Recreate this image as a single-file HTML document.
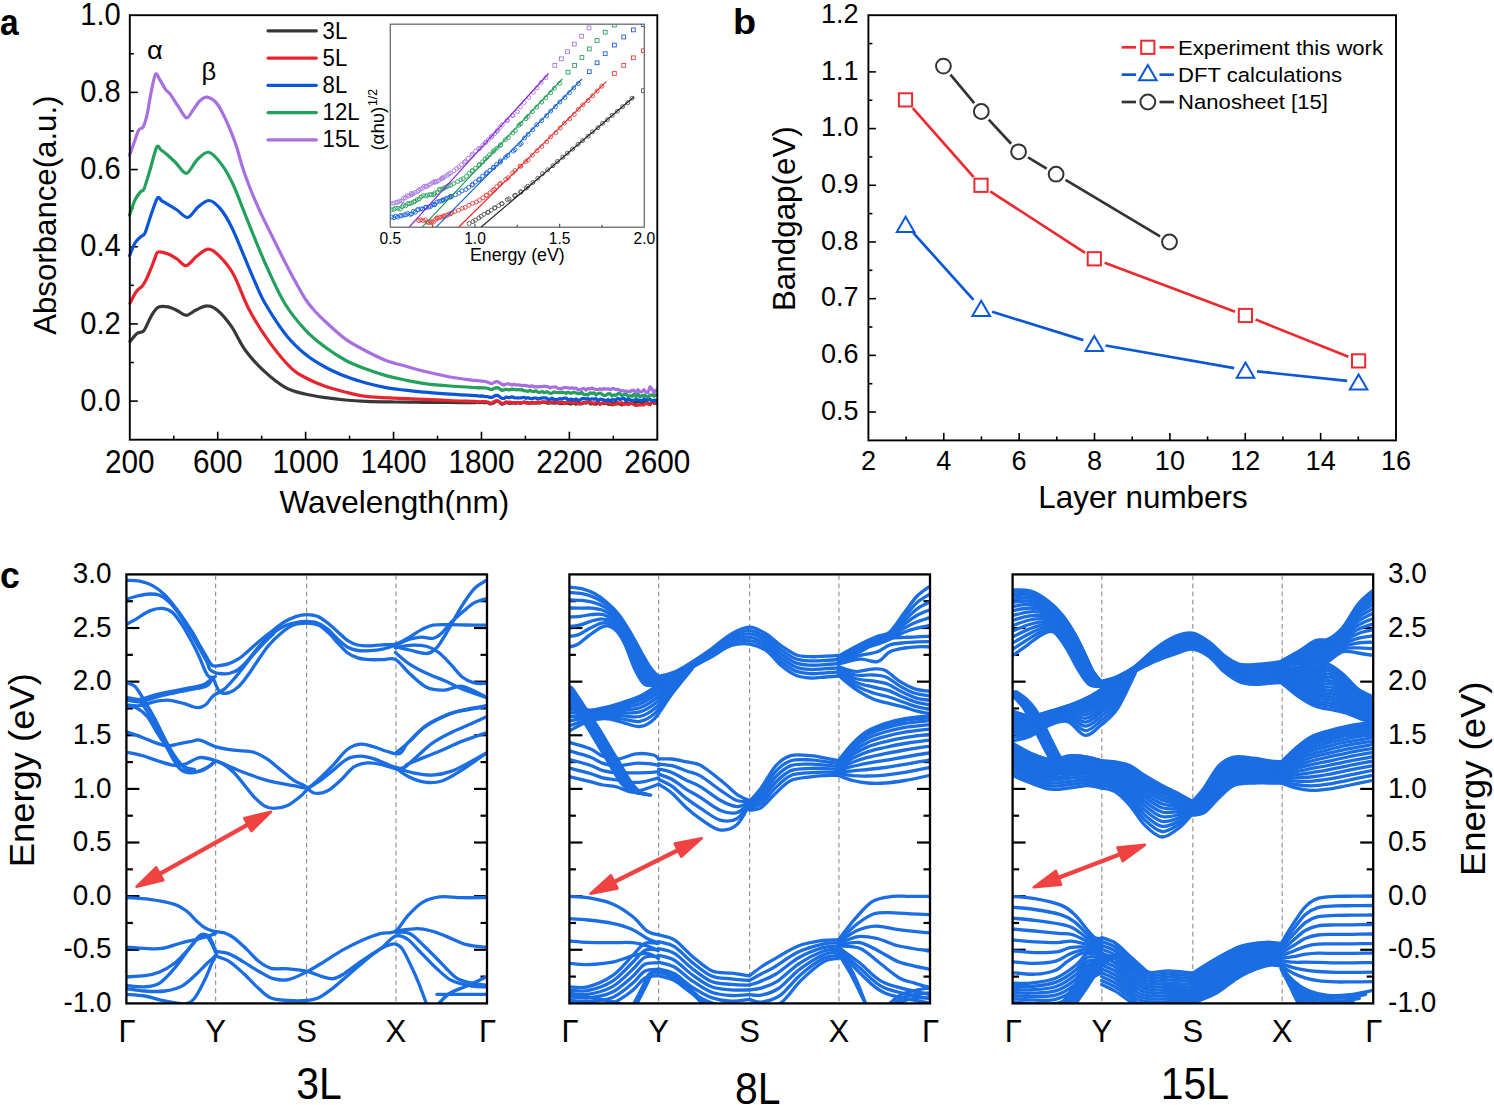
<!DOCTYPE html>
<html><head><meta charset="utf-8"><style>
html,body{margin:0;padding:0;background:#fff;}
svg{display:block;}
text{font-family:"Liberation Sans", sans-serif;}
</style></head><body>
<svg width="1494" height="1105" viewBox="0 0 1494 1105">
<rect width="1494" height="1105" fill="#fff"/>
<line x1="173.76" y1="439.70" x2="173.76" y2="435.70" stroke="#000" stroke-width="1.6" />
<line x1="217.72" y1="439.70" x2="217.72" y2="431.70" stroke="#000" stroke-width="1.6" />
<line x1="261.68" y1="439.70" x2="261.68" y2="435.70" stroke="#000" stroke-width="1.6" />
<line x1="305.63" y1="439.70" x2="305.63" y2="431.70" stroke="#000" stroke-width="1.6" />
<line x1="349.59" y1="439.70" x2="349.59" y2="435.70" stroke="#000" stroke-width="1.6" />
<line x1="393.55" y1="439.70" x2="393.55" y2="431.70" stroke="#000" stroke-width="1.6" />
<line x1="437.51" y1="439.70" x2="437.51" y2="435.70" stroke="#000" stroke-width="1.6" />
<line x1="481.47" y1="439.70" x2="481.47" y2="431.70" stroke="#000" stroke-width="1.6" />
<line x1="525.42" y1="439.70" x2="525.42" y2="435.70" stroke="#000" stroke-width="1.6" />
<line x1="569.38" y1="439.70" x2="569.38" y2="431.70" stroke="#000" stroke-width="1.6" />
<line x1="613.34" y1="439.70" x2="613.34" y2="435.70" stroke="#000" stroke-width="1.6" />
<line x1="129.80" y1="401.11" x2="137.80" y2="401.11" stroke="#000" stroke-width="1.6" />
<line x1="129.80" y1="362.52" x2="133.80" y2="362.52" stroke="#000" stroke-width="1.6" />
<line x1="129.80" y1="323.93" x2="137.80" y2="323.93" stroke="#000" stroke-width="1.6" />
<line x1="129.80" y1="285.34" x2="133.80" y2="285.34" stroke="#000" stroke-width="1.6" />
<line x1="129.80" y1="246.75" x2="137.80" y2="246.75" stroke="#000" stroke-width="1.6" />
<line x1="129.80" y1="208.15" x2="133.80" y2="208.15" stroke="#000" stroke-width="1.6" />
<line x1="129.80" y1="169.56" x2="137.80" y2="169.56" stroke="#000" stroke-width="1.6" />
<line x1="129.80" y1="130.97" x2="133.80" y2="130.97" stroke="#000" stroke-width="1.6" />
<line x1="129.80" y1="92.38" x2="137.80" y2="92.38" stroke="#000" stroke-width="1.6" />
<line x1="129.80" y1="53.79" x2="133.80" y2="53.79" stroke="#000" stroke-width="1.6" />
<text transform="translate(129.80,473.40) scale(0.9040,1)" font-size="32.9" text-anchor="middle" font-weight="normal" fill="#000">200</text>
<text transform="translate(217.72,473.40) scale(0.9040,1)" font-size="32.9" text-anchor="middle" font-weight="normal" fill="#000">600</text>
<text transform="translate(305.63,473.40) scale(0.9040,1)" font-size="32.9" text-anchor="middle" font-weight="normal" fill="#000">1000</text>
<text transform="translate(393.55,473.40) scale(0.9040,1)" font-size="32.9" text-anchor="middle" font-weight="normal" fill="#000">1400</text>
<text transform="translate(481.47,473.40) scale(0.9040,1)" font-size="32.9" text-anchor="middle" font-weight="normal" fill="#000">1800</text>
<text transform="translate(569.38,473.40) scale(0.9040,1)" font-size="32.9" text-anchor="middle" font-weight="normal" fill="#000">2200</text>
<text transform="translate(657.30,473.40) scale(0.9040,1)" font-size="32.9" text-anchor="middle" font-weight="normal" fill="#000">2600</text>
<text transform="translate(120.70,410.76) scale(0.9100,1)" font-size="32.0" text-anchor="end" font-weight="normal" fill="#000">0.0</text>
<text transform="translate(120.70,333.58) scale(0.9100,1)" font-size="32.0" text-anchor="end" font-weight="normal" fill="#000">0.2</text>
<text transform="translate(120.70,256.40) scale(0.9100,1)" font-size="32.0" text-anchor="end" font-weight="normal" fill="#000">0.4</text>
<text transform="translate(120.70,179.21) scale(0.9100,1)" font-size="32.0" text-anchor="end" font-weight="normal" fill="#000">0.6</text>
<text transform="translate(120.70,102.03) scale(0.9100,1)" font-size="32.0" text-anchor="end" font-weight="normal" fill="#000">0.8</text>
<text transform="translate(120.70,24.85) scale(0.9100,1)" font-size="32.0" text-anchor="end" font-weight="normal" fill="#000">1.0</text>
<text transform="translate(279.40,513.30) scale(1.0160,1)" font-size="31" text-anchor="start" font-weight="normal" fill="#000">Wavelength(nm)</text>
<text transform="translate(55.60,334.80) rotate(-90) scale(1.0230,1)" font-size="30.5" text-anchor="start" font-weight="normal" fill="#000">Absorbance(a.u.)</text>
<text transform="translate(0.10,34.80) scale(0.9000,1)" font-size="37.2" text-anchor="start" font-weight="bold" fill="#000">a</text>
<text transform="translate(147.00,58.70) scale(1.0700,1)" font-size="25.6" text-anchor="start" font-weight="normal" fill="#000">&#945;</text>
<text transform="translate(201.50,79.75) scale(1.0360,1)" font-size="24.7" text-anchor="start" font-weight="normal" fill="#000">&#946;</text>
<g fill="none" stroke-width="3.2" stroke-linejoin="round" stroke-linecap="round">
<path d="M130.0 341.4 C131.2 340.1 134.7 335.2 137.0 333.4 C139.3 331.6 141.8 333.2 144.1 330.4 C146.4 327.5 148.8 320.1 151.1 316.3 C153.4 312.5 155.2 308.9 158.1 307.3 C160.9 305.7 165.0 306.4 168.2 306.9 C171.3 307.4 174.0 309.1 177.0 310.5 C180.0 311.9 183.0 315.4 186.2 315.3 C189.4 315.2 192.5 311.6 196.0 310.0 C199.5 308.4 203.7 305.8 207.3 305.9 C210.9 305.9 213.4 306.9 217.4 310.3 C221.4 313.7 226.7 319.7 231.4 326.4 C236.1 333.1 240.1 343.1 245.5 350.5 C250.9 357.9 256.9 364.4 263.6 370.6 C270.3 376.8 278.7 383.7 285.6 387.6 C292.5 391.5 298.3 392.3 305.0 394.0 C311.7 395.7 319.1 396.7 325.8 397.7 C332.5 398.7 338.3 399.4 345.0 400.0 C351.7 400.6 357.7 401.0 366.0 401.3 C374.3 401.6 385.2 401.8 395.0 402.0 C404.8 402.2 415.8 402.2 425.0 402.3 C434.2 402.4 441.7 402.4 450.0 402.5 C458.3 402.6 470.8 402.6 475.0 402.6 L476.0 402.5 L478.0 402.4 L480.0 402.7 L482.0 402.3 L484.0 402.7 L486.0 402.6 L488.0 402.3 L490.0 403.9 L492.0 403.4 L494.0 402.7 L496.0 401.2 L498.0 401.2 L500.0 402.7 L502.0 404.3 L504.0 403.5 L506.0 402.5 L508.0 403.0 L510.0 403.4 L512.0 402.9 L514.0 402.7 L516.0 403.5 L518.0 402.3 L520.0 403.4 L522.0 402.6 L524.0 402.4 L526.0 402.3 L528.0 402.6 L530.0 403.4 L532.0 402.4 L534.0 403.1 L536.0 403.2 L538.0 402.7 L540.0 403.0 L542.0 402.2 L544.0 402.2 L546.0 402.5 L548.0 403.3 L550.0 402.9 L552.0 402.7 L554.0 403.2 L556.0 402.9 L558.0 402.6 L560.0 403.6 L562.0 403.5 L564.0 402.5 L566.0 403.2 L568.0 403.1 L570.0 403.9 L572.0 403.6 L574.0 402.6 L576.0 404.2 L578.0 402.2 L580.0 402.9 L582.0 403.7 L584.0 402.3 L586.0 403.1 L588.0 402.0 L590.0 403.6 L592.0 403.8 L594.0 403.4 L596.0 404.2 L598.0 402.7 L600.0 403.7 L602.0 403.5 L604.0 403.4 L606.0 403.1 L608.0 404.2 L610.0 404.5 L612.0 403.1 L614.0 403.7 L616.0 401.9 L618.0 403.8 L620.0 403.7 L622.0 404.8 L624.0 404.2 L626.0 402.6 L628.0 402.9 L630.0 403.8 L632.0 401.7 L634.0 403.1 L636.0 402.2 L638.0 402.0 L640.0 401.8 L642.0 404.2 L644.0 402.0 L646.0 402.4 L648.0 402.9 L650.0 404.6 L652.0 401.8 L654.0 403.1 L656.0 403.5" stroke="#383838"/>
<path d="M130.0 303.3 C131.0 301.4 134.0 294.9 136.0 292.0 C138.0 289.1 140.4 288.2 142.1 286.2 C143.8 284.2 144.5 283.0 146.0 280.0 C147.5 277.0 149.6 271.9 151.1 268.2 C152.6 264.5 153.8 260.7 155.0 258.0 C156.2 255.3 155.9 252.8 158.1 252.1 C160.3 251.4 165.0 252.9 168.2 254.1 C171.3 255.2 174.0 257.1 177.0 259.0 C180.0 260.9 182.9 266.2 186.2 265.7 C189.5 265.2 193.3 258.8 197.0 256.0 C200.7 253.2 204.6 249.1 208.3 249.1 C212.0 249.1 215.2 251.9 219.4 256.1 C223.6 260.3 228.4 265.2 233.4 274.2 C238.4 283.2 243.5 298.9 249.5 310.3 C255.5 321.7 262.6 332.7 269.6 342.4 C276.6 352.1 285.3 362.5 291.7 368.6 C298.1 374.7 302.3 376.0 308.0 379.0 C313.7 382.0 319.6 384.4 325.8 386.6 C332.0 388.8 338.3 390.4 345.0 392.0 C351.7 393.6 357.7 395.3 366.0 396.3 C374.3 397.3 385.2 397.7 395.0 398.2 C404.8 398.7 415.8 398.9 425.0 399.3 C434.2 399.7 441.7 400.1 450.0 400.5 C458.3 400.9 470.8 401.2 475.0 401.4 L476.0 401.7 L478.0 401.7 L480.0 401.8 L482.0 401.5 L484.0 401.7 L486.0 401.7 L488.0 402.2 L490.0 403.5 L492.0 402.8 L494.0 401.8 L496.0 400.8 L498.0 400.8 L500.0 402.3 L502.0 403.5 L504.0 403.2 L506.0 401.8 L508.0 402.3 L510.0 402.2 L512.0 402.5 L514.0 403.0 L516.0 402.7 L518.0 402.5 L520.0 402.7 L522.0 402.8 L524.0 401.9 L526.0 403.1 L528.0 403.0 L530.0 403.2 L532.0 403.1 L534.0 402.5 L536.0 402.5 L538.0 402.0 L540.0 402.9 L542.0 402.0 L544.0 402.0 L546.0 402.2 L548.0 402.2 L550.0 402.5 L552.0 402.0 L554.0 401.9 L556.0 402.2 L558.0 402.1 L560.0 402.6 L562.0 401.9 L564.0 403.7 L566.0 403.2 L568.0 402.2 L570.0 402.4 L572.0 402.6 L574.0 402.7 L576.0 402.1 L578.0 403.8 L580.0 404.2 L582.0 403.0 L584.0 403.0 L586.0 402.1 L588.0 402.1 L590.0 402.7 L592.0 402.5 L594.0 404.0 L596.0 402.3 L598.0 401.9 L600.0 404.4 L602.0 403.3 L604.0 402.3 L606.0 403.4 L608.0 402.0 L610.0 403.5 L612.0 404.8 L614.0 404.5 L616.0 404.1 L618.0 402.8 L620.0 403.2 L622.0 402.6 L624.0 404.5 L626.0 403.8 L628.0 404.6 L630.0 403.2 L632.0 402.9 L634.0 404.8 L636.0 405.4 L638.0 405.1 L640.0 405.0 L642.0 405.0 L644.0 404.8 L646.0 403.1 L648.0 404.1 L650.0 403.6 L652.0 402.4 L654.0 402.4 L656.0 403.3" stroke="#e8252e"/>
<path d="M129.5 255.9 C130.4 253.8 133.1 246.2 135.0 243.0 C136.9 239.8 139.1 238.4 140.8 236.7 C142.5 235.0 143.3 236.6 145.0 233.0 C146.7 229.4 148.9 220.8 151.0 215.0 C153.1 209.2 155.6 200.5 157.4 198.2 C159.2 195.9 160.4 200.1 162.0 201.0 C163.6 201.9 164.4 202.3 166.9 203.8 C169.4 205.3 173.5 207.7 177.0 210.0 C180.5 212.3 184.4 217.9 187.9 217.4 C191.4 216.9 194.4 209.8 198.0 207.0 C201.6 204.2 205.5 200.3 209.2 200.5 C212.9 200.7 216.3 204.1 220.0 208.4 C223.7 212.7 227.2 218.2 231.3 226.5 C235.5 234.8 241.0 248.9 244.9 258.1 C248.8 267.4 251.6 274.3 255.0 282.0 C258.4 289.7 260.5 295.6 265.6 304.3 C270.7 313.0 278.9 326.0 285.6 334.4 C292.3 342.8 299.1 349.1 305.7 354.5 C312.3 359.9 318.3 363.3 325.0 367.0 C331.7 370.7 339.1 373.9 345.9 376.6 C352.7 379.3 359.3 381.2 366.0 383.0 C372.7 384.8 379.5 386.4 386.0 387.6 C392.5 388.8 398.5 389.4 405.0 390.2 C411.5 391.0 417.5 391.5 425.0 392.2 C432.5 392.9 441.7 393.6 450.0 394.2 C458.3 394.8 470.8 395.4 475.0 395.6 L476.0 395.5 L478.0 395.9 L480.0 396.2 L482.0 395.9 L484.0 396.4 L486.0 396.6 L488.0 396.7 L490.0 397.4 L492.0 397.4 L494.0 396.3 L496.0 395.3 L498.0 395.4 L500.0 397.0 L502.0 398.5 L504.0 398.5 L506.0 397.1 L508.0 397.4 L510.0 397.6 L512.0 396.8 L514.0 397.6 L516.0 398.0 L518.0 397.9 L520.0 398.0 L522.0 397.7 L524.0 397.3 L526.0 398.3 L528.0 397.7 L530.0 398.4 L532.0 398.8 L534.0 398.0 L536.0 398.0 L538.0 399.0 L540.0 398.7 L542.0 397.8 L544.0 397.8 L546.0 397.9 L548.0 399.4 L550.0 399.3 L552.0 398.1 L554.0 399.4 L556.0 399.8 L558.0 399.2 L560.0 398.6 L562.0 399.0 L564.0 398.2 L566.0 398.0 L568.0 400.0 L570.0 399.4 L572.0 399.2 L574.0 400.1 L576.0 399.0 L578.0 400.1 L580.0 400.0 L582.0 398.6 L584.0 398.7 L586.0 398.8 L588.0 398.7 L590.0 399.6 L592.0 398.8 L594.0 399.3 L596.0 398.6 L598.0 400.7 L600.0 399.2 L602.0 399.5 L604.0 399.9 L606.0 400.8 L608.0 399.5 L610.0 400.9 L612.0 399.7 L614.0 399.8 L616.0 399.8 L618.0 398.3 L620.0 399.6 L622.0 398.8 L624.0 398.3 L626.0 400.8 L628.0 398.8 L630.0 399.8 L632.0 400.6 L634.0 400.1 L636.0 399.4 L638.0 400.0 L640.0 400.2 L642.0 401.0 L644.0 398.7 L646.0 400.3 L648.0 399.2 L650.0 399.3 L652.0 401.1 L654.0 400.1 L656.0 400.3" stroke="#0a56d8"/>
<path d="M129.5 215.2 C130.4 212.7 133.1 204.0 135.0 200.0 C136.9 196.0 139.3 193.2 140.8 191.4 C142.3 189.6 142.5 192.6 144.0 189.0 C145.5 185.4 147.9 176.9 150.0 170.0 C152.1 163.1 154.9 150.6 156.7 147.3 C158.5 144.0 159.3 148.8 161.0 150.0 C162.7 151.2 164.4 152.3 166.9 154.5 C169.4 156.7 172.7 159.9 176.0 163.0 C179.3 166.1 183.0 173.8 186.5 173.3 C190.0 172.8 193.3 163.5 197.0 160.0 C200.7 156.5 204.5 151.4 208.7 152.3 C212.9 153.2 218.2 159.8 222.3 165.4 C226.5 171.0 229.4 176.6 233.6 185.7 C237.8 194.8 241.9 206.6 247.2 219.7 C252.5 232.8 259.3 250.1 265.5 264.0 C271.7 277.9 277.8 291.9 284.5 303.0 C291.2 314.1 298.9 323.1 305.7 330.4 C312.4 337.7 318.3 342.0 325.0 347.0 C331.7 352.0 339.1 356.8 345.9 360.5 C352.7 364.2 359.3 366.5 366.0 369.0 C372.7 371.5 379.5 373.8 386.0 375.6 C392.5 377.4 398.5 378.7 405.0 380.0 C411.5 381.3 417.5 382.6 425.0 383.6 C432.5 384.6 441.7 385.4 450.0 386.0 C458.3 386.6 470.8 387.2 475.0 387.5 L476.0 387.7 L478.0 387.9 L480.0 387.7 L482.0 387.9 L484.0 387.9 L486.0 388.0 L488.0 388.3 L490.0 389.3 L492.0 389.5 L494.0 388.4 L496.0 387.8 L498.0 387.7 L500.0 389.1 L502.0 390.4 L504.0 389.9 L506.0 389.2 L508.0 389.8 L510.0 389.8 L512.0 389.1 L514.0 389.3 L516.0 389.8 L518.0 389.5 L520.0 389.8 L522.0 389.7 L524.0 390.7 L526.0 391.0 L528.0 391.4 L530.0 390.4 L532.0 391.4 L534.0 391.5 L536.0 390.8 L538.0 392.2 L540.0 392.5 L542.0 391.3 L544.0 392.8 L546.0 391.9 L548.0 392.2 L550.0 393.3 L552.0 393.1 L554.0 391.9 L556.0 392.5 L558.0 392.7 L560.0 392.4 L562.0 392.2 L564.0 392.5 L566.0 393.4 L568.0 392.0 L570.0 393.2 L572.0 393.1 L574.0 392.2 L576.0 392.9 L578.0 393.7 L580.0 393.5 L582.0 392.5 L584.0 394.8 L586.0 394.4 L588.0 394.9 L590.0 392.8 L592.0 393.3 L594.0 392.8 L596.0 394.8 L598.0 393.5 L600.0 393.2 L602.0 394.1 L604.0 395.5 L606.0 395.3 L608.0 393.8 L610.0 393.6 L612.0 395.8 L614.0 394.9 L616.0 395.4 L618.0 393.6 L620.0 393.6 L622.0 395.6 L624.0 394.8 L626.0 393.8 L628.0 396.6 L630.0 395.7 L632.0 396.3 L634.0 394.1 L636.0 396.7 L638.0 394.1 L640.0 396.9 L642.0 395.6 L644.0 395.2 L646.0 396.0 L648.0 397.4 L650.0 395.2 L652.0 394.7 L654.0 396.1 L656.0 395.0" stroke="#22a05c"/>
<path d="M129.5 155.2 C130.2 153.2 132.5 147.2 134.0 143.0 C135.5 138.8 137.1 133.0 138.6 130.3 C140.1 127.6 141.7 129.5 143.1 126.9 C144.5 124.4 145.7 120.7 147.0 115.0 C148.3 109.3 149.6 99.8 151.0 93.0 C152.4 86.2 154.0 76.6 155.5 74.4 C157.0 72.2 158.3 77.5 160.0 80.0 C161.7 82.5 164.0 87.2 165.7 89.6 C167.4 91.9 168.1 91.4 170.2 94.1 C172.2 96.8 175.3 102.0 178.0 106.0 C180.7 110.0 184.0 117.2 186.5 117.9 C189.0 118.6 190.8 112.8 193.0 110.0 C195.2 107.2 197.4 103.1 199.7 100.9 C202.0 98.8 204.3 96.9 206.9 97.1 C209.5 97.3 213.0 99.5 215.5 102.0 C218.0 104.5 219.8 107.8 222.0 112.0 C224.2 116.2 226.7 121.4 229.0 126.9 C231.3 132.4 233.7 138.2 236.0 145.0 C238.3 151.8 240.3 160.4 242.6 167.6 C244.9 174.8 247.0 180.4 250.0 188.0 C253.0 195.6 257.0 204.9 260.7 212.9 C264.4 220.9 268.2 228.3 272.0 236.0 C275.8 243.7 279.6 251.5 283.4 259.0 C287.2 266.5 291.2 274.2 295.0 281.0 C298.8 287.8 302.6 294.8 306.0 300.0 C309.4 305.2 312.4 308.3 315.7 312.0 C319.0 315.7 320.8 317.4 325.8 322.0 C330.8 326.6 339.2 334.6 345.9 339.4 C352.6 344.2 359.3 347.5 366.0 351.0 C372.7 354.5 379.5 358.0 386.0 360.5 C392.5 363.0 398.5 364.2 405.0 366.0 C411.5 367.8 417.5 369.7 425.0 371.5 C432.5 373.3 441.7 375.5 450.0 377.0 C458.3 378.5 470.8 379.9 475.0 380.5 L476.0 380.3 L478.0 380.6 L480.0 380.8 L482.0 381.1 L484.0 381.4 L486.0 381.7 L488.0 382.3 L490.0 383.2 L492.0 383.7 L494.0 382.5 L496.0 381.7 L498.0 381.7 L500.0 383.2 L502.0 384.3 L504.0 385.2 L506.0 384.0 L508.0 383.8 L510.0 384.3 L512.0 385.0 L514.0 384.1 L516.0 385.2 L518.0 384.8 L520.0 385.1 L522.0 385.7 L524.0 385.3 L526.0 385.6 L528.0 386.0 L530.0 386.6 L532.0 385.8 L534.0 386.8 L536.0 386.7 L538.0 386.8 L540.0 386.5 L542.0 386.6 L544.0 386.2 L546.0 386.5 L548.0 386.6 L550.0 387.9 L552.0 387.1 L554.0 387.0 L556.0 386.9 L558.0 388.5 L560.0 388.7 L562.0 388.4 L564.0 387.6 L566.0 387.6 L568.0 387.8 L570.0 388.3 L572.0 387.7 L574.0 388.4 L576.0 388.0 L578.0 389.8 L580.0 389.9 L582.0 389.0 L584.0 388.3 L586.0 390.2 L588.0 388.6 L590.0 388.8 L592.0 388.0 L594.0 389.0 L596.0 389.4 L598.0 389.5 L600.0 388.8 L602.0 389.7 L604.0 388.4 L606.0 389.2 L608.0 388.7 L610.0 389.7 L612.0 388.7 L614.0 388.7 L616.0 389.6 L618.0 389.4 L620.0 390.6 L622.0 390.5 L624.0 391.2 L626.0 391.0 L628.0 391.3 L630.0 391.9 L632.0 390.4 L634.0 390.3 L636.0 392.5 L638.0 389.8 L640.0 391.8 L642.0 391.6 L644.0 389.6 L646.0 392.4 L648.0 392.7 L650.0 386.8 L652.0 389.2 L654.0 392.5 L656.0 390.1" stroke="#a86fe0"/>
</g>
<line x1="268.00" y1="30.80" x2="316.30" y2="30.80" stroke="#383838" stroke-width="3.2" stroke-linecap="round"/>
<text transform="translate(322.60,39.20) scale(0.9500,1)" font-size="23.3" text-anchor="start" font-weight="normal" fill="#000">3L</text>
<line x1="268.00" y1="58.05" x2="316.30" y2="58.05" stroke="#e8252e" stroke-width="3.2" stroke-linecap="round"/>
<text transform="translate(322.60,66.20) scale(0.9500,1)" font-size="23.3" text-anchor="start" font-weight="normal" fill="#000">5L</text>
<line x1="268.00" y1="85.30" x2="316.30" y2="85.30" stroke="#0a56d8" stroke-width="3.2" stroke-linecap="round"/>
<text transform="translate(322.60,93.20) scale(0.9500,1)" font-size="23.3" text-anchor="start" font-weight="normal" fill="#000">8L</text>
<line x1="268.00" y1="112.55" x2="316.30" y2="112.55" stroke="#22a05c" stroke-width="3.2" stroke-linecap="round"/>
<text transform="translate(322.60,120.20) scale(0.9500,1)" font-size="23.3" text-anchor="start" font-weight="normal" fill="#000">12L</text>
<line x1="268.00" y1="139.80" x2="316.30" y2="139.80" stroke="#a86fe0" stroke-width="3.2" stroke-linecap="round"/>
<text transform="translate(322.60,147.20) scale(0.9500,1)" font-size="23.3" text-anchor="start" font-weight="normal" fill="#000">15L</text>
<rect x="390.3" y="24.2" width="253.99999999999994" height="203.0" fill="none" stroke="#6a6a6a" stroke-width="1.3"/>
<line x1="432.63" y1="227.20" x2="432.63" y2="224.70" stroke="#555" stroke-width="1.2" />
<line x1="474.97" y1="227.20" x2="474.97" y2="223.70" stroke="#555" stroke-width="1.2" />
<line x1="517.30" y1="227.20" x2="517.30" y2="224.70" stroke="#555" stroke-width="1.2" />
<line x1="559.63" y1="227.20" x2="559.63" y2="223.70" stroke="#555" stroke-width="1.2" />
<line x1="601.97" y1="227.20" x2="601.97" y2="224.70" stroke="#555" stroke-width="1.2" />
<text transform="translate(390.30,243.90) scale(1.0000,1)" font-size="15.6" text-anchor="middle" font-weight="normal" fill="#000">0.5</text>
<text transform="translate(474.97,243.90) scale(1.0000,1)" font-size="15.6" text-anchor="middle" font-weight="normal" fill="#000">1.0</text>
<text transform="translate(559.63,243.90) scale(1.0000,1)" font-size="15.6" text-anchor="middle" font-weight="normal" fill="#000">1.5</text>
<text transform="translate(644.30,243.90) scale(1.0000,1)" font-size="15.6" text-anchor="middle" font-weight="normal" fill="#000">2.0</text>
<text transform="translate(470.00,260.95) scale(1.0000,1)" font-size="17.75" text-anchor="start" font-weight="normal" fill="#000">Energy (eV)</text>
<text transform="translate(383.90,150.60) rotate(-90) scale(1.0270,1)" font-size="18.2" text-anchor="start" font-weight="normal" fill="#000">(&#945;h&#965;)</text>
<text transform="translate(377.30,106.00) rotate(-90) scale(1.0000,1)" font-size="12.3" text-anchor="start" font-weight="normal" fill="#000">1/2</text>
<defs><clipPath id="icl"><rect x="390.3" y="24.2" width="253.99999999999994" height="203.0"/></clipPath></defs>
<g clip-path="url(#icl)">
<g fill="none" stroke="#555" stroke-width="0.9"><circle cx="469.2" cy="223.5" r="2"/><circle cx="472.9" cy="221.6" r="2"/><circle cx="475.4" cy="220.1" r="2"/><circle cx="478.8" cy="218.0" r="2"/><circle cx="481.1" cy="216.3" r="2"/><circle cx="484.0" cy="214.3" r="2"/><circle cx="487.7" cy="212.3" r="2"/><circle cx="488.3" cy="212.4" r="2"/><circle cx="491.4" cy="210.2" r="2"/><circle cx="494.8" cy="207.9" r="2"/><circle cx="494.7" cy="207.8" r="2"/><circle cx="498.8" cy="205.6" r="2"/><circle cx="502.0" cy="203.7" r="2"/><circle cx="501.8" cy="203.6" r="2"/><circle cx="507.3" cy="199.7" r="2"/><circle cx="509.0" cy="198.9" r="2"/><circle cx="514.6" cy="195.6" r="2"/><circle cx="515.5" cy="195.3" r="2"/><circle cx="520.6" cy="191.9" r="2"/><circle cx="521.0" cy="192.0" r="2"/><circle cx="526.2" cy="188.0" r="2"/><circle cx="527.7" cy="186.3" r="2"/><circle cx="532.8" cy="182.5" r="2"/><circle cx="537.8" cy="178.2" r="2"/><circle cx="542.5" cy="173.7" r="2"/><circle cx="547.7" cy="169.8" r="2"/><circle cx="553.0" cy="165.7" r="2"/><circle cx="557.6" cy="161.4" r="2"/><circle cx="562.8" cy="157.1" r="2"/><circle cx="567.4" cy="153.2" r="2"/><circle cx="572.5" cy="149.1" r="2"/><circle cx="578.0" cy="144.3" r="2"/><circle cx="582.6" cy="140.6" r="2"/><circle cx="588.0" cy="136.2" r="2"/><circle cx="592.4" cy="131.8" r="2"/><circle cx="597.9" cy="127.7" r="2"/><circle cx="602.6" cy="123.4" r="2"/><circle cx="607.5" cy="119.7" r="2"/><circle cx="612.2" cy="115.4" r="2"/><circle cx="617.4" cy="111.3" r="2"/><circle cx="622.6" cy="106.7" r="2"/><circle cx="627.7" cy="102.7" r="2"/><circle cx="632.0" cy="98.2" r="2"/><rect x="641.6" y="88.8" width="3.8" height="3.8"/></g>
<line x1="480.90" y1="227.20" x2="634.10" y2="96.80" stroke="#222" stroke-width="1.2" />
<g fill="none" stroke="#e84040" stroke-width="0.9"><circle cx="418.6" cy="220.5" r="2"/><circle cx="420.6" cy="219.9" r="2"/><circle cx="422.9" cy="220.5" r="2"/><circle cx="425.5" cy="219.9" r="2"/><circle cx="427.0" cy="222.0" r="2"/><circle cx="428.7" cy="222.5" r="2"/><circle cx="431.3" cy="222.7" r="2"/><circle cx="431.3" cy="221.5" r="2"/><circle cx="433.4" cy="222.0" r="2"/><circle cx="435.5" cy="219.5" r="2"/><circle cx="437.3" cy="218.3" r="2"/><circle cx="437.0" cy="217.8" r="2"/><circle cx="439.7" cy="217.5" r="2"/><circle cx="441.8" cy="217.0" r="2"/><circle cx="443.3" cy="216.3" r="2"/><circle cx="444.3" cy="215.8" r="2"/><circle cx="446.9" cy="215.3" r="2"/><circle cx="448.8" cy="214.2" r="2"/><circle cx="450.9" cy="213.6" r="2"/><circle cx="451.5" cy="213.0" r="2"/><circle cx="454.8" cy="211.5" r="2"/><circle cx="458.6" cy="210.2" r="2"/><circle cx="462.4" cy="208.3" r="2"/><circle cx="465.2" cy="207.4" r="2"/><circle cx="468.9" cy="205.3" r="2"/><circle cx="472.6" cy="203.4" r="2"/><circle cx="476.5" cy="202.0" r="2"/><circle cx="479.6" cy="200.1" r="2"/><circle cx="483.0" cy="197.8" r="2"/><circle cx="486.4" cy="195.3" r="2"/><circle cx="486.5" cy="195.1" r="2"/><circle cx="490.2" cy="192.7" r="2"/><circle cx="492.7" cy="190.4" r="2"/><circle cx="494.3" cy="189.4" r="2"/><circle cx="496.7" cy="186.6" r="2"/><circle cx="499.7" cy="184.1" r="2"/><circle cx="500.6" cy="183.3" r="2"/><circle cx="505.7" cy="179.4" r="2"/><circle cx="508.3" cy="177.7" r="2"/><circle cx="512.6" cy="173.0" r="2"/><circle cx="515.1" cy="170.5" r="2"/><circle cx="520.0" cy="166.2" r="2"/><circle cx="520.7" cy="166.2" r="2"/><circle cx="525.6" cy="161.7" r="2"/><circle cx="528.1" cy="160.2" r="2"/><circle cx="532.4" cy="155.3" r="2"/><circle cx="537.0" cy="150.8" r="2"/><circle cx="541.8" cy="146.5" r="2"/><circle cx="546.7" cy="141.9" r="2"/><circle cx="550.6" cy="136.8" r="2"/><circle cx="555.8" cy="132.7" r="2"/><circle cx="560.2" cy="127.9" r="2"/><circle cx="564.4" cy="123.2" r="2"/><circle cx="569.8" cy="118.9" r="2"/><circle cx="574.3" cy="114.4" r="2"/><circle cx="578.4" cy="109.3" r="2"/><circle cx="582.9" cy="104.9" r="2"/><circle cx="588.0" cy="100.6" r="2"/><circle cx="592.6" cy="95.8" r="2"/><circle cx="597.2" cy="91.1" r="2"/><circle cx="601.7" cy="86.3" r="2"/><rect x="612.5" y="71.6" width="3.8" height="3.8"/><rect x="621.8" y="63.5" width="3.8" height="3.8"/><rect x="631.5" y="55.9" width="3.8" height="3.8"/><rect x="641.6" y="48.8" width="3.8" height="3.8"/></g>
<line x1="458.60" y1="227.20" x2="606.20" y2="81.60" stroke="#e62626" stroke-width="1.2" />
<g fill="none" stroke="#1a62d8" stroke-width="0.9"><circle cx="391.7" cy="217.0" r="2"/><circle cx="394.0" cy="217.7" r="2"/><circle cx="395.7" cy="216.1" r="2"/><circle cx="397.8" cy="217.1" r="2"/><circle cx="400.0" cy="215.6" r="2"/><circle cx="401.6" cy="215.9" r="2"/><circle cx="404.1" cy="214.9" r="2"/><circle cx="405.9" cy="214.8" r="2"/><circle cx="407.8" cy="213.4" r="2"/><circle cx="410.3" cy="214.4" r="2"/><circle cx="411.6" cy="213.8" r="2"/><circle cx="413.5" cy="211.3" r="2"/><circle cx="415.3" cy="212.2" r="2"/><circle cx="417.6" cy="209.7" r="2"/><circle cx="418.2" cy="209.6" r="2"/><circle cx="420.9" cy="208.9" r="2"/><circle cx="422.7" cy="209.0" r="2"/><circle cx="425.4" cy="207.4" r="2"/><circle cx="426.4" cy="207.2" r="2"/><circle cx="428.7" cy="207.1" r="2"/><circle cx="430.5" cy="206.4" r="2"/><circle cx="432.9" cy="204.7" r="2"/><circle cx="434.5" cy="204.8" r="2"/><circle cx="434.9" cy="204.3" r="2"/><circle cx="436.9" cy="202.0" r="2"/><circle cx="439.4" cy="201.3" r="2"/><circle cx="441.5" cy="200.9" r="2"/><circle cx="442.9" cy="199.9" r="2"/><circle cx="443.2" cy="200.1" r="2"/><circle cx="445.7" cy="198.9" r="2"/><circle cx="447.3" cy="198.1" r="2"/><circle cx="449.7" cy="197.2" r="2"/><circle cx="451.0" cy="196.3" r="2"/><circle cx="451.4" cy="196.7" r="2"/><circle cx="455.4" cy="194.8" r="2"/><circle cx="459.0" cy="193.2" r="2"/><circle cx="462.0" cy="190.9" r="2"/><circle cx="465.9" cy="189.5" r="2"/><circle cx="468.6" cy="187.3" r="2"/><circle cx="472.2" cy="184.9" r="2"/><circle cx="472.6" cy="184.5" r="2"/><circle cx="475.4" cy="182.0" r="2"/><circle cx="478.7" cy="179.9" r="2"/><circle cx="479.5" cy="179.1" r="2"/><circle cx="482.6" cy="176.1" r="2"/><circle cx="486.2" cy="173.8" r="2"/><circle cx="486.7" cy="172.6" r="2"/><circle cx="489.9" cy="170.3" r="2"/><circle cx="493.3" cy="167.7" r="2"/><circle cx="493.8" cy="167.3" r="2"/><circle cx="496.6" cy="164.5" r="2"/><circle cx="500.3" cy="162.1" r="2"/><circle cx="500.5" cy="160.9" r="2"/><circle cx="505.5" cy="157.3" r="2"/><circle cx="507.8" cy="155.4" r="2"/><circle cx="513.3" cy="151.0" r="2"/><circle cx="514.9" cy="149.7" r="2"/><circle cx="519.8" cy="144.6" r="2"/><circle cx="521.1" cy="143.4" r="2"/><circle cx="524.6" cy="138.0" r="2"/><circle cx="528.2" cy="134.3" r="2"/><circle cx="532.7" cy="129.8" r="2"/><circle cx="536.8" cy="124.7" r="2"/><circle cx="541.7" cy="120.6" r="2"/><circle cx="546.7" cy="115.6" r="2"/><circle cx="550.7" cy="111.0" r="2"/><circle cx="555.5" cy="106.7" r="2"/><circle cx="559.9" cy="102.0" r="2"/><circle cx="564.9" cy="97.5" r="2"/><circle cx="569.5" cy="92.7" r="2"/><circle cx="573.7" cy="87.9" r="2"/><circle cx="578.4" cy="83.6" r="2"/><rect x="587.4" y="69.8" width="3.8" height="3.8"/><rect x="595.2" y="60.9" width="3.8" height="3.8"/><rect x="603.3" y="51.8" width="3.8" height="3.8"/><rect x="612.5" y="43.2" width="3.8" height="3.8"/><rect x="621.8" y="35.1" width="3.8" height="3.8"/><rect x="631.5" y="28.0" width="3.8" height="3.8"/><rect x="641.6" y="22.7" width="3.8" height="3.8"/></g>
<line x1="436.20" y1="227.20" x2="581.90" y2="79.00" stroke="#1560d8" stroke-width="1.2" />
<g fill="none" stroke="#2aa060" stroke-width="0.9"><circle cx="391.2" cy="209.9" r="2"/><circle cx="393.8" cy="209.4" r="2"/><circle cx="395.4" cy="208.3" r="2"/><circle cx="397.9" cy="208.3" r="2"/><circle cx="400.2" cy="209.1" r="2"/><circle cx="402.2" cy="206.7" r="2"/><circle cx="403.4" cy="205.3" r="2"/><circle cx="405.7" cy="205.8" r="2"/><circle cx="407.6" cy="203.7" r="2"/><circle cx="409.6" cy="203.6" r="2"/><circle cx="411.6" cy="203.0" r="2"/><circle cx="413.7" cy="201.8" r="2"/><circle cx="415.1" cy="201.3" r="2"/><circle cx="417.2" cy="199.6" r="2"/><circle cx="419.3" cy="199.0" r="2"/><circle cx="421.1" cy="196.9" r="2"/><circle cx="423.1" cy="195.7" r="2"/><circle cx="425.7" cy="196.0" r="2"/><circle cx="427.4" cy="195.0" r="2"/><circle cx="430.0" cy="194.6" r="2"/><circle cx="431.5" cy="194.7" r="2"/><circle cx="433.9" cy="194.5" r="2"/><circle cx="434.8" cy="192.8" r="2"/><circle cx="437.3" cy="192.6" r="2"/><circle cx="439.3" cy="189.6" r="2"/><circle cx="440.7" cy="189.4" r="2"/><circle cx="442.5" cy="188.9" r="2"/><circle cx="444.6" cy="187.9" r="2"/><circle cx="446.4" cy="186.9" r="2"/><circle cx="448.5" cy="185.7" r="2"/><circle cx="450.8" cy="185.2" r="2"/><circle cx="453.6" cy="183.6" r="2"/><circle cx="457.6" cy="181.5" r="2"/><circle cx="461.0" cy="179.7" r="2"/><circle cx="463.1" cy="178.7" r="2"/><circle cx="466.4" cy="176.3" r="2"/><circle cx="469.1" cy="173.2" r="2"/><circle cx="472.2" cy="171.0" r="2"/><circle cx="472.4" cy="170.5" r="2"/><circle cx="475.5" cy="168.2" r="2"/><circle cx="478.9" cy="165.2" r="2"/><circle cx="479.5" cy="164.6" r="2"/><circle cx="482.6" cy="161.9" r="2"/><circle cx="485.1" cy="158.8" r="2"/><circle cx="487.0" cy="157.5" r="2"/><circle cx="489.5" cy="154.7" r="2"/><circle cx="492.9" cy="151.9" r="2"/><circle cx="494.0" cy="150.5" r="2"/><circle cx="496.9" cy="148.2" r="2"/><circle cx="500.4" cy="145.4" r="2"/><circle cx="500.7" cy="144.8" r="2"/><circle cx="505.3" cy="139.8" r="2"/><circle cx="508.3" cy="137.6" r="2"/><circle cx="512.9" cy="133.0" r="2"/><circle cx="515.4" cy="130.6" r="2"/><circle cx="518.9" cy="125.3" r="2"/><circle cx="520.9" cy="123.6" r="2"/><circle cx="525.9" cy="118.7" r="2"/><circle cx="528.1" cy="116.4" r="2"/><circle cx="532.5" cy="111.6" r="2"/><circle cx="536.7" cy="107.1" r="2"/><circle cx="541.7" cy="102.1" r="2"/><circle cx="545.8" cy="97.8" r="2"/><circle cx="550.7" cy="92.7" r="2"/><circle cx="554.4" cy="88.4" r="2"/><circle cx="559.6" cy="83.4" r="2"/><rect x="566.1" y="70.3" width="3.8" height="3.8"/><rect x="572.7" y="63.5" width="3.8" height="3.8"/><rect x="580.0" y="55.6" width="3.8" height="3.8"/><rect x="587.4" y="47.0" width="3.8" height="3.8"/><rect x="595.2" y="38.6" width="3.8" height="3.8"/><rect x="603.3" y="30.3" width="3.8" height="3.8"/><rect x="612.5" y="23.1" width="3.8" height="3.8"/></g>
<line x1="422.10" y1="227.20" x2="562.40" y2="79.00" stroke="#1f9a55" stroke-width="1.2" />
<g fill="none" stroke="#a877e0" stroke-width="0.9"><circle cx="391.1" cy="203.4" r="2"/><circle cx="393.6" cy="203.1" r="2"/><circle cx="396.0" cy="202.5" r="2"/><circle cx="397.8" cy="202.1" r="2"/><circle cx="399.6" cy="201.0" r="2"/><circle cx="402.0" cy="200.8" r="2"/><circle cx="403.3" cy="198.2" r="2"/><circle cx="405.4" cy="197.8" r="2"/><circle cx="407.2" cy="195.7" r="2"/><circle cx="409.0" cy="196.0" r="2"/><circle cx="411.4" cy="193.3" r="2"/><circle cx="411.5" cy="194.7" r="2"/><circle cx="413.1" cy="193.9" r="2"/><circle cx="415.1" cy="192.4" r="2"/><circle cx="417.5" cy="191.5" r="2"/><circle cx="418.4" cy="190.4" r="2"/><circle cx="420.6" cy="189.3" r="2"/><circle cx="422.5" cy="188.3" r="2"/><circle cx="424.3" cy="186.2" r="2"/><circle cx="426.3" cy="186.2" r="2"/><circle cx="426.6" cy="186.5" r="2"/><circle cx="429.1" cy="184.9" r="2"/><circle cx="430.6" cy="184.1" r="2"/><circle cx="432.6" cy="182.4" r="2"/><circle cx="434.9" cy="181.5" r="2"/><circle cx="435.1" cy="182.4" r="2"/><circle cx="436.6" cy="181.6" r="2"/><circle cx="438.6" cy="180.7" r="2"/><circle cx="441.0" cy="179.1" r="2"/><circle cx="442.3" cy="178.0" r="2"/><circle cx="443.2" cy="177.9" r="2"/><circle cx="444.8" cy="176.6" r="2"/><circle cx="447.4" cy="175.3" r="2"/><circle cx="449.1" cy="173.8" r="2"/><circle cx="450.8" cy="172.9" r="2"/><circle cx="454.0" cy="170.8" r="2"/><circle cx="456.7" cy="168.5" r="2"/><circle cx="458.9" cy="166.8" r="2"/><circle cx="461.5" cy="164.7" r="2"/><circle cx="464.4" cy="162.2" r="2"/><circle cx="465.4" cy="161.4" r="2"/><circle cx="468.1" cy="158.4" r="2"/><circle cx="471.6" cy="155.4" r="2"/><circle cx="472.5" cy="154.1" r="2"/><circle cx="475.6" cy="151.3" r="2"/><circle cx="478.6" cy="148.8" r="2"/><circle cx="480.1" cy="148.3" r="2"/><circle cx="482.9" cy="145.2" r="2"/><circle cx="485.7" cy="142.3" r="2"/><circle cx="485.6" cy="142.5" r="2"/><circle cx="488.3" cy="139.8" r="2"/><circle cx="491.3" cy="136.8" r="2"/><circle cx="491.8" cy="136.3" r="2"/><circle cx="494.7" cy="133.7" r="2"/><circle cx="497.1" cy="131.0" r="2"/><circle cx="497.2" cy="130.9" r="2"/><circle cx="500.0" cy="127.4" r="2"/><circle cx="502.3" cy="124.7" r="2"/><circle cx="506.9" cy="120.8" r="2"/><circle cx="507.6" cy="120.2" r="2"/><circle cx="512.4" cy="115.5" r="2"/><circle cx="513.1" cy="115.4" r="2"/><circle cx="517.5" cy="111.7" r="2"/><circle cx="520.5" cy="106.8" r="2"/><circle cx="524.2" cy="102.5" r="2"/><circle cx="528.7" cy="97.5" r="2"/><circle cx="533.4" cy="92.4" r="2"/><circle cx="537.1" cy="87.8" r="2"/><circle cx="541.2" cy="82.5" r="2"/><circle cx="545.8" cy="77.7" r="2"/><rect x="552.9" y="63.5" width="3.8" height="3.8"/><rect x="559.5" y="56.9" width="3.8" height="3.8"/><rect x="565.7" y="49.8" width="3.8" height="3.8"/><rect x="572.4" y="42.2" width="3.8" height="3.8"/><rect x="579.8" y="34.3" width="3.8" height="3.8"/><rect x="587.1" y="26.0" width="3.8" height="3.8"/></g>
<line x1="409.20" y1="227.20" x2="548.50" y2="73.50" stroke="#8a22d4" stroke-width="1.2" />
</g>
<line x1="906.09" y1="440.40" x2="906.09" y2="436.40" stroke="#000" stroke-width="1.6" />
<line x1="943.77" y1="440.40" x2="943.77" y2="432.90" stroke="#000" stroke-width="1.6" />
<line x1="981.46" y1="440.40" x2="981.46" y2="436.40" stroke="#000" stroke-width="1.6" />
<line x1="1019.14" y1="440.40" x2="1019.14" y2="432.90" stroke="#000" stroke-width="1.6" />
<line x1="1056.83" y1="440.40" x2="1056.83" y2="436.40" stroke="#000" stroke-width="1.6" />
<line x1="1094.51" y1="440.40" x2="1094.51" y2="432.90" stroke="#000" stroke-width="1.6" />
<line x1="1132.20" y1="440.40" x2="1132.20" y2="436.40" stroke="#000" stroke-width="1.6" />
<line x1="1169.89" y1="440.40" x2="1169.89" y2="432.90" stroke="#000" stroke-width="1.6" />
<line x1="1207.57" y1="440.40" x2="1207.57" y2="436.40" stroke="#000" stroke-width="1.6" />
<line x1="1245.26" y1="440.40" x2="1245.26" y2="432.90" stroke="#000" stroke-width="1.6" />
<line x1="1282.94" y1="440.40" x2="1282.94" y2="436.40" stroke="#000" stroke-width="1.6" />
<line x1="1320.63" y1="440.40" x2="1320.63" y2="432.90" stroke="#000" stroke-width="1.6" />
<line x1="1358.31" y1="440.40" x2="1358.31" y2="436.40" stroke="#000" stroke-width="1.6" />
<line x1="868.40" y1="412.05" x2="875.90" y2="412.05" stroke="#000" stroke-width="1.6" />
<line x1="868.40" y1="383.71" x2="872.40" y2="383.71" stroke="#000" stroke-width="1.6" />
<line x1="868.40" y1="355.36" x2="875.90" y2="355.36" stroke="#000" stroke-width="1.6" />
<line x1="868.40" y1="327.01" x2="872.40" y2="327.01" stroke="#000" stroke-width="1.6" />
<line x1="868.40" y1="298.67" x2="875.90" y2="298.67" stroke="#000" stroke-width="1.6" />
<line x1="868.40" y1="270.32" x2="872.40" y2="270.32" stroke="#000" stroke-width="1.6" />
<line x1="868.40" y1="241.97" x2="875.90" y2="241.97" stroke="#000" stroke-width="1.6" />
<line x1="868.40" y1="213.63" x2="872.40" y2="213.63" stroke="#000" stroke-width="1.6" />
<line x1="868.40" y1="185.28" x2="875.90" y2="185.28" stroke="#000" stroke-width="1.6" />
<line x1="868.40" y1="156.93" x2="872.40" y2="156.93" stroke="#000" stroke-width="1.6" />
<line x1="868.40" y1="128.59" x2="875.90" y2="128.59" stroke="#000" stroke-width="1.6" />
<line x1="868.40" y1="100.24" x2="872.40" y2="100.24" stroke="#000" stroke-width="1.6" />
<line x1="868.40" y1="71.89" x2="875.90" y2="71.89" stroke="#000" stroke-width="1.6" />
<line x1="868.40" y1="43.55" x2="872.40" y2="43.55" stroke="#000" stroke-width="1.6" />
<text transform="translate(868.40,470.35) scale(0.9800,1)" font-size="27.6" text-anchor="middle" font-weight="normal" fill="#000">2</text>
<text transform="translate(943.77,470.35) scale(0.9800,1)" font-size="27.6" text-anchor="middle" font-weight="normal" fill="#000">4</text>
<text transform="translate(1019.14,470.35) scale(0.9800,1)" font-size="27.6" text-anchor="middle" font-weight="normal" fill="#000">6</text>
<text transform="translate(1094.51,470.35) scale(0.9800,1)" font-size="27.6" text-anchor="middle" font-weight="normal" fill="#000">8</text>
<text transform="translate(1169.89,470.35) scale(0.9800,1)" font-size="27.6" text-anchor="middle" font-weight="normal" fill="#000">10</text>
<text transform="translate(1245.26,470.35) scale(0.9800,1)" font-size="27.6" text-anchor="middle" font-weight="normal" fill="#000">12</text>
<text transform="translate(1320.63,470.35) scale(0.9800,1)" font-size="27.6" text-anchor="middle" font-weight="normal" fill="#000">14</text>
<text transform="translate(1396.00,470.35) scale(0.9800,1)" font-size="27.6" text-anchor="middle" font-weight="normal" fill="#000">16</text>
<text transform="translate(858.60,419.70) scale(0.9800,1)" font-size="27.6" text-anchor="end" font-weight="normal" fill="#000">0.5</text>
<text transform="translate(858.60,363.01) scale(0.9800,1)" font-size="27.6" text-anchor="end" font-weight="normal" fill="#000">0.6</text>
<text transform="translate(858.60,306.32) scale(0.9800,1)" font-size="27.6" text-anchor="end" font-weight="normal" fill="#000">0.7</text>
<text transform="translate(858.60,249.62) scale(0.9800,1)" font-size="27.6" text-anchor="end" font-weight="normal" fill="#000">0.8</text>
<text transform="translate(858.60,192.93) scale(0.9800,1)" font-size="27.6" text-anchor="end" font-weight="normal" fill="#000">0.9</text>
<text transform="translate(858.60,136.24) scale(0.9800,1)" font-size="27.6" text-anchor="end" font-weight="normal" fill="#000">1.0</text>
<text transform="translate(858.60,79.54) scale(0.9800,1)" font-size="27.6" text-anchor="end" font-weight="normal" fill="#000">1.1</text>
<text transform="translate(858.60,22.85) scale(0.9800,1)" font-size="27.6" text-anchor="end" font-weight="normal" fill="#000">1.2</text>
<text transform="translate(1038.30,508.05) scale(1.0130,1)" font-size="31" text-anchor="start" font-weight="normal" fill="#000">Layer numbers</text>
<text transform="translate(794.90,311.10) rotate(-90) scale(1.0290,1)" font-size="30.5" text-anchor="start" font-weight="normal" fill="#000">Bandgap(eV)</text>
<text transform="translate(732.90,33.55) scale(1.0560,1)" font-size="35.8" text-anchor="start" font-weight="bold" fill="#000">b</text>
<line x1="950.45" y1="74.54" x2="974.25" y2="103.06" stroke="#333333" stroke-width="2.7" />
<line x1="988.77" y1="119.57" x2="1011.13" y2="143.73" stroke="#333333" stroke-width="2.7" />
<line x1="1028.04" y1="157.44" x2="1046.66" y2="168.56" stroke="#333333" stroke-width="2.7" />
<line x1="1065.54" y1="179.84" x2="1160.06" y2="236.36" stroke="#333333" stroke-width="2.7" />
<line x1="912.79" y1="108.14" x2="973.71" y2="177.06" stroke="#ec2a30" stroke-width="2.7" />
<line x1="990.23" y1="191.29" x2="1085.07" y2="252.81" stroke="#ec2a30" stroke-width="2.7" />
<line x1="1104.60" y1="262.66" x2="1235.10" y2="311.64" stroke="#ec2a30" stroke-width="2.7" />
<line x1="1255.61" y1="319.59" x2="1348.39" y2="356.81" stroke="#ec2a30" stroke-width="2.7" />
<line x1="913.29" y1="232.85" x2="973.51" y2="299.85" stroke="#0b58d6" stroke-width="2.7" />
<line x1="992.18" y1="311.81" x2="1083.32" y2="340.09" stroke="#0b58d6" stroke-width="2.7" />
<line x1="1105.62" y1="345.50" x2="1234.18" y2="368.20" stroke="#0b58d6" stroke-width="2.7" />
<line x1="1256.94" y1="371.39" x2="1347.16" y2="380.81" stroke="#0b58d6" stroke-width="2.7" />
<rect x="898.9" y="93.3" width="13.2" height="13.2" fill="none" stroke="#ec2a30" stroke-width="2.0"/>
<rect x="974.4" y="178.7" width="13.2" height="13.2" fill="none" stroke="#ec2a30" stroke-width="2.0"/>
<rect x="1087.7" y="252.2" width="13.2" height="13.2" fill="none" stroke="#ec2a30" stroke-width="2.0"/>
<rect x="1238.8" y="308.9" width="13.2" height="13.2" fill="none" stroke="#ec2a30" stroke-width="2.0"/>
<rect x="1352.0" y="354.3" width="13.2" height="13.2" fill="none" stroke="#ec2a30" stroke-width="2.0"/>
<path d="M905.6 216.7 L914.4 231.9 L896.8 231.9 Z" fill="none" stroke="#0b58d6" stroke-width="2.0" stroke-linejoin="miter"/>
<path d="M981.2 300.8 L990.0 316.0 L972.4 316.0 Z" fill="none" stroke="#0b58d6" stroke-width="2.0" stroke-linejoin="miter"/>
<path d="M1094.3 335.9 L1103.1 351.1 L1085.5 351.1 Z" fill="none" stroke="#0b58d6" stroke-width="2.0" stroke-linejoin="miter"/>
<path d="M1245.5 362.6 L1254.3 377.8 L1236.7 377.8 Z" fill="none" stroke="#0b58d6" stroke-width="2.0" stroke-linejoin="miter"/>
<path d="M1358.6 374.4 L1367.4 389.6 L1349.8 389.6 Z" fill="none" stroke="#0b58d6" stroke-width="2.0" stroke-linejoin="miter"/>
<circle cx="943.4" cy="66.1" r="7.4" fill="none" stroke="#333333" stroke-width="2.0"/>
<circle cx="981.3" cy="111.5" r="7.4" fill="none" stroke="#333333" stroke-width="2.0"/>
<circle cx="1018.6" cy="151.8" r="7.4" fill="none" stroke="#333333" stroke-width="2.0"/>
<circle cx="1056.1" cy="174.2" r="7.4" fill="none" stroke="#333333" stroke-width="2.0"/>
<circle cx="1169.5" cy="242.0" r="7.4" fill="none" stroke="#333333" stroke-width="2.0"/>
<line x1="1121.70" y1="47.30" x2="1136.00" y2="47.30" stroke="#ec2a30" stroke-width="2.7" />
<line x1="1159.50" y1="47.30" x2="1174.00" y2="47.30" stroke="#ec2a30" stroke-width="2.7" />
<rect x="1141.2" y="40.7" width="13.2" height="13.2" fill="none" stroke="#ec2a30" stroke-width="2.0"/>
<text transform="translate(1178.10,54.65) scale(1.0880,1)" font-size="20.3" text-anchor="start" font-weight="normal" fill="#000">Experiment this work</text>
<line x1="1121.70" y1="74.65" x2="1136.00" y2="74.65" stroke="#0b58d6" stroke-width="2.7" />
<line x1="1159.50" y1="74.65" x2="1174.00" y2="74.65" stroke="#0b58d6" stroke-width="2.7" />
<path d="M1147.8 65.1 L1156.6 80.2 L1139.0 80.2 Z" fill="none" stroke="#0b58d6" stroke-width="2.0" stroke-linejoin="miter"/>
<text transform="translate(1178.10,82.00) scale(1.0880,1)" font-size="20.3" text-anchor="start" font-weight="normal" fill="#000">DFT calculations</text>
<line x1="1121.70" y1="102.00" x2="1136.00" y2="102.00" stroke="#333333" stroke-width="2.7" />
<line x1="1159.50" y1="102.00" x2="1174.00" y2="102.00" stroke="#333333" stroke-width="2.7" />
<circle cx="1147.8" cy="102.0" r="7.4" fill="none" stroke="#333333" stroke-width="2.0"/>
<text transform="translate(1178.10,109.35) scale(1.0880,1)" font-size="20.3" text-anchor="start" font-weight="normal" fill="#000">Nanosheet [15]</text>
<rect x="129.8" y="15.2" width="527.5" height="424.5" fill="none" stroke="#000" stroke-width="1.9"/>
<rect x="868.4" y="15.2" width="527.6" height="425.2" fill="none" stroke="#000" stroke-width="1.9"/>
<line x1="215.65" y1="575.40" x2="215.65" y2="1002.40" stroke="#8c8c8c" stroke-width="1.1" stroke-dasharray="4.7 3.4"/>
<line x1="306.63" y1="575.40" x2="306.63" y2="1002.40" stroke="#8c8c8c" stroke-width="1.1" stroke-dasharray="4.7 3.4"/>
<line x1="395.95" y1="575.40" x2="395.95" y2="1002.40" stroke="#8c8c8c" stroke-width="1.1" stroke-dasharray="4.7 3.4"/>
<line x1="126.40" y1="601.21" x2="132.90" y2="601.21" stroke="#000" stroke-width="2.2" />
<line x1="487.00" y1="601.21" x2="480.50" y2="601.21" stroke="#000" stroke-width="2.2" />
<line x1="126.40" y1="628.02" x2="139.40" y2="628.02" stroke="#000" stroke-width="2.2" />
<line x1="487.00" y1="628.02" x2="474.00" y2="628.02" stroke="#000" stroke-width="2.2" />
<line x1="126.40" y1="654.84" x2="132.90" y2="654.84" stroke="#000" stroke-width="2.2" />
<line x1="487.00" y1="654.84" x2="480.50" y2="654.84" stroke="#000" stroke-width="2.2" />
<line x1="126.40" y1="681.65" x2="139.40" y2="681.65" stroke="#000" stroke-width="2.2" />
<line x1="487.00" y1="681.65" x2="474.00" y2="681.65" stroke="#000" stroke-width="2.2" />
<line x1="126.40" y1="708.46" x2="132.90" y2="708.46" stroke="#000" stroke-width="2.2" />
<line x1="487.00" y1="708.46" x2="480.50" y2="708.46" stroke="#000" stroke-width="2.2" />
<line x1="126.40" y1="735.27" x2="139.40" y2="735.27" stroke="#000" stroke-width="2.2" />
<line x1="487.00" y1="735.27" x2="474.00" y2="735.27" stroke="#000" stroke-width="2.2" />
<line x1="126.40" y1="762.09" x2="132.90" y2="762.09" stroke="#000" stroke-width="2.2" />
<line x1="487.00" y1="762.09" x2="480.50" y2="762.09" stroke="#000" stroke-width="2.2" />
<line x1="126.40" y1="788.90" x2="139.40" y2="788.90" stroke="#000" stroke-width="2.2" />
<line x1="487.00" y1="788.90" x2="474.00" y2="788.90" stroke="#000" stroke-width="2.2" />
<line x1="126.40" y1="815.71" x2="132.90" y2="815.71" stroke="#000" stroke-width="2.2" />
<line x1="487.00" y1="815.71" x2="480.50" y2="815.71" stroke="#000" stroke-width="2.2" />
<line x1="126.40" y1="842.52" x2="139.40" y2="842.52" stroke="#000" stroke-width="2.2" />
<line x1="487.00" y1="842.52" x2="474.00" y2="842.52" stroke="#000" stroke-width="2.2" />
<line x1="126.40" y1="869.34" x2="132.90" y2="869.34" stroke="#000" stroke-width="2.2" />
<line x1="487.00" y1="869.34" x2="480.50" y2="869.34" stroke="#000" stroke-width="2.2" />
<line x1="126.40" y1="896.15" x2="139.40" y2="896.15" stroke="#000" stroke-width="2.2" />
<line x1="487.00" y1="896.15" x2="474.00" y2="896.15" stroke="#000" stroke-width="2.2" />
<line x1="126.40" y1="922.96" x2="132.90" y2="922.96" stroke="#000" stroke-width="2.2" />
<line x1="487.00" y1="922.96" x2="480.50" y2="922.96" stroke="#000" stroke-width="2.2" />
<line x1="126.40" y1="949.77" x2="139.40" y2="949.77" stroke="#000" stroke-width="2.2" />
<line x1="487.00" y1="949.77" x2="474.00" y2="949.77" stroke="#000" stroke-width="2.2" />
<line x1="126.40" y1="976.59" x2="132.90" y2="976.59" stroke="#000" stroke-width="2.2" />
<line x1="487.00" y1="976.59" x2="480.50" y2="976.59" stroke="#000" stroke-width="2.2" />
<defs><clipPath id="cc0"><rect x="126.4" y="574.4" width="360.6" height="429.0"/></clipPath></defs>
<g clip-path="url(#cc0)" fill="none" stroke="#1a6de2" stroke-width="3.3" stroke-linejoin="round" stroke-linecap="round">
<path d="M126.2 580.4 C128.5 580.5 135.5 580.3 139.8 581.1 C144.1 582.0 148.1 583.1 152.2 585.4 C156.3 587.6 160.4 590.7 164.6 594.8 C168.7 598.8 172.8 604.2 177.0 609.6 C181.1 615.1 185.6 621.7 189.3 627.5 C193.1 633.2 196.4 639.3 199.2 644.3 C202.1 649.2 204.5 653.7 206.7 657.2 C208.8 660.7 210.1 663.9 212.1 665.3 C214.2 666.7 216.3 665.9 219.1 665.6 C221.9 665.3 225.7 664.8 229.0 663.6 C232.3 662.5 235.6 660.8 238.9 658.7 C242.2 656.5 245.5 653.3 248.8 650.5 C252.1 647.7 255.0 644.9 258.7 641.8 C262.4 638.7 266.9 635.1 271.1 631.9 C275.2 628.7 279.3 625.1 283.4 622.5 C287.6 619.9 292.0 617.9 295.8 616.6 C299.7 615.2 302.8 614.6 306.5 614.6 C310.2 614.6 314.5 615.1 318.1 616.6 C321.7 618.0 324.7 620.7 328.0 623.2 C331.3 625.8 334.6 629.0 337.9 631.9 C341.2 634.8 344.5 638.4 347.8 640.6 C351.1 642.8 354.0 644.2 357.7 645.0 C361.5 645.9 366.0 645.8 370.1 645.8 C374.3 645.7 378.3 645.1 382.5 644.8 C386.7 644.5 390.9 645.3 395.4 644.0 C399.9 642.8 405.2 639.5 409.5 637.1 C413.8 634.8 417.2 631.9 421.1 629.9 C425.1 627.9 428.1 626.1 433.0 625.2 C437.9 624.4 445.0 624.8 450.6 624.7 C456.2 624.7 460.8 624.9 466.7 625.0 C472.6 625.1 482.8 625.2 486.0 625.2"/>
<path d="M126.2 599.2 C128.0 598.7 133.4 596.9 137.3 596.0 C141.3 595.1 146.0 594.1 149.7 594.0 C153.4 593.9 156.3 593.9 159.6 595.3 C162.9 596.6 166.2 599.0 169.5 602.2 C172.8 605.4 176.1 609.8 179.4 614.6 C182.7 619.3 186.0 625.1 189.3 630.7 C192.6 636.2 196.4 642.8 199.2 648.0 C202.1 653.2 204.9 658.1 206.7 661.6 C208.4 665.1 208.5 667.3 209.6 669.1 C210.8 670.8 212.0 671.3 213.6 672.0 C215.2 672.8 216.5 673.3 219.1 673.5 C221.6 673.8 225.7 674.3 229.0 673.5 C232.3 672.8 235.6 671.5 238.9 669.1 C242.2 666.7 245.5 662.9 248.8 659.2 C252.1 655.4 255.0 650.8 258.7 646.8 C262.4 642.7 266.9 638.3 271.1 634.9 C275.2 631.5 279.3 628.5 283.4 626.5 C287.6 624.4 292.0 623.3 295.8 622.5 C299.7 621.7 302.8 621.4 306.5 621.5 C310.2 621.6 314.5 621.9 318.1 623.2 C321.7 624.6 324.7 626.8 328.0 629.4 C331.3 632.1 334.6 636.4 337.9 639.3 C341.2 642.3 344.5 645.4 347.8 647.3 C351.1 649.1 354.0 649.9 357.7 650.5 C361.5 651.1 366.0 650.9 370.1 650.7 C374.3 650.5 378.3 650.2 382.5 649.2 C386.7 648.3 390.9 646.9 395.4 645.3 C399.9 643.6 405.2 640.7 409.5 639.3 C413.8 638.0 417.2 637.3 421.1 637.1 C425.1 636.9 429.7 638.9 433.0 638.4 C436.4 637.8 438.3 636.2 441.2 633.6 C444.1 631.1 447.1 626.5 450.6 623.0 C454.1 619.4 458.3 615.7 462.2 612.3 C466.2 609.0 470.2 605.2 474.1 602.9 C478.1 600.7 484.0 599.4 486.0 598.7"/>
<path d="M126.2 624.5 C128.0 623.5 133.4 620.6 137.3 618.3 C141.3 616.0 145.6 612.5 149.7 610.9 C153.8 609.2 158.4 608.2 162.1 608.4 C165.8 608.6 168.7 609.4 172.0 612.1 C175.3 614.8 178.6 619.5 181.9 624.5 C185.2 629.4 188.9 636.5 191.8 641.8 C194.7 647.2 197.0 651.7 199.2 656.7 C201.5 661.6 203.8 668.2 205.4 671.5 C207.1 674.9 207.9 676.0 209.2 677.0 C210.4 678.0 211.6 676.2 212.9 677.7 C214.1 679.3 215.3 683.9 216.6 686.4 C217.8 688.9 218.2 691.6 220.3 692.6 C222.4 693.6 225.9 693.6 229.0 692.6 C232.1 691.6 235.6 689.5 238.9 686.4 C242.2 683.3 245.5 678.6 248.8 674.0 C252.1 669.5 255.4 663.9 258.7 659.2 C262.0 654.4 264.9 649.9 268.6 645.5 C272.3 641.2 276.8 636.6 281.0 633.2 C285.1 629.7 289.1 626.7 293.4 625.0 C297.6 623.3 302.4 623.0 306.5 623.0 C310.6 623.0 314.5 623.4 318.1 625.0 C321.7 626.5 324.7 629.4 328.0 632.4 C331.3 635.4 334.6 639.6 337.9 643.1 C341.2 646.5 344.5 650.5 347.8 653.0 C351.1 655.4 354.0 656.8 357.7 657.9 C361.5 659.0 366.0 659.4 370.1 659.6 C374.3 659.9 378.3 659.7 382.5 659.6 C386.7 659.6 390.9 657.1 395.4 659.4 C399.9 661.7 404.2 668.8 409.5 673.5 C414.8 678.2 421.2 684.9 427.1 687.6 C432.9 690.4 438.8 690.3 444.7 690.1 C450.5 689.9 455.4 685.2 462.2 686.4 C469.1 687.5 482.1 695.3 486.0 697.0"/>
<path d="M395.4 646.5 C397.7 647.1 404.2 648.8 409.5 650.0 C414.8 651.1 422.6 653.8 427.1 653.5 C431.6 653.1 433.6 650.7 436.5 647.8 C439.4 644.8 441.9 640.2 444.7 635.9 C447.4 631.5 449.9 626.8 452.8 621.8 C455.8 616.7 458.7 610.9 462.2 605.4 C465.8 599.9 470.2 592.9 474.1 588.8 C478.1 584.7 484.0 582.0 486.0 580.6"/>
<path d="M395.4 647.8 C397.7 647.3 404.2 645.5 409.5 645.3 C414.8 645.1 422.2 645.3 427.1 646.5 C432.0 647.7 434.8 649.5 438.7 652.5 C442.6 655.4 446.7 660.0 450.6 664.1 C454.5 668.2 458.3 673.8 462.2 677.0 C466.2 680.1 470.2 681.9 474.1 682.9 C478.1 684.0 484.0 683.3 486.0 683.4"/>
<path d="M395.4 652.5 C397.7 654.4 404.2 660.6 409.5 664.1 C414.8 667.6 421.2 670.8 427.1 673.5 C432.9 676.3 438.8 678.1 444.7 680.7 C450.5 683.3 455.4 686.1 462.2 688.9 C469.1 691.7 482.1 696.1 486.0 697.5"/>
<path d="M126.2 697.5 C128.5 697.8 134.7 699.8 139.8 699.3 C145.0 698.7 151.4 695.7 157.1 694.3 C162.9 692.9 169.1 691.9 174.5 690.9 C179.8 689.8 184.8 688.8 189.3 687.9 C193.9 687.0 198.6 686.4 201.7 685.4 C204.8 684.4 205.6 683.4 207.9 681.9 C210.2 680.5 214.1 677.4 215.3 676.5"/>
<path d="M126.2 700.0 C128.5 700.3 134.7 702.3 139.8 701.7 C145.0 701.2 151.4 698.3 157.1 696.8 C162.9 695.3 168.7 694.1 174.5 692.8 C180.3 691.6 186.9 690.4 191.8 689.4 C196.8 688.4 201.3 687.8 204.2 686.9 C207.1 686.0 207.8 685.2 209.2 683.9 C210.5 682.6 211.6 679.8 212.1 679.0"/>
<path d="M126.2 705.0 C128.5 705.1 135.1 706.2 139.8 705.7 C144.6 705.2 149.7 702.7 154.7 701.7 C159.6 700.8 164.6 699.9 169.5 700.3 C174.5 700.6 179.8 702.5 184.4 703.7 C188.9 705.0 193.3 707.5 196.8 707.7 C200.3 707.9 203.0 706.7 205.4 705.0 C207.9 703.3 210.0 699.3 211.6 697.5 C213.3 695.8 213.3 695.7 215.3 694.3 C217.4 693.0 220.9 691.9 224.0 689.4 C227.1 686.8 230.6 682.8 233.9 679.0 C237.2 675.2 240.5 670.7 243.8 666.6 C247.1 662.5 250.4 658.1 253.7 654.2 C257.0 650.3 260.3 646.7 263.6 643.3 C266.9 639.9 271.9 635.5 273.5 633.9"/>
<path d="M126.4 698.0 C127.7 698.2 131.6 698.1 134.1 699.0 C136.7 699.9 138.7 699.8 141.8 703.5 C144.9 707.1 149.1 714.7 152.7 720.8 C156.3 727.0 159.7 733.7 163.3 740.4 C166.9 747.1 171.3 756.1 174.2 760.9 C177.2 765.8 178.2 767.6 180.9 769.6 C183.6 771.6 187.5 772.6 190.6 772.8 C193.6 773.1 196.4 772.1 199.2 771.1 C202.1 770.1 205.2 768.5 207.9 766.9 C210.6 765.2 214.1 762.1 215.3 761.2"/>
<path d="M126.4 705.7 C128.1 706.0 132.9 705.9 136.3 707.7 C139.8 709.5 143.7 712.0 147.2 716.4 C150.8 720.7 154.3 728.3 157.9 733.9 C161.5 739.6 165.2 745.2 168.8 750.0 C172.4 754.9 176.7 760.2 179.7 763.2 C182.7 766.2 184.4 767.1 186.9 768.1 C189.3 769.1 193.1 769.1 194.3 769.4"/>
<path d="M395.4 753.3 C397.8 751.3 404.9 745.8 409.7 741.4 C414.6 736.9 419.7 730.4 424.6 726.5 C429.6 722.6 434.1 720.6 439.5 718.1 C444.8 715.6 449.0 713.6 456.8 711.7 C464.6 709.8 481.2 707.5 486.0 706.7"/>
<path d="M395.4 767.6 C398.2 768.4 406.1 771.3 412.2 772.6 C418.3 773.8 425.4 775.3 432.0 775.1 C438.6 774.8 445.2 773.4 451.8 771.1 C458.5 768.8 466.0 764.2 471.7 761.2 C477.4 758.2 483.6 754.6 486.0 753.3"/>
<path d="M395.4 767.6 C397.4 769.0 402.4 773.6 407.3 776.0 C412.1 778.5 418.8 781.4 424.6 782.2 C430.4 783.1 435.8 783.0 441.9 781.0 C448.1 779.0 454.4 774.7 461.8 770.1 C469.1 765.5 482.0 756.1 486.0 753.3"/>
<path d="M126.2 897.7 C130.1 898.0 141.7 898.3 149.7 899.4 C157.8 900.5 168.3 902.4 174.5 904.4 C180.7 906.3 183.2 908.5 186.9 911.3 C190.6 914.1 193.9 918.5 196.8 921.2 C199.7 923.9 201.5 925.7 204.2 927.4 C206.9 929.0 209.6 930.2 212.9 931.1 C216.2 932.0 220.5 931.7 224.0 932.8 C227.5 934.0 230.2 935.1 233.9 937.8 C237.6 940.5 242.2 945.0 246.3 948.9 C250.4 952.9 254.6 958.1 258.7 961.3 C262.8 964.5 266.1 967.0 271.1 968.3 C276.0 969.5 282.5 968.3 288.4 968.8 C294.3 969.2 300.7 969.9 306.5 971.2 C312.3 972.6 318.7 975.7 323.1 976.9 C327.5 978.2 329.7 979.1 333.0 978.7 C336.3 978.2 338.8 976.9 342.9 974.5 C347.0 972.0 352.4 967.5 357.7 963.8 C363.1 960.1 370.1 955.2 375.1 952.2 C380.0 949.1 384.1 946.8 387.5 945.5 C390.8 944.1 392.9 943.4 395.4 944.0 C397.9 944.6 399.5 944.9 402.3 948.9 C405.1 953.0 409.3 962.2 412.2 968.3 C415.1 974.4 417.2 979.4 419.7 985.6 C422.1 991.8 425.8 1002.1 427.1 1005.4"/>
<path d="M215.3 951.4 C217.6 951.8 224.2 952.1 229.0 953.9 C233.7 955.7 238.9 959.2 243.8 962.1 C248.8 965.0 253.7 968.5 258.7 971.2 C263.6 974.0 268.6 977.3 273.5 978.7 C278.5 980.1 282.9 980.8 288.4 979.7 C293.9 978.5 300.7 974.9 306.5 972.0 C312.3 969.1 317.0 966.0 323.1 962.3 C329.1 958.6 336.3 953.6 342.9 949.9 C349.5 946.2 356.5 942.8 362.7 940.0 C368.9 937.3 374.6 935.1 380.0 933.6 C385.5 932.1 390.8 934.0 395.4 931.1 C399.9 928.2 402.8 921.0 407.3 916.3 C411.7 911.5 416.8 905.9 422.1 902.6 C427.5 899.4 432.9 897.8 439.5 896.9 C446.1 896.1 454.0 897.6 461.8 897.7 C469.5 897.8 482.0 897.7 486.0 897.7"/>
<path d="M215.3 955.9 C217.6 956.8 224.2 958.4 229.0 961.3 C233.7 964.3 238.9 969.2 243.8 973.7 C248.8 978.2 254.1 984.5 258.7 988.6 C263.2 992.6 266.1 996.0 271.1 998.0 C276.0 1000.0 282.5 1000.0 288.4 1000.5 C294.3 1000.9 301.5 1000.9 306.5 1000.5 C311.4 1000.0 313.7 1000.0 318.1 998.0 C322.5 995.9 327.6 992.2 333.0 988.1 C338.3 983.9 344.5 978.2 350.3 973.2 C356.1 968.3 362.3 962.7 367.6 958.4 C373.0 954.0 377.9 950.9 382.5 947.2 C387.1 943.5 391.3 937.4 395.4 936.1 C399.5 934.7 402.8 936.1 407.3 939.0 C411.7 942.0 417.2 948.9 422.1 953.9 C427.1 958.8 432.0 964.3 437.0 968.8 C441.9 973.2 446.1 977.8 451.8 980.6 C457.6 983.5 466.0 985.1 471.7 986.1 C477.4 987.1 483.6 986.7 486.0 986.8"/>
<path d="M395.4 931.1 C399.0 930.7 411.1 928.6 417.2 928.6 C423.3 928.6 427.1 929.8 432.0 931.1 C437.0 932.4 441.1 934.3 446.9 936.6 C452.7 938.8 460.2 943.0 466.7 944.7 C473.2 946.5 482.8 946.8 486.0 947.2"/>
<path d="M395.4 932.4 C397.8 932.6 404.9 931.2 409.7 933.6 C414.6 935.9 419.2 941.4 424.6 946.5 C430.0 951.5 436.6 958.5 441.9 963.8 C447.3 969.1 451.8 974.9 456.8 978.2 C461.8 981.4 466.8 982.0 471.7 983.1 C476.5 984.3 483.6 984.8 486.0 985.1"/>
<path d="M437.0 1005.4 C439.1 1003.4 444.4 996.7 449.4 993.5 C454.3 990.3 460.6 988.9 466.7 986.1 C472.8 983.3 482.8 978.5 486.0 976.9"/>
<path d="M437.0 994.3 C441.1 994.3 453.6 994.3 461.8 994.3 C469.9 994.3 482.0 994.3 486.0 994.3"/>
<path d="M126.2 947.2 C129.3 947.4 138.8 948.2 144.8 948.4 C150.7 948.7 156.3 949.3 162.1 948.4 C167.9 947.6 174.1 944.9 179.4 943.5 C184.8 942.0 190.2 940.8 194.3 939.8 C198.4 938.7 200.7 938.3 204.2 937.3 C207.7 936.3 213.5 934.2 215.3 933.6"/>
<path d="M126.2 976.9 C129.3 976.7 139.2 976.5 144.8 975.7 C150.3 974.9 154.7 974.0 159.6 972.0 C164.6 969.9 169.9 966.8 174.5 963.3 C179.0 959.8 183.2 954.8 186.9 950.9 C190.6 947.0 193.9 942.5 196.8 939.8 C199.7 937.1 202.1 935.4 204.2 934.8 C206.3 934.3 207.3 934.1 209.2 936.6 C211.0 939.0 214.3 947.5 215.3 949.7"/>
<path d="M126.2 985.6 C129.3 985.8 139.2 987.2 144.8 986.8 C150.3 986.4 154.7 986.2 159.6 983.1 C164.6 980.0 169.5 974.0 174.5 968.3 C179.4 962.5 185.2 953.8 189.3 948.4 C193.5 943.1 196.6 938.3 199.2 936.1 C201.9 933.8 203.4 933.6 205.4 934.8 C207.5 936.1 209.8 940.2 211.6 943.5 C213.5 946.8 215.8 952.8 216.6 954.6"/>
<path d="M126.2 988.6 C129.3 989.0 138.4 990.6 144.8 991.0 C151.2 991.5 158.4 991.9 164.6 991.0 C170.8 990.2 176.5 989.0 181.9 986.1 C187.3 983.2 192.6 977.4 196.8 973.7 C200.9 970.0 203.6 966.8 206.7 963.8 C209.8 960.8 213.9 957.2 215.3 955.9"/>
<path d="M126.2 994.3 C129.3 994.6 138.4 994.9 144.8 996.0 C151.2 997.1 158.0 999.6 164.6 1000.9 C171.2 1002.3 179.4 1004.3 184.4 1003.9 C189.3 1003.5 191.0 1002.3 194.3 998.5 C197.6 994.7 201.3 986.9 204.2 981.1 C207.1 975.4 209.8 968.0 211.6 963.8 C213.5 959.6 214.7 957.2 215.3 955.9"/>
<path d="M126.2 731.7 C128.8 732.6 136.5 735.2 141.8 737.2 C147.1 739.1 153.4 742.2 157.9 743.6 C162.4 745.0 165.2 745.8 168.8 745.8 C172.4 745.8 175.8 744.3 179.7 743.6 C183.5 742.9 188.4 741.9 191.8 741.4 C195.2 740.8 196.0 739.2 200.0 740.2 C204.0 741.1 210.5 745.2 216.1 746.9 C221.6 748.5 227.2 749.3 233.5 750.2 C239.7 751.1 248.0 750.8 253.5 752.2 C259.1 753.7 262.5 756.0 266.9 758.9 C271.4 761.8 275.9 766.0 280.3 769.6 C284.8 773.2 289.7 777.6 293.7 780.3 C297.7 783.0 301.1 783.6 304.4 785.7 C307.8 787.8 310.0 792.1 313.8 793.0 C317.6 793.9 322.7 793.2 327.2 791.0 C331.6 788.9 336.1 784.3 340.6 780.3 C345.0 776.3 349.5 769.8 353.9 766.9 C358.4 764.0 362.9 763.4 367.3 762.9 C371.8 762.5 375.3 763.1 380.7 764.3 C386.2 765.4 395.6 769.6 400.0 769.6 C404.4 769.6 404.4 766.0 407.3 764.4 C410.1 762.8 411.8 762.4 417.2 760.2 C422.5 758.0 432.0 754.4 439.5 751.3 C446.9 748.1 454.0 744.4 461.8 741.4 C469.5 738.3 482.0 734.4 486.0 733.0"/>
<path d="M126.2 752.3 C128.8 752.8 136.5 754.0 141.8 755.5 C147.1 756.9 152.5 759.3 157.9 760.9 C163.3 762.6 169.7 764.9 174.2 765.4 C178.8 765.9 180.8 765.5 185.1 764.2 C189.4 762.9 194.8 758.1 200.0 757.6 C205.2 757.0 209.4 758.7 216.1 760.9 C222.8 763.1 231.7 767.7 240.2 771.0 C248.6 774.2 258.0 777.9 266.9 780.3 C275.9 782.8 287.0 784.4 293.7 785.7 C300.4 786.9 302.6 788.6 307.1 787.7 C311.6 786.8 316.0 783.3 320.5 780.3 C324.9 777.3 329.4 773.2 333.9 769.6 C338.3 766.0 342.8 761.1 347.3 758.9 C351.7 756.7 356.2 756.2 360.6 756.2 C365.1 756.2 367.5 756.9 374.0 758.9 C380.6 760.9 393.6 768.0 400.0 768.3 C406.4 768.6 406.9 764.8 412.2 760.7 C417.6 756.5 425.4 748.1 432.0 743.4 C438.6 738.6 445.2 735.5 451.8 732.2 C458.5 728.9 466.0 726.1 471.7 723.5 C477.4 721.0 483.6 718.2 486.0 717.1"/>
<path d="M126.2 682.7 C127.6 683.3 131.8 683.3 134.9 686.4 C138.0 689.5 141.5 695.9 144.8 701.3 C148.1 706.6 151.4 712.4 154.7 718.6 C158.0 724.8 161.3 732.2 164.6 738.4 C167.9 744.6 171.2 750.8 174.5 755.7 C177.8 760.7 181.5 765.4 184.4 768.1 C187.3 770.8 188.9 771.4 191.8 771.8 C194.7 772.2 198.6 771.6 201.7 770.6 C204.8 769.6 207.8 767.1 210.4 765.6 C213.0 764.1 213.6 760.5 217.4 761.6 C221.2 762.7 227.4 766.5 233.5 772.3 C239.5 778.1 248.4 790.8 253.5 796.4 C258.7 802.0 260.9 803.7 264.3 805.8 C267.6 807.8 269.8 808.4 273.6 808.4 C277.4 808.4 282.6 807.8 287.0 805.8 C291.5 803.7 297.1 799.1 300.4 796.4 C303.7 793.7 303.7 792.8 307.1 789.7 C310.4 786.6 316.0 781.9 320.5 777.6 C324.9 773.4 329.4 768.9 333.9 764.3 C338.3 759.6 342.8 752.9 347.3 749.5 C351.7 746.2 356.2 744.6 360.6 744.2 C365.1 743.7 369.6 745.6 374.0 746.9 C378.5 748.1 383.1 750.4 387.4 751.5 C391.7 752.7 396.7 754.9 400.0 753.5 C403.3 752.2 403.6 747.4 407.3 743.4 C411.0 739.3 417.2 732.9 422.1 729.0 C427.1 725.1 431.6 722.6 437.0 719.8 C442.4 717.1 448.5 714.3 454.3 712.4 C460.1 710.5 466.4 709.3 471.7 708.2 C476.9 707.1 483.6 706.1 486.0 705.7"/>
</g>
<rect x="126.4" y="574.4" width="360.6" height="429.0" fill="none" stroke="#000" stroke-width="2.3"/>
<text transform="translate(127.00,1041.90) scale(1.0000,1)" font-size="31.0" text-anchor="middle" font-weight="normal" fill="#000">&#915;</text>
<text transform="translate(215.65,1041.90) scale(1.0000,1)" font-size="31.0" text-anchor="middle" font-weight="normal" fill="#000">Y</text>
<text transform="translate(306.63,1041.90) scale(1.0000,1)" font-size="31.0" text-anchor="middle" font-weight="normal" fill="#000">S</text>
<text transform="translate(395.95,1041.90) scale(1.0000,1)" font-size="31.0" text-anchor="middle" font-weight="normal" fill="#000">X</text>
<text transform="translate(487.60,1041.90) scale(1.0000,1)" font-size="31.0" text-anchor="middle" font-weight="normal" fill="#000">&#915;</text>
<text transform="translate(319.00,1099.30) scale(0.9300,1)" font-size="44.0" text-anchor="middle" font-weight="normal" fill="#000">3L</text>
<line x1="658.65" y1="575.40" x2="658.65" y2="1002.40" stroke="#8c8c8c" stroke-width="1.1" stroke-dasharray="4.7 3.4"/>
<line x1="749.63" y1="575.40" x2="749.63" y2="1002.40" stroke="#8c8c8c" stroke-width="1.1" stroke-dasharray="4.7 3.4"/>
<line x1="838.95" y1="575.40" x2="838.95" y2="1002.40" stroke="#8c8c8c" stroke-width="1.1" stroke-dasharray="4.7 3.4"/>
<line x1="569.40" y1="601.21" x2="575.90" y2="601.21" stroke="#000" stroke-width="2.2" />
<line x1="930.00" y1="601.21" x2="923.50" y2="601.21" stroke="#000" stroke-width="2.2" />
<line x1="569.40" y1="628.02" x2="582.40" y2="628.02" stroke="#000" stroke-width="2.2" />
<line x1="930.00" y1="628.02" x2="917.00" y2="628.02" stroke="#000" stroke-width="2.2" />
<line x1="569.40" y1="654.84" x2="575.90" y2="654.84" stroke="#000" stroke-width="2.2" />
<line x1="930.00" y1="654.84" x2="923.50" y2="654.84" stroke="#000" stroke-width="2.2" />
<line x1="569.40" y1="681.65" x2="582.40" y2="681.65" stroke="#000" stroke-width="2.2" />
<line x1="930.00" y1="681.65" x2="917.00" y2="681.65" stroke="#000" stroke-width="2.2" />
<line x1="569.40" y1="708.46" x2="575.90" y2="708.46" stroke="#000" stroke-width="2.2" />
<line x1="930.00" y1="708.46" x2="923.50" y2="708.46" stroke="#000" stroke-width="2.2" />
<line x1="569.40" y1="735.27" x2="582.40" y2="735.27" stroke="#000" stroke-width="2.2" />
<line x1="930.00" y1="735.27" x2="917.00" y2="735.27" stroke="#000" stroke-width="2.2" />
<line x1="569.40" y1="762.09" x2="575.90" y2="762.09" stroke="#000" stroke-width="2.2" />
<line x1="930.00" y1="762.09" x2="923.50" y2="762.09" stroke="#000" stroke-width="2.2" />
<line x1="569.40" y1="788.90" x2="582.40" y2="788.90" stroke="#000" stroke-width="2.2" />
<line x1="930.00" y1="788.90" x2="917.00" y2="788.90" stroke="#000" stroke-width="2.2" />
<line x1="569.40" y1="815.71" x2="575.90" y2="815.71" stroke="#000" stroke-width="2.2" />
<line x1="930.00" y1="815.71" x2="923.50" y2="815.71" stroke="#000" stroke-width="2.2" />
<line x1="569.40" y1="842.52" x2="582.40" y2="842.52" stroke="#000" stroke-width="2.2" />
<line x1="930.00" y1="842.52" x2="917.00" y2="842.52" stroke="#000" stroke-width="2.2" />
<line x1="569.40" y1="869.34" x2="575.90" y2="869.34" stroke="#000" stroke-width="2.2" />
<line x1="930.00" y1="869.34" x2="923.50" y2="869.34" stroke="#000" stroke-width="2.2" />
<line x1="569.40" y1="896.15" x2="582.40" y2="896.15" stroke="#000" stroke-width="2.2" />
<line x1="930.00" y1="896.15" x2="917.00" y2="896.15" stroke="#000" stroke-width="2.2" />
<line x1="569.40" y1="922.96" x2="575.90" y2="922.96" stroke="#000" stroke-width="2.2" />
<line x1="930.00" y1="922.96" x2="923.50" y2="922.96" stroke="#000" stroke-width="2.2" />
<line x1="569.40" y1="949.77" x2="582.40" y2="949.77" stroke="#000" stroke-width="2.2" />
<line x1="930.00" y1="949.77" x2="917.00" y2="949.77" stroke="#000" stroke-width="2.2" />
<line x1="569.40" y1="976.59" x2="575.90" y2="976.59" stroke="#000" stroke-width="2.2" />
<line x1="930.00" y1="976.59" x2="923.50" y2="976.59" stroke="#000" stroke-width="2.2" />
<defs><clipPath id="cc1"><rect x="569.4" y="574.4" width="360.6" height="429.0"/></clipPath></defs>
<g clip-path="url(#cc1)" fill="none" stroke="#1a6de2" stroke-width="3.3" stroke-linejoin="round" stroke-linecap="round">
<path d="M568.0 587.1 C570.4 587.4 578.1 587.7 582.6 588.8 C587.0 589.9 590.5 591.4 594.5 593.5 C598.4 595.7 602.2 598.4 606.1 601.7 C610.0 605.0 614.1 608.7 618.0 613.6 C621.9 618.5 625.7 624.7 629.6 631.2 C633.5 637.6 638.2 646.6 641.5 652.5 C644.8 658.4 647.0 662.7 649.7 666.6 C652.4 670.5 655.8 673.9 657.8 676.0 C659.9 678.1 661.4 678.5 662.1 679.0"/>
<path d="M568.0 592.4 C570.3 592.6 577.8 592.9 582.2 593.7 C586.5 594.5 590.0 595.5 593.9 597.2 C597.8 599.0 601.7 601.1 605.6 604.0 C609.4 606.9 613.3 610.1 617.1 614.7 C620.9 619.2 624.6 624.9 628.4 631.1 C632.3 637.3 636.7 645.8 640.0 651.7 C643.4 657.7 645.6 662.6 648.4 666.8 C651.1 671.0 654.5 674.6 656.7 676.7 C658.9 678.9 660.9 679.0 661.7 679.5"/>
<path d="M568.0 599.7 C570.2 599.8 577.4 600.0 581.6 600.4 C585.8 600.9 589.3 601.3 593.2 602.4 C597.1 603.5 601.1 604.8 604.9 607.1 C608.7 609.4 612.2 612.2 615.8 616.2 C619.5 620.2 623.1 625.3 626.8 631.1 C630.5 636.8 634.7 644.8 638.0 650.8 C641.3 656.8 643.7 662.6 646.6 667.1 C649.4 671.6 652.7 675.6 655.1 677.8 C657.6 679.9 660.3 679.8 661.3 680.3"/>
<path d="M568.0 608.0 C570.1 608.0 576.9 608.0 580.9 608.1 C585.0 608.1 588.5 607.8 592.4 608.2 C596.3 608.7 600.5 609.1 604.1 610.7 C607.8 612.3 610.9 614.5 614.4 617.9 C617.8 621.3 621.4 625.7 625.0 631.0 C628.5 636.3 632.5 643.6 635.8 649.6 C639.0 655.7 641.6 662.6 644.5 667.4 C647.4 672.3 650.6 676.6 653.3 678.9 C656.0 681.2 659.5 680.7 660.8 681.1"/>
<path d="M568.0 617.0 C570.0 616.9 576.3 616.8 580.2 616.4 C584.2 616.0 587.7 614.9 591.5 614.6 C595.3 614.3 599.7 613.8 603.3 614.6 C606.8 615.5 609.5 617.0 612.8 619.7 C616.1 622.5 619.6 626.1 623.0 630.9 C626.4 635.7 630.0 642.3 633.3 648.4 C636.5 654.6 639.3 662.5 642.3 667.8 C645.3 673.1 648.3 677.8 651.3 680.2 C654.3 682.5 658.7 681.7 660.2 682.0"/>
<path d="M568.0 626.6 C569.9 626.4 575.7 626.1 579.5 625.2 C583.2 624.4 586.7 622.4 590.5 621.3 C594.4 620.3 598.9 618.7 602.4 618.8 C605.8 618.8 608.1 619.7 611.1 621.7 C614.2 623.7 617.6 626.6 620.8 630.8 C624.1 635.1 627.4 640.9 630.6 647.1 C633.8 653.3 636.8 662.5 639.9 668.2 C643.0 673.9 645.9 679.1 649.2 681.5 C652.5 684.0 657.9 682.8 659.6 683.0"/>
<path d="M568.0 636.7 C569.7 636.4 575.1 635.9 578.7 634.6 C582.3 633.2 585.8 630.4 589.5 628.5 C593.3 626.5 598.1 623.9 601.4 623.1 C604.7 622.4 606.5 622.5 609.4 623.8 C612.3 625.1 615.5 627.1 618.6 630.8 C621.7 634.4 624.7 639.4 627.8 645.7 C631.0 652.0 634.2 662.4 637.4 668.6 C640.6 674.8 643.4 680.4 647.0 682.9 C650.6 685.5 657.0 683.9 659.0 684.1"/>
<path d="M568.0 647.3 C569.6 646.8 574.4 646.2 577.9 644.3 C581.3 642.4 584.8 638.6 588.5 635.9 C592.3 633.1 597.2 629.4 600.4 627.7 C603.6 626.1 604.9 625.5 607.6 626.0 C610.2 626.5 613.4 627.6 616.2 630.7 C619.1 633.7 621.8 637.9 624.9 644.3 C628.0 650.7 631.5 662.4 634.8 669.1 C638.1 675.7 640.8 681.7 644.7 684.4 C648.6 687.1 656.1 685.0 658.3 685.2"/>
<path d="M658.3 676.5 C661.0 675.7 668.9 674.4 674.4 672.0 C680.0 669.6 685.6 666.0 691.8 662.1 C698.0 658.2 705.0 653.5 711.6 648.8 C718.2 644.0 725.1 637.5 731.4 633.9 C737.7 630.3 743.7 627.2 749.5 627.2 C755.3 627.2 760.8 630.8 766.1 633.9 C771.3 636.9 776.0 642.1 780.9 645.5 C785.9 649.0 790.8 652.8 795.8 654.7 C800.7 656.6 805.7 656.4 810.6 656.7 C815.6 656.9 820.9 656.4 825.5 656.2 C830.1 656.0 836.2 655.6 838.4 655.4"/>
<path d="M658.3 678.2 C661.0 677.4 668.9 675.9 674.4 673.4 C680.0 670.9 685.6 667.1 691.8 663.3 C698.0 659.4 705.0 654.8 711.6 650.3 C718.2 645.8 725.1 639.5 731.4 636.2 C737.7 632.9 743.7 630.4 749.5 630.6 C755.3 630.7 760.8 634.1 766.1 637.2 C771.3 640.4 776.0 645.9 780.9 649.5 C785.9 653.1 790.8 656.9 795.8 658.8 C800.7 660.7 805.7 660.7 810.6 660.9 C815.6 661.2 820.9 660.6 825.5 660.3 C830.1 660.1 836.2 659.7 838.4 659.5"/>
<path d="M658.3 680.0 C661.0 679.1 668.9 677.4 674.4 674.8 C680.0 672.2 685.6 668.2 691.8 664.4 C698.0 660.6 705.0 656.2 711.6 651.9 C718.2 647.6 725.1 641.5 731.4 638.5 C737.7 635.6 743.7 633.6 749.5 633.9 C755.3 634.3 760.8 637.3 766.1 640.5 C771.3 643.8 776.0 649.7 780.9 653.5 C785.9 657.2 790.8 661.0 795.8 662.9 C800.7 664.9 805.7 664.9 810.6 665.2 C815.6 665.5 820.9 664.8 825.5 664.5 C830.1 664.2 836.2 663.8 838.4 663.7"/>
<path d="M658.3 681.7 C661.0 680.8 668.9 678.9 674.4 676.2 C680.0 673.5 685.6 669.3 691.8 665.5 C698.0 661.8 705.0 657.6 711.6 653.5 C718.2 649.4 725.1 643.6 731.4 640.9 C737.7 638.2 743.7 636.8 749.5 637.3 C755.3 637.8 760.8 640.5 766.1 643.8 C771.3 647.2 776.0 653.6 780.9 657.4 C785.9 661.3 790.8 665.0 795.8 667.0 C800.7 669.0 805.7 669.2 810.6 669.5 C815.6 669.7 820.9 668.9 825.5 668.7 C830.1 668.4 836.2 667.9 838.4 667.8"/>
<path d="M658.3 683.4 C661.0 682.4 668.9 680.4 674.4 677.6 C680.0 674.8 685.6 670.4 691.8 666.7 C698.0 662.9 705.0 659.0 711.6 655.1 C718.2 651.2 725.1 645.6 731.4 643.2 C737.7 640.8 743.7 640.0 749.5 640.7 C755.3 641.3 760.8 643.7 766.1 647.2 C771.3 650.6 776.0 657.4 780.9 661.4 C785.9 665.4 790.8 669.1 795.8 671.1 C800.7 673.2 805.7 673.4 810.6 673.7 C815.6 674.0 820.9 673.1 825.5 672.8 C830.1 672.5 836.2 672.0 838.4 671.9"/>
<path d="M658.3 685.2 C661.0 684.1 668.9 681.9 674.4 679.0 C680.0 676.1 685.6 671.5 691.8 667.8 C698.0 664.1 705.0 660.4 711.6 656.7 C718.2 653.0 725.1 647.6 731.4 645.5 C737.7 643.4 743.7 643.2 749.5 644.0 C755.3 644.9 760.8 646.9 766.1 650.5 C771.3 654.0 776.0 661.2 780.9 665.3 C785.9 669.5 790.8 673.1 795.8 675.3 C800.7 677.4 805.7 677.7 810.6 678.0 C815.6 678.3 820.9 677.3 825.5 677.0 C830.1 676.7 836.2 676.2 838.4 676.0"/>
<path d="M569.2 701.3 C572.3 702.7 581.8 708.9 587.8 709.9 C593.7 711.0 599.3 708.7 605.1 707.4 C610.9 706.2 616.7 704.3 622.4 702.5 C628.2 700.6 633.8 699.2 639.8 696.3 C645.8 693.4 652.6 688.5 658.3 685.2 C664.1 681.9 668.9 679.6 674.4 676.5 C680.0 673.4 688.9 668.2 691.8 666.6"/>
<path d="M569.2 702.9 C572.3 704.2 581.8 709.7 587.8 710.6 C593.7 711.4 599.3 709.2 605.1 708.1 C610.9 706.9 616.7 705.3 622.4 703.6 C628.2 701.9 633.8 700.7 639.8 697.9 C645.7 695.2 652.4 690.4 658.1 687.0 C663.9 683.6 668.7 680.8 674.3 677.4 C679.9 674.1 688.9 668.5 691.8 666.7"/>
<path d="M569.2 705.5 C572.3 706.5 581.8 711.0 587.8 711.6 C593.7 712.2 599.3 710.1 605.1 709.0 C610.9 708.0 616.7 706.7 622.4 705.3 C628.2 703.9 633.9 703.2 639.8 700.6 C645.7 698.1 652.1 693.6 657.8 690.0 C663.5 686.3 668.4 682.8 674.1 679.0 C679.7 675.1 688.8 668.9 691.8 666.9"/>
<path d="M569.2 708.8 C572.3 709.5 581.8 712.6 587.8 712.9 C593.7 713.1 599.3 711.2 605.1 710.3 C610.9 709.4 616.7 708.6 622.4 707.5 C628.2 706.5 633.9 706.3 639.8 704.0 C645.6 701.6 651.7 697.5 657.4 693.6 C663.1 689.8 668.1 685.3 673.8 680.9 C679.5 676.5 688.8 669.5 691.8 667.2"/>
<path d="M569.2 712.5 C572.3 712.8 581.8 714.5 587.8 714.3 C593.7 714.2 599.3 712.4 605.1 711.7 C610.9 710.9 616.7 710.7 622.4 710.0 C628.2 709.3 634.0 709.8 639.8 707.7 C645.5 705.7 651.3 701.9 656.9 697.8 C662.6 693.7 667.7 688.1 673.5 683.1 C679.3 678.0 688.7 670.1 691.8 667.5"/>
<path d="M569.2 716.6 C572.3 716.5 581.8 716.5 587.8 715.9 C593.7 715.4 599.3 713.7 605.1 713.2 C610.9 712.7 616.7 713.0 622.4 712.8 C628.2 712.5 634.1 713.7 639.8 711.9 C645.4 710.2 650.9 706.9 656.4 702.5 C662.0 698.1 667.3 691.2 673.2 685.5 C679.1 679.7 688.7 670.8 691.8 667.9"/>
<path d="M569.2 721.1 C572.3 720.5 581.8 718.7 587.8 717.7 C593.7 716.7 599.3 715.2 605.1 714.9 C610.9 714.6 616.7 715.5 622.4 715.7 C628.2 716.0 634.2 717.9 639.8 716.5 C645.3 715.1 650.4 712.2 655.9 707.5 C661.4 702.8 666.8 694.6 672.8 688.1 C678.8 681.5 688.6 671.5 691.8 668.2"/>
<path d="M569.2 725.9 C572.3 724.8 581.8 721.1 587.8 719.6 C593.7 718.0 599.3 716.8 605.1 716.7 C610.9 716.6 616.7 718.1 622.4 718.9 C628.2 719.7 634.3 722.4 639.8 721.4 C645.2 720.4 649.8 718.0 655.3 712.9 C660.7 707.8 666.3 698.2 672.4 690.9 C678.5 683.5 688.5 672.3 691.8 668.6"/>
<path d="M569.2 731.0 C572.3 729.4 581.8 723.6 587.8 721.6 C593.7 719.5 599.3 718.5 605.1 718.6 C610.9 718.7 616.7 721.0 622.4 722.3 C628.2 723.6 634.4 727.1 639.8 726.5 C645.1 725.9 649.3 724.0 654.6 718.6 C660.0 713.1 665.8 702.1 672.0 693.8 C678.2 685.6 688.5 673.2 691.8 669.1"/>
<path d="M838.4 656.2 C842.0 654.2 853.7 647.6 860.2 644.3 C866.7 641.0 872.6 638.4 877.5 636.4 C882.5 634.3 885.4 636.0 889.9 631.9 C894.4 627.9 900.2 618.1 904.8 612.1 C909.3 606.1 913.1 600.2 917.1 596.0 C921.2 591.8 927.0 588.4 929.0 586.8"/>
<path d="M838.4 656.8 C842.0 654.9 853.7 648.4 860.2 645.3 C866.7 642.1 872.6 639.9 877.5 638.0 C882.5 636.0 885.4 637.0 889.9 633.4 C894.4 629.7 900.2 621.2 904.8 616.1 C909.3 610.9 913.1 606.0 917.1 602.4 C921.2 598.9 927.0 595.9 929.0 594.6"/>
<path d="M838.4 657.4 C842.0 655.5 853.7 649.2 860.2 646.3 C866.7 643.3 872.6 641.4 877.5 639.5 C882.5 637.6 885.4 638.1 889.9 634.9 C894.4 631.6 900.2 624.4 904.8 620.0 C909.3 615.7 913.1 611.8 917.1 608.9 C921.2 605.9 927.0 603.5 929.0 602.4"/>
<path d="M838.4 658.0 C842.0 656.2 853.7 650.1 860.2 647.3 C866.7 644.5 872.6 642.9 877.5 641.1 C882.5 639.3 885.4 639.2 889.9 636.4 C894.4 633.5 900.2 627.5 904.8 624.0 C909.3 620.5 913.1 617.6 917.1 615.3 C921.2 613.0 927.0 611.0 929.0 610.2"/>
<path d="M838.4 658.6 C842.0 656.8 853.7 650.9 860.2 648.3 C866.7 645.6 872.6 644.4 877.5 642.7 C882.5 641.0 885.4 640.3 889.9 637.9 C894.4 635.4 900.2 630.6 904.8 627.9 C909.3 625.3 913.1 623.4 917.1 621.8 C921.2 620.1 927.0 618.6 929.0 617.9"/>
<path d="M838.4 659.2 C842.0 657.5 853.7 651.7 860.2 649.2 C866.7 646.8 872.6 645.9 877.5 644.3 C882.5 642.6 885.4 641.4 889.9 639.3 C894.4 637.3 900.2 633.8 904.8 631.9 C909.3 630.1 913.1 629.2 917.1 628.2 C921.2 627.2 927.0 626.1 929.0 625.7"/>
<path d="M838.4 660.4 C842.0 658.9 853.7 654.8 860.2 651.7 C866.7 648.6 872.6 644.1 877.5 641.8 C882.5 639.5 885.4 638.8 889.9 638.1 C894.4 637.4 900.2 637.6 904.8 637.4 C909.3 637.2 913.1 637.0 917.1 636.9 C921.2 636.7 927.0 636.5 929.0 636.4"/>
<path d="M838.4 662.2 C842.0 661.1 853.7 657.2 860.2 655.4 C866.7 653.7 872.6 653.5 877.5 651.7 C882.5 650.0 885.4 646.4 889.9 644.9 C894.4 643.4 900.2 643.2 904.8 642.7 C909.3 642.2 913.1 642.0 917.1 641.8 C921.2 641.6 927.0 641.6 929.0 641.6"/>
<path d="M838.4 664.1 C842.0 663.3 853.7 659.6 860.2 659.2 C866.7 658.7 872.6 662.9 877.5 661.6 C882.5 660.4 885.4 654.0 889.9 651.7 C894.4 649.5 900.2 648.8 904.8 648.0 C909.3 647.2 913.1 647.0 917.1 646.8 C921.2 646.6 927.0 646.8 929.0 646.8"/>
<path d="M838.4 666.6 C841.2 667.4 849.5 671.1 855.2 671.5 C860.9 671.9 867.6 669.3 872.6 669.1 C877.5 668.9 880.4 668.2 884.9 670.3 C889.5 672.4 894.8 678.3 899.8 681.4 C904.8 684.5 909.8 687.2 914.7 688.9 C919.5 690.5 926.6 690.9 929.0 691.3"/>
<path d="M838.4 668.3 C841.2 669.4 849.5 673.9 855.2 675.0 C860.9 676.1 867.4 674.7 872.6 675.0 C877.7 675.3 881.2 675.0 885.9 677.0 C890.6 678.9 895.9 683.9 900.8 686.6 C905.7 689.4 910.4 691.8 915.2 693.3 C919.9 694.9 926.7 695.4 929.0 695.8"/>
<path d="M838.4 670.0 C841.2 671.5 849.5 676.7 855.2 678.5 C860.9 680.3 867.3 680.1 872.6 680.9 C877.8 681.8 882.1 681.9 886.9 683.7 C891.8 685.5 897.0 689.5 901.8 691.8 C906.6 694.2 911.1 696.4 915.6 697.8 C920.2 699.2 926.8 699.8 929.0 700.3"/>
<path d="M838.4 671.8 C841.2 673.5 849.5 679.4 855.2 681.9 C860.9 684.5 867.1 685.5 872.6 686.9 C878.0 688.3 882.9 688.7 887.9 690.4 C892.9 692.0 898.1 695.1 902.8 697.0 C907.5 699.0 911.8 701.0 916.1 702.2 C920.5 703.5 926.9 704.3 929.0 704.7"/>
<path d="M838.4 673.5 C841.2 675.5 849.5 682.2 855.2 685.4 C860.9 688.6 866.9 690.9 872.6 692.8 C878.2 694.8 883.7 695.5 888.9 697.0 C894.1 698.6 899.1 700.6 903.8 702.2 C908.4 703.9 912.4 705.5 916.6 706.7 C920.9 707.9 927.0 708.8 929.0 709.2"/>
<path d="M838.4 675.3 C841.2 677.5 849.5 684.9 855.2 688.9 C860.9 692.8 866.8 696.3 872.6 698.8 C878.3 701.3 884.5 702.3 889.9 703.7 C895.3 705.2 900.2 706.2 904.8 707.4 C909.3 708.7 913.1 710.1 917.1 711.2 C921.2 712.2 927.0 713.2 929.0 713.6"/>
<path d="M559.5 685.4 C560.2 686.2 560.8 686.7 563.2 690.4 C565.7 694.0 570.6 701.9 574.1 707.2 C577.7 712.5 581.3 717.7 584.3 722.3 C587.3 726.9 589.4 730.7 592.0 734.9 C594.5 739.2 597.1 743.6 599.7 747.8 C602.2 752.1 604.8 756.2 607.3 760.4 C609.8 764.7 612.3 769.1 614.8 773.1 C617.2 777.0 619.5 781.0 621.9 784.0 C624.4 786.9 626.6 789.1 629.4 790.7 C632.2 792.2 637.2 792.7 638.8 793.1"/>
<path d="M561.5 685.7 C562.1 686.6 562.8 687.1 565.2 690.7 C567.7 694.3 572.6 702.2 576.1 707.5 C579.6 712.9 583.3 718.0 586.3 722.6 C589.3 727.3 591.4 731.0 594.0 735.3 C596.5 739.5 599.1 743.9 601.6 748.1 C604.2 752.4 606.8 756.6 609.3 760.8 C611.8 765.0 614.3 769.5 616.7 773.4 C619.2 777.3 621.5 781.4 623.9 784.3 C626.4 787.2 628.5 789.5 631.4 791.0 C634.2 792.5 639.2 793.0 640.8 793.5"/>
<path d="M563.5 686.1 C564.1 686.9 564.8 687.4 567.2 691.0 C569.6 694.6 574.6 702.5 578.1 707.9 C581.6 713.2 585.3 718.3 588.3 723.0 C591.2 727.6 593.4 731.3 595.9 735.6 C598.5 739.8 601.1 744.2 603.6 748.5 C606.2 752.7 608.8 756.9 611.3 761.1 C613.8 765.3 616.3 769.8 618.7 773.7 C621.2 777.7 623.5 781.7 625.9 784.6 C628.3 787.6 630.5 789.8 633.3 791.3 C636.1 792.8 641.2 793.4 642.7 793.8"/>
<path d="M565.5 686.4 C566.1 687.2 566.8 687.7 569.2 691.3 C571.6 695.0 576.6 702.9 580.1 708.2 C583.6 713.5 587.3 718.7 590.2 723.3 C593.2 727.9 595.4 731.7 597.9 735.9 C600.5 740.2 603.0 744.6 605.6 748.8 C608.2 753.1 610.8 757.2 613.3 761.4 C615.8 765.6 618.3 770.1 620.7 774.1 C623.1 778.0 625.4 782.0 627.9 785.0 C630.3 787.9 632.5 790.1 635.3 791.6 C638.1 793.2 643.2 793.7 644.7 794.1"/>
<path d="M567.5 686.7 C568.1 687.5 568.7 688.0 571.2 691.7 C573.6 695.3 578.6 703.2 582.1 708.5 C585.6 713.8 589.3 719.0 592.2 723.6 C595.2 728.2 597.3 732.0 599.9 736.3 C602.5 740.5 605.0 744.9 607.6 749.1 C610.1 753.4 612.7 757.6 615.3 761.8 C617.8 766.0 620.2 770.5 622.7 774.4 C625.1 778.3 627.4 782.4 629.9 785.3 C632.3 788.2 634.5 790.4 637.3 792.0 C640.1 793.5 645.1 794.0 646.7 794.5"/>
<path d="M569.4 687.1 C570.1 687.9 570.7 688.4 573.2 692.0 C575.6 695.6 580.5 703.5 584.1 708.8 C587.6 714.2 591.2 719.3 594.2 724.0 C597.2 728.6 599.3 732.3 601.9 736.6 C604.4 740.8 607.0 745.2 609.6 749.5 C612.1 753.7 614.7 757.9 617.2 762.1 C619.8 766.3 622.2 770.8 624.7 774.7 C627.1 778.6 629.4 782.7 631.8 785.6 C634.3 788.5 636.5 790.8 639.3 792.3 C642.1 793.8 647.1 794.4 648.7 794.8"/>
<path d="M571.4 687.4 C572.0 688.2 572.7 688.7 575.1 692.3 C577.6 696.0 582.5 703.9 586.0 709.2 C589.5 714.5 593.2 719.7 596.2 724.3 C599.2 728.9 601.3 732.7 603.9 736.9 C606.4 741.2 609.0 745.5 611.5 749.8 C614.1 754.0 616.7 758.2 619.2 762.4 C621.7 766.6 624.2 771.1 626.6 775.1 C629.1 779.0 631.4 783.0 633.8 785.9 C636.3 788.9 638.4 791.1 641.3 792.6 C644.1 794.2 649.1 794.7 650.7 795.1"/>
<path d="M569.2 742.4 C572.7 743.4 584.6 746.5 590.2 748.8 C595.9 751.1 598.2 754.5 602.9 756.2 C607.5 757.9 612.7 759.4 618.2 759.0 C623.8 758.5 630.2 754.4 636.1 753.8 C642.0 753.1 649.9 754.1 653.6 755.0 C657.4 755.9 657.8 758.3 658.6 759.0"/>
<path d="M569.2 750.9 C572.7 751.9 584.6 755.0 590.2 757.0 C595.9 759.1 598.3 761.9 602.9 763.4 C607.4 764.9 612.3 765.9 617.6 765.9 C622.9 765.9 629.3 763.6 634.8 763.3 C640.2 762.9 646.5 763.5 650.5 763.8 C654.5 764.2 657.2 765.0 658.6 765.3"/>
<path d="M569.2 759.5 C572.7 760.4 584.6 763.4 590.2 765.3 C595.9 767.1 598.4 769.3 602.9 770.6 C607.3 771.9 611.9 772.5 617.0 772.8 C622.1 773.2 628.4 772.8 633.5 772.8 C638.5 772.8 643.1 772.9 647.3 772.7 C651.5 772.5 656.7 771.8 658.6 771.6"/>
<path d="M569.2 768.0 C572.7 768.9 584.6 771.9 590.2 773.5 C595.9 775.1 598.5 776.7 602.9 777.8 C607.2 778.8 611.5 779.0 616.4 779.8 C621.2 780.5 627.5 782.1 632.2 782.4 C636.8 782.7 639.8 782.3 644.2 781.6 C648.6 780.8 656.2 778.5 658.6 777.9"/>
<path d="M569.2 776.5 C572.7 777.4 584.6 780.3 590.2 781.7 C595.9 783.1 598.6 784.1 602.9 785.0 C607.1 785.8 611.1 785.5 615.7 786.7 C620.4 787.8 626.6 791.3 630.9 791.9 C635.1 792.5 636.4 791.7 641.0 790.4 C645.6 789.1 655.7 785.2 658.6 784.2"/>
<path d="M658.6 759.0 C660.8 759.0 667.3 758.5 672.0 759.0 C676.7 759.5 682.0 760.9 686.8 761.9 C691.6 763.0 694.8 762.1 700.7 765.4 C706.6 768.7 716.2 776.7 722.2 781.5 C728.3 786.3 732.3 791.1 736.8 794.4 C741.4 797.6 747.6 799.7 749.7 800.8"/>
<path d="M658.6 764.0 C660.8 764.3 667.2 764.6 671.9 765.7 C676.6 766.9 681.9 769.3 686.7 771.0 C691.5 772.8 694.9 772.8 700.7 776.1 C706.5 779.5 715.7 787.1 721.7 791.1 C727.7 795.2 732.2 798.7 736.8 800.5 C741.5 802.2 747.6 801.3 749.7 801.5"/>
<path d="M658.6 769.1 C660.8 769.6 667.2 770.7 671.9 772.5 C676.5 774.4 681.7 777.8 686.5 780.2 C691.3 782.5 694.9 783.4 700.7 786.9 C706.5 790.3 715.1 797.5 721.1 800.8 C727.2 804.1 732.1 806.3 736.8 806.6 C741.6 806.8 747.6 802.8 749.7 802.1"/>
<path d="M658.6 774.1 C660.8 775.0 667.2 776.8 671.8 779.3 C676.4 781.8 681.6 786.2 686.4 789.3 C691.2 792.3 695.0 794.1 700.7 797.6 C706.4 801.2 714.6 808.0 720.6 810.5 C726.6 813.0 732.0 813.9 736.8 812.6 C741.7 811.4 747.6 804.4 749.7 802.7"/>
<path d="M658.6 779.2 C660.8 780.3 667.2 782.9 671.8 786.1 C676.4 789.3 681.4 794.7 686.2 798.4 C691.1 802.1 695.1 804.8 700.7 808.4 C706.3 812.0 714.0 818.4 720.1 820.1 C726.1 821.8 731.9 821.5 736.8 818.7 C741.8 815.9 747.6 805.9 749.7 803.4"/>
<path d="M658.6 784.2 C660.8 785.7 667.1 789.0 671.7 792.9 C676.3 796.8 681.3 803.1 686.1 807.5 C690.9 811.9 695.1 815.4 700.7 819.1 C706.3 822.8 713.5 828.8 719.5 829.8 C725.5 830.7 731.8 829.1 736.8 824.8 C741.9 820.5 747.6 807.5 749.7 804.0"/>
<path d="M749.5 801.6 C751.4 799.3 756.7 793.9 761.1 787.9 C765.5 781.9 771.0 771.0 776.0 765.6 C780.9 760.3 785.1 757.4 790.8 755.7 C796.6 754.1 804.9 755.3 810.6 755.7 C816.4 756.1 820.9 757.4 825.5 758.2 C830.1 759.0 836.2 760.3 838.4 760.7"/>
<path d="M749.5 803.3 C751.4 801.4 756.7 797.3 761.1 791.9 C765.5 786.5 771.0 776.3 776.0 771.1 C780.9 765.9 785.1 762.5 790.8 760.7 C796.6 758.8 804.9 759.8 810.6 759.9 C816.4 760.1 820.9 761.1 825.5 761.7 C830.1 762.3 836.2 763.3 838.4 763.7"/>
<path d="M749.5 805.0 C751.4 803.5 756.7 800.6 761.1 795.9 C765.5 791.1 771.0 781.6 776.0 776.5 C780.9 771.5 785.1 767.7 790.8 765.6 C796.6 763.6 804.9 764.2 810.6 764.2 C816.4 764.1 820.9 764.7 825.5 765.1 C830.1 765.6 836.2 766.4 838.4 766.6"/>
<path d="M749.5 806.8 C751.4 805.6 756.7 803.9 761.1 799.8 C765.5 795.7 771.0 786.9 776.0 782.0 C780.9 777.1 785.1 772.9 790.8 770.6 C796.6 768.3 804.9 768.7 810.6 768.4 C816.4 768.0 820.9 768.4 825.5 768.6 C830.1 768.8 836.2 769.4 838.4 769.6"/>
<path d="M749.5 808.5 C751.4 807.7 756.7 807.3 761.1 803.8 C765.5 800.3 771.0 792.1 776.0 787.4 C780.9 782.7 785.1 778.0 790.8 775.5 C796.6 773.1 804.9 773.2 810.6 772.6 C816.4 772.0 820.9 772.1 825.5 772.1 C830.1 772.1 836.2 772.5 838.4 772.6"/>
<path d="M749.5 810.2 C751.4 809.8 756.7 810.6 761.1 807.7 C765.5 804.9 771.0 797.4 776.0 792.9 C780.9 788.3 785.1 783.2 790.8 780.5 C796.6 777.8 804.9 777.6 810.6 776.8 C816.4 776.0 820.9 775.8 825.5 775.5 C830.1 775.3 836.2 775.5 838.4 775.5"/>
<path d="M838.4 760.7 C840.8 757.8 847.9 748.3 852.7 743.4 C857.6 738.4 862.2 734.3 867.6 731.0 C873.0 727.7 878.8 725.6 884.9 723.5 C891.1 721.5 897.4 719.8 904.8 718.6 C912.1 717.4 925.0 716.5 929.0 716.1"/>
<path d="M838.4 761.1 C840.8 758.3 847.9 749.2 852.7 744.4 C857.6 739.6 862.2 735.6 867.6 732.4 C873.0 729.2 878.8 727.2 884.9 725.2 C891.1 723.2 897.4 721.5 904.8 720.3 C912.1 719.0 925.0 718.2 929.0 717.7"/>
<path d="M838.4 761.8 C840.8 759.2 847.9 750.7 852.7 746.2 C857.6 741.8 862.2 738.0 867.6 735.0 C873.0 732.0 878.8 730.1 884.9 728.1 C891.1 726.2 897.4 724.6 904.8 723.4 C912.1 722.2 925.0 721.2 929.0 720.7"/>
<path d="M838.4 762.8 C840.8 760.4 847.9 752.7 852.7 748.6 C857.6 744.6 862.2 741.2 867.6 738.4 C873.0 735.6 878.8 733.8 884.9 732.0 C891.1 730.2 897.4 728.6 904.8 727.4 C912.1 726.2 925.0 725.0 929.0 724.6"/>
<path d="M838.4 763.9 C840.8 761.9 847.9 755.1 852.7 751.5 C857.6 747.9 862.2 744.9 867.6 742.4 C873.0 739.9 878.8 738.3 884.9 736.6 C891.1 734.9 897.4 733.4 904.8 732.2 C912.1 730.9 925.0 729.6 929.0 729.1"/>
<path d="M838.4 765.2 C840.8 763.5 847.9 757.8 852.7 754.7 C857.6 751.7 862.2 749.1 867.6 746.9 C873.0 744.7 878.8 743.3 884.9 741.8 C891.1 740.2 897.4 738.8 904.8 737.6 C912.1 736.3 925.0 734.9 929.0 734.3"/>
<path d="M838.4 766.7 C840.8 765.3 847.9 760.8 852.7 758.3 C857.6 755.9 862.2 753.7 867.6 751.9 C873.0 750.1 878.8 748.9 884.9 747.5 C891.1 746.1 897.4 744.8 904.8 743.5 C912.1 742.3 925.0 740.6 929.0 740.1"/>
<path d="M838.4 768.2 C840.8 767.2 847.9 764.0 852.7 762.2 C857.6 760.4 862.2 758.8 867.6 757.4 C873.0 756.0 878.8 754.9 884.9 753.7 C891.1 752.5 897.4 751.3 904.8 750.0 C912.1 748.8 925.0 746.9 929.0 746.3"/>
<path d="M838.4 769.9 C840.8 769.3 847.9 767.5 852.7 766.4 C857.6 765.3 862.2 764.2 867.6 763.2 C873.0 762.2 878.8 761.4 884.9 760.4 C891.1 759.4 897.4 758.2 904.8 757.0 C912.1 755.7 925.0 753.6 929.0 753.0"/>
<path d="M838.4 771.7 C840.8 771.5 847.9 771.2 852.7 770.8 C857.6 770.5 862.2 770.0 867.6 769.5 C873.0 768.9 878.8 768.4 884.9 767.5 C891.1 766.7 897.4 765.6 904.8 764.4 C912.1 763.2 925.0 760.8 929.0 760.1"/>
<path d="M838.4 773.6 C840.8 773.9 847.9 775.1 852.7 775.6 C857.6 776.0 862.2 776.1 867.6 776.0 C873.0 776.0 878.8 775.7 884.9 775.1 C891.1 774.4 897.4 773.5 904.8 772.3 C912.1 771.0 925.0 768.4 929.0 767.6"/>
<path d="M838.4 775.5 C840.8 776.4 847.9 779.3 852.7 780.5 C857.6 781.7 862.2 782.6 867.6 783.0 C873.0 783.4 878.8 783.4 884.9 783.0 C891.1 782.6 897.4 781.7 904.8 780.5 C912.1 779.3 925.0 776.4 929.0 775.5"/>
<path d="M569.2 896.4 C572.3 896.7 580.5 896.4 587.8 897.7 C595.0 898.9 605.1 900.8 612.5 903.9 C620.0 907.0 626.6 911.7 632.3 916.3 C638.1 920.8 642.9 928.0 647.2 931.1 C651.5 934.2 656.5 934.2 658.3 934.8"/>
<path d="M569.2 918.7 C572.3 918.9 580.5 919.2 587.8 920.0 C595.0 920.7 605.1 921.7 612.5 923.3 C620.0 924.9 626.6 926.9 632.3 929.5 C638.1 932.0 642.9 936.3 647.2 938.5 C651.5 940.8 656.5 942.0 658.3 942.7"/>
<path d="M569.2 941.0 C572.3 941.2 580.5 942.0 587.8 942.3 C595.0 942.5 605.1 942.6 612.5 942.7 C620.0 942.7 626.6 942.1 632.3 942.7 C638.1 943.2 642.9 944.7 647.2 946.0 C651.5 947.3 656.5 949.8 658.3 950.5"/>
<path d="M569.2 963.3 C572.3 963.5 580.5 964.8 587.8 964.6 C595.0 964.3 605.1 963.5 612.5 962.1 C620.0 960.6 626.6 957.3 632.3 955.9 C638.1 954.4 642.9 953.0 647.2 953.4 C651.5 953.8 656.5 957.5 658.3 958.4"/>
<path d="M569.2 986.8 C572.3 986.8 580.5 988.7 587.8 986.8 C595.0 985.0 605.1 980.9 612.5 975.7 C620.0 970.5 627.0 961.2 632.3 955.9 C637.7 950.5 640.4 945.6 644.7 943.5 C649.1 941.4 656.1 943.5 658.3 943.5"/>
<path d="M569.2 990.1 C572.3 990.1 580.5 992.0 587.8 990.6 C595.0 989.1 605.1 985.8 612.5 981.1 C620.0 976.5 627.0 967.9 632.3 962.8 C637.7 957.7 640.4 952.6 644.7 950.4 C649.1 948.3 656.1 950.0 658.3 949.9"/>
<path d="M569.2 993.3 C572.3 993.4 580.5 995.4 587.8 994.3 C595.0 993.2 605.1 990.7 612.5 986.6 C620.0 982.5 627.0 974.6 632.3 969.8 C637.7 964.9 640.4 959.6 644.7 957.4 C649.1 955.1 656.1 956.5 658.3 956.4"/>
<path d="M569.2 996.5 C572.3 996.7 580.5 998.7 587.8 998.0 C595.0 997.2 605.1 995.6 612.5 992.0 C620.0 988.5 627.0 981.3 632.3 976.7 C637.7 972.1 640.4 966.6 644.7 964.3 C649.1 962.0 656.1 963.1 658.3 962.8"/>
<path d="M569.2 999.7 C572.3 1000.0 580.5 1002.1 587.8 1001.7 C595.0 1001.3 605.1 1000.5 612.5 997.5 C620.0 994.5 627.0 988.0 632.3 983.6 C637.7 979.2 640.4 973.6 644.7 971.2 C649.1 968.8 656.1 969.6 658.3 969.3"/>
<path d="M569.2 1002.9 C572.3 1003.3 580.5 1005.4 587.8 1005.4 C595.0 1005.4 605.1 1005.4 612.5 1002.9 C620.0 1000.5 627.0 994.7 632.3 990.6 C637.7 986.4 640.4 980.6 644.7 978.2 C649.1 975.7 656.1 976.1 658.3 975.7"/>
<path d="M658.3 934.8 C661.0 935.7 668.9 936.3 674.4 939.8 C680.0 943.3 685.6 950.7 691.8 955.9 C698.0 961.0 705.0 967.9 711.6 970.7 C718.2 973.6 725.1 972.4 731.4 973.2 C737.7 974.0 746.5 975.3 749.5 975.7"/>
<path d="M658.3 941.6 C661.0 942.5 668.9 943.2 674.4 946.6 C680.0 950.0 685.6 957.2 691.8 962.1 C698.0 967.0 705.0 973.3 711.6 976.1 C718.2 978.9 725.1 978.1 731.4 978.8 C737.7 979.5 746.5 980.2 749.5 980.4"/>
<path d="M658.3 948.5 C661.0 949.3 668.9 950.1 674.4 953.4 C680.0 956.7 685.6 963.6 691.8 968.3 C698.0 972.9 705.0 978.8 711.6 981.5 C718.2 984.2 725.1 983.7 731.4 984.4 C737.7 985.0 746.5 985.1 749.5 985.2"/>
<path d="M658.3 955.3 C661.0 956.1 668.9 957.0 674.4 960.2 C680.0 963.4 685.6 970.0 691.8 974.5 C698.0 978.9 705.0 984.3 711.6 986.8 C718.2 989.4 725.1 989.4 731.4 989.9 C737.7 990.5 746.5 989.9 749.5 989.9"/>
<path d="M658.3 962.1 C661.0 962.9 668.9 963.9 674.4 967.0 C680.0 970.1 685.6 976.5 691.8 980.6 C698.0 984.8 705.0 989.7 711.6 992.2 C718.2 994.7 725.1 995.1 731.4 995.5 C737.7 995.9 746.5 994.8 749.5 994.7"/>
<path d="M658.3 968.9 C661.0 969.7 668.9 970.8 674.4 973.8 C680.0 976.8 685.6 982.9 691.8 986.8 C698.0 990.8 705.0 995.2 711.6 997.6 C718.2 999.9 725.1 1000.8 731.4 1001.1 C737.7 1001.4 746.5 999.7 749.5 999.4"/>
<path d="M658.3 975.7 C661.0 976.5 668.9 977.8 674.4 980.6 C680.0 983.5 685.6 989.3 691.8 993.0 C698.0 996.7 705.0 1000.7 711.6 1002.9 C718.2 1005.2 725.1 1006.4 731.4 1006.7 C737.7 1006.9 746.5 1004.6 749.5 1004.2"/>
<path d="M749.5 975.7 C751.4 974.3 757.1 969.7 761.1 967.0 C765.1 964.3 767.3 963.1 773.5 959.6 C779.7 956.1 790.0 949.2 798.3 946.0 C806.5 942.8 816.3 941.6 823.0 940.5 C829.7 939.5 835.8 939.9 838.4 939.8"/>
<path d="M749.5 980.4 C751.4 979.4 756.9 976.3 761.1 974.0 C765.3 971.8 768.5 970.5 774.7 966.8 C781.0 963.1 790.6 955.5 798.7 951.8 C806.7 948.0 816.4 945.6 823.0 944.1 C829.6 942.6 835.8 943.1 838.4 942.9"/>
<path d="M749.5 985.2 C751.4 984.5 756.7 982.9 761.1 981.1 C765.5 979.2 769.6 978.0 776.0 974.0 C782.3 970.1 791.2 961.9 799.1 957.5 C806.9 953.1 816.5 949.6 823.0 947.7 C829.6 945.8 835.8 946.3 838.4 946.0"/>
<path d="M749.5 989.9 C751.4 989.6 756.5 989.5 761.1 988.1 C765.7 986.6 770.8 985.4 777.2 981.3 C783.6 977.1 791.9 968.3 799.5 963.3 C807.1 958.3 816.5 953.7 823.0 951.3 C829.5 948.9 835.8 949.4 838.4 949.1"/>
<path d="M749.5 994.7 C751.4 994.8 756.3 996.1 761.1 995.1 C765.9 994.1 772.0 992.8 778.5 988.5 C784.9 984.2 792.5 974.7 799.9 969.1 C807.3 963.5 816.6 957.7 823.0 954.9 C829.4 952.1 835.8 952.6 838.4 952.2"/>
<path d="M749.5 999.4 C751.4 999.9 756.1 1002.7 761.1 1002.1 C766.2 1001.5 773.2 1000.3 779.7 995.7 C786.2 991.2 793.1 981.1 800.3 974.9 C807.6 968.7 816.7 961.8 823.0 958.5 C829.4 955.2 835.8 955.8 838.4 955.3"/>
<path d="M749.5 1004.2 C751.4 1005.0 755.9 1009.3 761.1 1009.1 C766.4 1008.9 774.3 1007.7 780.9 1002.9 C787.5 998.2 793.7 987.5 800.7 980.6 C807.8 973.8 816.8 965.8 823.0 962.1 C829.3 958.4 835.8 959.0 838.4 958.4"/>
<path d="M838.4 939.8 C841.2 936.3 849.5 925.1 855.2 918.7 C860.9 912.3 866.4 905.1 872.6 901.4 C878.8 897.7 886.2 897.3 892.4 896.4 C898.6 895.6 903.6 896.4 909.7 896.4 C915.8 896.4 925.8 896.4 929.0 896.4"/>
<path d="M838.4 941.0 C841.4 938.3 850.3 929.2 856.2 924.7 C862.2 920.1 867.8 915.8 874.0 913.8 C880.3 911.8 887.7 912.8 893.9 912.8 C900.0 912.8 904.8 913.5 910.7 913.8 C916.6 914.1 926.0 914.5 929.0 914.6"/>
<path d="M838.4 942.3 C841.5 940.3 851.0 933.3 857.2 930.6 C863.4 927.9 869.2 926.4 875.5 926.2 C881.9 925.9 889.3 928.3 895.3 929.1 C901.4 930.0 906.1 930.5 911.7 931.1 C917.3 931.7 926.1 932.5 929.0 932.8"/>
<path d="M838.4 943.5 C841.7 942.3 851.8 937.4 858.2 936.6 C864.6 935.7 870.6 937.1 877.0 938.5 C883.5 940.0 890.9 943.8 896.8 945.5 C902.8 947.1 907.3 947.5 912.7 948.5 C918.0 949.4 926.3 950.6 929.0 951.0"/>
<path d="M838.4 944.7 C841.9 944.4 852.5 941.5 859.2 942.5 C865.9 943.5 872.0 947.7 878.5 950.9 C885.0 954.2 892.5 959.4 898.3 961.8 C904.2 964.3 908.6 964.6 913.7 965.8 C918.8 967.0 926.5 968.6 929.0 969.2"/>
<path d="M838.4 946.0 C842.0 946.4 853.2 945.6 860.2 948.5 C867.1 951.3 873.4 958.4 880.0 963.3 C886.6 968.3 894.0 974.9 899.8 978.2 C905.6 981.5 909.8 981.6 914.7 983.1 C919.5 984.7 926.6 986.6 929.0 987.3"/>
<path d="M838.4 947.2 C842.0 949.9 852.4 957.3 860.2 963.3 C867.9 969.3 873.5 978.0 884.9 983.1 C896.4 988.3 921.7 992.4 929.0 994.3"/>
<path d="M838.4 948.5 C842.0 951.8 852.4 961.7 860.2 968.3 C867.9 974.9 873.5 983.0 884.9 988.1 C896.4 993.1 921.7 996.8 929.0 998.6"/>
<path d="M838.4 949.7 C842.0 953.6 852.4 966.0 860.2 973.2 C867.9 980.4 873.5 988.1 884.9 993.0 C896.4 998.0 921.7 1001.3 929.0 1002.9"/>
<path d="M838.4 948.5 C840.0 950.9 844.6 957.5 847.8 963.3 C851.0 969.1 854.8 976.5 857.7 983.1 C860.6 989.7 863.1 997.6 865.1 1002.9 C867.2 1008.3 869.3 1013.3 870.1 1015.3"/>
<path d="M838.4 950.9 C840.2 953.8 845.6 962.1 849.0 968.3 C852.5 974.5 856.0 981.9 858.9 988.1 C861.8 994.3 864.3 1000.7 866.4 1005.4 C868.4 1010.2 870.5 1014.7 871.3 1016.6"/>
<path d="M838.4 953.4 C840.4 956.7 846.6 966.6 850.3 973.2 C853.9 979.8 857.3 987.3 860.2 993.0 C863.1 998.8 865.5 1003.8 867.6 1007.9 C869.7 1012.0 871.7 1016.1 872.6 1017.8"/>
<path d="M884.9 1007.9 C887.4 1005.8 894.8 998.4 899.8 995.5 C904.8 992.6 909.8 991.8 914.7 990.6 C919.5 989.3 926.6 988.5 929.0 988.1"/>
<path d="M888.7 1007.9 C890.9 1006.2 897.7 1000.3 902.3 998.0 C906.8 995.7 911.4 995.1 915.9 994.3 C920.4 993.4 926.8 993.2 929.0 993.0"/>
<path d="M892.4 1007.9 C894.4 1006.7 900.6 1002.1 904.8 1000.5 C908.9 998.8 913.1 998.4 917.1 998.0 C921.2 997.6 927.0 998.0 929.0 998.0"/>
<path d="M569.2 995.5 C573.1 995.9 584.7 996.7 592.7 998.0 C600.8 999.2 610.5 1001.3 617.5 1002.9 C624.5 1004.6 631.9 1007.1 634.8 1007.9"/>
<path d="M569.2 1004.9 C573.1 1005.2 584.7 1006.2 592.7 1006.7 C600.8 1007.1 610.5 1007.3 617.5 1007.9 C624.5 1008.5 631.9 1010.0 634.8 1010.4"/>
<path d="M629.6 1010.4 C630.2 1009.5 630.7 1009.5 633.1 1005.2 C635.4 1000.9 641.1 989.8 643.7 984.6 C646.4 979.4 647.0 976.0 649.2 974.0 C651.4 971.9 653.6 971.9 657.1 972.2 C660.7 972.6 666.0 973.9 670.5 976.2 C674.9 978.5 679.4 982.4 683.9 986.1 C688.3 989.8 693.9 995.1 697.2 998.2 C700.6 1001.4 702.2 1003.3 703.9 1005.2 C705.6 1007.0 707.0 1008.5 707.6 1009.1"/>
<path d="M631.1 1010.4 C631.7 1009.5 632.2 1009.5 634.6 1005.2 C636.9 1000.9 642.5 989.8 645.2 984.6 C647.9 979.4 648.4 976.0 650.7 974.0 C652.9 971.9 655.0 971.9 658.6 972.2 C662.1 972.6 667.5 973.9 672.0 976.2 C676.4 978.5 680.9 982.4 685.3 986.1 C689.8 989.8 695.4 995.1 698.7 998.2 C702.1 1001.4 703.7 1003.3 705.4 1005.2 C707.1 1007.0 708.5 1008.5 709.1 1009.1"/>
<path d="M632.6 1010.4 C633.2 1009.5 633.7 1009.5 636.1 1005.2 C638.4 1000.9 644.0 989.8 646.7 984.6 C649.4 979.4 649.9 976.0 652.2 974.0 C654.4 971.9 656.5 971.9 660.1 972.2 C663.6 972.6 669.0 973.9 673.5 976.2 C677.9 978.5 682.4 982.4 686.8 986.1 C691.3 989.8 696.9 995.1 700.2 998.2 C703.5 1001.4 705.1 1003.3 706.9 1005.2 C708.6 1007.0 710.0 1008.5 710.6 1009.1"/>
</g>
<rect x="569.4" y="574.4" width="360.6" height="429.0" fill="none" stroke="#000" stroke-width="2.3"/>
<text transform="translate(570.00,1041.90) scale(1.0000,1)" font-size="31.0" text-anchor="middle" font-weight="normal" fill="#000">&#915;</text>
<text transform="translate(658.65,1041.90) scale(1.0000,1)" font-size="31.0" text-anchor="middle" font-weight="normal" fill="#000">Y</text>
<text transform="translate(749.63,1041.90) scale(1.0000,1)" font-size="31.0" text-anchor="middle" font-weight="normal" fill="#000">S</text>
<text transform="translate(838.95,1041.90) scale(1.0000,1)" font-size="31.0" text-anchor="middle" font-weight="normal" fill="#000">X</text>
<text transform="translate(930.60,1041.90) scale(1.0000,1)" font-size="31.0" text-anchor="middle" font-weight="normal" fill="#000">&#915;</text>
<text transform="translate(757.80,1104.35) scale(0.9300,1)" font-size="44.0" text-anchor="middle" font-weight="normal" fill="#000">8L</text>
<line x1="1101.85" y1="575.40" x2="1101.85" y2="1002.40" stroke="#8c8c8c" stroke-width="1.1" stroke-dasharray="4.7 3.4"/>
<line x1="1192.83" y1="575.40" x2="1192.83" y2="1002.40" stroke="#8c8c8c" stroke-width="1.1" stroke-dasharray="4.7 3.4"/>
<line x1="1282.15" y1="575.40" x2="1282.15" y2="1002.40" stroke="#8c8c8c" stroke-width="1.1" stroke-dasharray="4.7 3.4"/>
<line x1="1012.60" y1="601.21" x2="1019.10" y2="601.21" stroke="#000" stroke-width="2.2" />
<line x1="1373.20" y1="601.21" x2="1366.70" y2="601.21" stroke="#000" stroke-width="2.2" />
<line x1="1012.60" y1="628.02" x2="1025.60" y2="628.02" stroke="#000" stroke-width="2.2" />
<line x1="1373.20" y1="628.02" x2="1360.20" y2="628.02" stroke="#000" stroke-width="2.2" />
<line x1="1012.60" y1="654.84" x2="1019.10" y2="654.84" stroke="#000" stroke-width="2.2" />
<line x1="1373.20" y1="654.84" x2="1366.70" y2="654.84" stroke="#000" stroke-width="2.2" />
<line x1="1012.60" y1="681.65" x2="1025.60" y2="681.65" stroke="#000" stroke-width="2.2" />
<line x1="1373.20" y1="681.65" x2="1360.20" y2="681.65" stroke="#000" stroke-width="2.2" />
<line x1="1012.60" y1="708.46" x2="1019.10" y2="708.46" stroke="#000" stroke-width="2.2" />
<line x1="1373.20" y1="708.46" x2="1366.70" y2="708.46" stroke="#000" stroke-width="2.2" />
<line x1="1012.60" y1="735.27" x2="1025.60" y2="735.27" stroke="#000" stroke-width="2.2" />
<line x1="1373.20" y1="735.27" x2="1360.20" y2="735.27" stroke="#000" stroke-width="2.2" />
<line x1="1012.60" y1="762.09" x2="1019.10" y2="762.09" stroke="#000" stroke-width="2.2" />
<line x1="1373.20" y1="762.09" x2="1366.70" y2="762.09" stroke="#000" stroke-width="2.2" />
<line x1="1012.60" y1="788.90" x2="1025.60" y2="788.90" stroke="#000" stroke-width="2.2" />
<line x1="1373.20" y1="788.90" x2="1360.20" y2="788.90" stroke="#000" stroke-width="2.2" />
<line x1="1012.60" y1="815.71" x2="1019.10" y2="815.71" stroke="#000" stroke-width="2.2" />
<line x1="1373.20" y1="815.71" x2="1366.70" y2="815.71" stroke="#000" stroke-width="2.2" />
<line x1="1012.60" y1="842.52" x2="1025.60" y2="842.52" stroke="#000" stroke-width="2.2" />
<line x1="1373.20" y1="842.52" x2="1360.20" y2="842.52" stroke="#000" stroke-width="2.2" />
<line x1="1012.60" y1="869.34" x2="1019.10" y2="869.34" stroke="#000" stroke-width="2.2" />
<line x1="1373.20" y1="869.34" x2="1366.70" y2="869.34" stroke="#000" stroke-width="2.2" />
<line x1="1012.60" y1="896.15" x2="1025.60" y2="896.15" stroke="#000" stroke-width="2.2" />
<line x1="1373.20" y1="896.15" x2="1360.20" y2="896.15" stroke="#000" stroke-width="2.2" />
<line x1="1012.60" y1="922.96" x2="1019.10" y2="922.96" stroke="#000" stroke-width="2.2" />
<line x1="1373.20" y1="922.96" x2="1366.70" y2="922.96" stroke="#000" stroke-width="2.2" />
<line x1="1012.60" y1="949.77" x2="1025.60" y2="949.77" stroke="#000" stroke-width="2.2" />
<line x1="1373.20" y1="949.77" x2="1360.20" y2="949.77" stroke="#000" stroke-width="2.2" />
<line x1="1012.60" y1="976.59" x2="1019.10" y2="976.59" stroke="#000" stroke-width="2.2" />
<line x1="1373.20" y1="976.59" x2="1366.70" y2="976.59" stroke="#000" stroke-width="2.2" />
<defs><clipPath id="cc2"><rect x="1012.6" y="574.4" width="360.6" height="429.0"/></clipPath></defs>
<g clip-path="url(#cc2)" fill="none" stroke="#1a6de2" stroke-width="3.3" stroke-linejoin="round" stroke-linecap="round">
<path d="M1012.9 589.8 C1015.9 590.0 1024.9 589.2 1030.8 591.1 C1036.6 592.9 1042.7 596.8 1048.1 601.0 C1053.5 605.1 1058.4 610.2 1063.0 615.8 C1067.5 621.5 1071.6 628.4 1075.3 634.9 C1079.1 641.4 1082.3 648.6 1085.2 654.7 C1088.2 660.8 1090.5 667.0 1093.2 671.5 C1095.9 676.1 1100.0 680.2 1101.3 681.9"/>
<path d="M1012.9 590.9 C1015.9 591.1 1024.9 590.2 1030.7 592.0 C1036.6 593.7 1042.7 597.5 1048.0 601.5 C1053.4 605.5 1058.3 610.5 1062.8 616.1 C1067.3 621.7 1071.5 628.6 1075.2 635.1 C1078.9 641.6 1082.1 648.8 1085.1 654.9 C1088.1 661.0 1090.4 667.2 1093.1 671.8 C1095.8 676.3 1100.0 680.3 1101.3 682.0"/>
<path d="M1012.9 593.0 C1015.9 593.1 1024.8 592.1 1030.6 593.6 C1036.5 595.2 1042.5 598.7 1047.9 602.6 C1053.2 606.4 1058.0 611.1 1062.5 616.6 C1067.0 622.1 1071.2 629.1 1074.9 635.6 C1078.6 642.0 1081.9 649.3 1084.9 655.4 C1087.9 661.5 1090.2 667.7 1093.0 672.2 C1095.7 676.6 1099.9 680.5 1101.3 682.2"/>
<path d="M1012.9 595.7 C1015.9 595.7 1024.8 594.4 1030.5 595.8 C1036.3 597.2 1042.4 600.3 1047.7 603.9 C1052.9 607.5 1057.7 611.9 1062.2 617.3 C1066.7 622.7 1070.8 629.7 1074.6 636.1 C1078.3 642.6 1081.5 649.9 1084.6 656.0 C1087.6 662.1 1090.0 668.3 1092.8 672.7 C1095.6 677.1 1099.9 680.7 1101.3 682.3"/>
<path d="M1012.9 598.8 C1015.8 598.8 1024.7 597.3 1030.4 598.4 C1036.2 599.5 1042.2 602.2 1047.4 605.5 C1052.6 608.8 1057.3 612.9 1061.8 618.1 C1066.2 623.3 1070.4 630.4 1074.1 636.8 C1077.9 643.2 1081.1 650.6 1084.2 656.7 C1087.3 662.8 1089.7 669.0 1092.6 673.3 C1095.4 677.6 1099.9 681.0 1101.3 682.6"/>
<path d="M1012.9 602.4 C1015.8 602.3 1024.6 600.5 1030.3 601.3 C1036.0 602.1 1042.0 604.3 1047.1 607.3 C1052.3 610.2 1056.9 614.0 1061.3 619.0 C1065.7 624.1 1069.9 631.1 1073.7 637.6 C1077.4 644.0 1080.7 651.4 1083.8 657.5 C1086.9 663.5 1089.4 669.8 1092.4 674.0 C1095.3 678.2 1099.8 681.3 1101.3 682.8"/>
<path d="M1012.9 606.4 C1015.8 606.1 1024.5 604.0 1030.1 604.5 C1035.8 605.0 1041.7 606.7 1046.8 609.3 C1052.0 611.9 1056.4 615.2 1060.8 620.0 C1065.1 624.9 1069.4 632.0 1073.1 638.4 C1076.9 644.8 1080.2 652.3 1083.4 658.3 C1086.5 664.4 1089.1 670.7 1092.1 674.8 C1095.1 678.9 1099.8 681.7 1101.3 683.1"/>
<path d="M1012.9 610.7 C1015.8 610.3 1024.4 607.9 1030.0 608.0 C1035.6 608.1 1041.5 609.3 1046.5 611.5 C1051.6 613.6 1055.9 616.5 1060.2 621.1 C1064.5 625.7 1068.8 632.9 1072.6 639.3 C1076.4 645.7 1079.7 653.2 1082.9 659.3 C1086.1 665.3 1088.8 671.6 1091.8 675.6 C1094.9 679.7 1099.8 682.1 1101.3 683.4"/>
<path d="M1012.9 615.4 C1015.7 614.8 1024.3 612.1 1029.8 611.8 C1035.3 611.5 1041.2 612.0 1046.2 613.8 C1051.1 615.5 1055.3 617.9 1059.6 622.3 C1063.9 626.7 1068.2 633.9 1072.0 640.3 C1075.8 646.6 1079.1 654.2 1082.4 660.3 C1085.6 666.3 1088.4 672.7 1091.5 676.6 C1094.7 680.4 1099.7 682.5 1101.3 683.7"/>
<path d="M1012.9 620.3 C1015.7 619.6 1024.1 616.5 1029.6 615.8 C1035.1 615.1 1040.9 615.0 1045.8 616.3 C1050.7 617.6 1054.7 619.3 1058.9 623.5 C1063.2 627.7 1067.5 635.0 1071.3 641.3 C1075.1 647.6 1078.5 655.3 1081.8 661.4 C1085.1 667.4 1088.0 673.7 1091.2 677.5 C1094.5 681.3 1099.7 682.9 1101.3 684.0"/>
<path d="M1012.9 625.5 C1015.7 624.6 1024.0 621.1 1029.4 620.0 C1034.8 618.9 1040.6 618.1 1045.4 618.9 C1050.2 619.7 1054.0 620.9 1058.2 624.8 C1062.4 628.8 1066.8 636.2 1070.6 642.4 C1074.5 648.7 1077.8 656.5 1081.2 662.5 C1084.6 668.5 1087.5 674.9 1090.9 678.5 C1094.2 682.2 1099.6 683.4 1101.3 684.4"/>
<path d="M1012.9 631.0 C1015.6 629.9 1023.9 626.1 1029.2 624.5 C1034.6 622.9 1040.3 621.3 1045.0 621.6 C1049.7 621.9 1053.4 622.6 1057.5 626.2 C1061.7 629.9 1066.1 637.3 1069.9 643.6 C1073.7 649.8 1077.1 657.7 1080.6 663.7 C1084.0 669.7 1087.1 676.1 1090.5 679.6 C1094.0 683.1 1099.5 683.9 1101.3 684.7"/>
<path d="M1012.9 636.8 C1015.6 635.5 1023.7 631.2 1029.0 629.1 C1034.3 627.1 1039.9 624.8 1044.6 624.5 C1049.2 624.3 1052.7 624.3 1056.8 627.7 C1060.9 631.1 1065.3 638.6 1069.1 644.8 C1073.0 651.0 1076.4 659.0 1079.9 665.0 C1083.4 671.0 1086.6 677.4 1090.2 680.7 C1093.7 684.1 1099.5 684.4 1101.3 685.1"/>
<path d="M1012.9 642.8 C1015.6 641.3 1023.6 636.5 1028.8 634.0 C1034.0 631.5 1039.6 628.3 1044.1 627.5 C1048.6 626.7 1051.9 626.1 1056.0 629.2 C1060.0 632.3 1064.5 639.9 1068.3 646.1 C1072.2 652.3 1075.7 660.3 1079.3 666.3 C1082.8 672.3 1086.1 678.7 1089.8 681.9 C1093.5 685.1 1099.4 684.9 1101.3 685.5"/>
<path d="M1012.9 649.0 C1015.5 647.3 1023.4 642.1 1028.5 639.1 C1033.6 636.0 1039.2 632.0 1043.6 630.7 C1048.1 629.3 1051.2 628.0 1055.1 630.8 C1059.1 633.6 1063.6 641.2 1067.5 647.4 C1071.4 653.5 1074.9 661.7 1078.5 667.6 C1082.2 673.6 1085.6 680.1 1089.4 683.1 C1093.2 686.2 1099.3 685.5 1101.3 686.0"/>
<path d="M1012.9 655.4 C1015.5 653.6 1023.3 647.9 1028.3 644.3 C1033.3 640.7 1038.8 635.9 1043.1 633.9 C1047.5 631.9 1050.4 629.9 1054.3 632.4 C1058.2 634.9 1062.8 642.6 1066.7 648.8 C1070.6 654.9 1074.1 663.1 1077.8 669.1 C1081.5 675.0 1085.0 681.5 1089.0 684.4 C1092.9 687.3 1099.3 686.1 1101.3 686.4"/>
<path d="M1101.3 681.4 C1104.0 680.6 1111.9 679.0 1117.4 676.5 C1123.0 674.0 1128.6 671.1 1134.8 666.6 C1141.0 662.0 1148.0 654.2 1154.6 649.2 C1161.2 644.3 1168.1 639.5 1174.4 636.9 C1180.7 634.2 1186.7 632.3 1192.5 633.2 C1198.3 634.0 1203.8 638.1 1209.1 641.8 C1214.3 645.5 1219.0 651.7 1223.9 655.4 C1228.9 659.2 1233.8 662.6 1238.8 664.1 C1243.7 665.6 1248.7 664.7 1253.6 664.6 C1258.6 664.5 1263.9 663.9 1268.5 663.4 C1273.1 662.9 1279.2 661.9 1281.4 661.6"/>
<path d="M1101.3 681.8 C1104.0 681.0 1111.9 679.4 1117.4 677.0 C1123.0 674.5 1128.6 671.4 1134.8 667.0 C1141.0 662.5 1148.0 655.0 1154.6 650.2 C1161.2 645.4 1168.1 640.8 1174.4 638.2 C1180.7 635.6 1186.7 633.6 1192.5 634.4 C1198.3 635.2 1203.8 639.2 1209.1 643.0 C1214.3 646.7 1219.0 652.9 1223.9 656.7 C1228.9 660.4 1233.8 663.9 1238.8 665.4 C1243.7 667.0 1248.7 666.2 1253.6 666.1 C1258.6 666.0 1263.9 665.4 1268.5 664.9 C1273.1 664.4 1279.2 663.5 1281.4 663.2"/>
<path d="M1101.3 682.2 C1104.0 681.4 1111.9 679.9 1117.4 677.4 C1123.0 675.0 1128.6 671.7 1134.8 667.3 C1141.0 663.0 1148.0 655.8 1154.6 651.2 C1161.2 646.5 1168.1 642.1 1174.4 639.5 C1180.7 636.9 1186.7 634.9 1192.5 635.6 C1198.3 636.4 1203.8 640.4 1209.1 644.1 C1214.3 647.8 1219.0 654.1 1223.9 657.9 C1228.9 661.7 1233.8 665.2 1238.8 666.8 C1243.7 668.4 1248.7 667.7 1253.6 667.6 C1258.6 667.6 1263.9 666.9 1268.5 666.4 C1273.1 666.0 1279.2 665.1 1281.4 664.9"/>
<path d="M1101.3 682.6 C1104.0 681.8 1111.9 680.4 1117.4 677.9 C1123.0 675.4 1128.6 672.0 1134.8 667.7 C1141.0 663.4 1148.0 656.6 1154.6 652.1 C1161.2 647.6 1168.1 643.4 1174.4 640.9 C1180.7 638.3 1186.7 636.1 1192.5 636.9 C1198.3 637.6 1203.8 641.5 1209.1 645.2 C1214.3 649.0 1219.0 655.3 1223.9 659.2 C1228.9 663.0 1233.8 666.4 1238.8 668.1 C1243.7 669.8 1248.7 669.2 1253.6 669.2 C1258.6 669.2 1263.9 668.4 1268.5 668.0 C1273.1 667.5 1279.2 666.7 1281.4 666.5"/>
<path d="M1101.3 683.0 C1104.0 682.2 1111.9 680.9 1117.4 678.4 C1123.0 675.9 1128.6 672.3 1134.8 668.1 C1141.0 663.9 1148.0 657.4 1154.6 653.1 C1161.2 648.7 1168.1 644.7 1174.4 642.2 C1180.7 639.7 1186.7 637.4 1192.5 638.1 C1198.3 638.8 1203.8 642.7 1209.1 646.4 C1214.3 650.1 1219.0 656.5 1223.9 660.4 C1228.9 664.2 1233.8 667.7 1238.8 669.4 C1243.7 671.2 1248.7 670.7 1253.6 670.7 C1258.6 670.7 1263.9 670.0 1268.5 669.5 C1273.1 669.1 1279.2 668.3 1281.4 668.1"/>
<path d="M1101.3 683.3 C1104.0 682.6 1111.9 681.3 1117.4 678.9 C1123.0 676.4 1128.6 672.6 1134.8 668.5 C1141.0 664.3 1148.0 658.2 1154.6 654.0 C1161.2 649.9 1168.1 646.0 1174.4 643.5 C1180.7 641.1 1186.7 638.7 1192.5 639.3 C1198.3 640.0 1203.8 643.8 1209.1 647.5 C1214.3 651.2 1219.0 657.8 1223.9 661.6 C1228.9 665.5 1233.8 669.0 1238.8 670.8 C1243.7 672.5 1248.7 672.2 1253.6 672.2 C1258.6 672.3 1263.9 671.5 1268.5 671.1 C1273.1 670.7 1279.2 670.0 1281.4 669.7"/>
<path d="M1101.3 683.7 C1104.0 683.0 1111.9 681.8 1117.4 679.3 C1123.0 676.9 1128.6 672.9 1134.8 668.9 C1141.0 664.8 1148.0 659.0 1154.6 655.0 C1161.2 651.0 1168.1 647.3 1174.4 644.9 C1180.7 642.5 1186.7 639.9 1192.5 640.6 C1198.3 641.2 1203.8 645.0 1209.1 648.7 C1214.3 652.4 1219.0 659.0 1223.9 662.9 C1228.9 666.8 1233.8 670.3 1238.8 672.1 C1243.7 673.9 1248.7 673.7 1253.6 673.7 C1258.6 673.8 1263.9 673.0 1268.5 672.6 C1273.1 672.2 1279.2 671.6 1281.4 671.3"/>
<path d="M1101.3 684.1 C1104.0 683.4 1111.9 682.3 1117.4 679.8 C1123.0 677.3 1128.6 673.2 1134.8 669.2 C1141.0 665.3 1148.0 659.8 1154.6 655.9 C1161.2 652.1 1168.1 648.5 1174.4 646.2 C1180.7 643.8 1186.7 641.2 1192.5 641.8 C1198.3 642.4 1203.8 646.1 1209.1 649.8 C1214.3 653.5 1219.0 660.2 1223.9 664.1 C1228.9 668.0 1233.8 671.6 1238.8 673.4 C1243.7 675.3 1248.7 675.1 1253.6 675.3 C1258.6 675.4 1263.9 674.5 1268.5 674.2 C1273.1 673.8 1279.2 673.2 1281.4 673.0"/>
<path d="M1101.3 684.5 C1104.0 683.8 1111.9 682.8 1117.4 680.3 C1123.0 677.8 1128.6 673.5 1134.8 669.6 C1141.0 665.7 1148.0 660.6 1154.6 656.9 C1161.2 653.2 1168.1 649.8 1174.4 647.5 C1180.7 645.2 1186.7 642.5 1192.5 643.1 C1198.3 643.6 1203.8 647.2 1209.1 651.0 C1214.3 654.7 1219.0 661.4 1223.9 665.3 C1228.9 669.3 1233.8 672.9 1238.8 674.8 C1243.7 676.7 1248.7 676.6 1253.6 676.8 C1258.6 676.9 1263.9 676.1 1268.5 675.7 C1273.1 675.3 1279.2 674.8 1281.4 674.6"/>
<path d="M1101.3 684.9 C1104.0 684.2 1111.9 683.3 1117.4 680.8 C1123.0 678.3 1128.6 673.8 1134.8 670.0 C1141.0 666.2 1148.0 661.3 1154.6 657.8 C1161.2 654.3 1168.1 651.1 1174.4 648.9 C1180.7 646.6 1186.7 643.8 1192.5 644.3 C1198.3 644.8 1203.8 648.4 1209.1 652.1 C1214.3 655.8 1219.0 662.6 1223.9 666.6 C1228.9 670.6 1233.8 674.2 1238.8 676.1 C1243.7 678.1 1248.7 678.1 1253.6 678.3 C1258.6 678.5 1263.9 677.6 1268.5 677.3 C1273.1 676.9 1279.2 676.4 1281.4 676.2"/>
<path d="M1101.3 685.3 C1104.0 684.6 1111.9 683.7 1117.4 681.3 C1123.0 678.8 1128.6 674.1 1134.8 670.4 C1141.0 666.6 1148.0 662.1 1154.6 658.8 C1161.2 655.4 1168.1 652.4 1174.4 650.2 C1180.7 648.0 1186.7 645.0 1192.5 645.5 C1198.3 646.0 1203.8 649.5 1209.1 653.2 C1214.3 657.0 1219.0 663.8 1223.9 667.8 C1228.9 671.9 1233.8 675.4 1238.8 677.4 C1243.7 679.4 1248.7 679.6 1253.6 679.8 C1258.6 680.1 1263.9 679.1 1268.5 678.8 C1273.1 678.5 1279.2 678.0 1281.4 677.8"/>
<path d="M1101.3 685.6 C1104.0 685.0 1111.9 684.2 1117.4 681.7 C1123.0 679.3 1128.6 674.4 1134.8 670.8 C1141.0 667.1 1148.0 662.9 1154.6 659.7 C1161.2 656.5 1168.1 653.7 1174.4 651.5 C1180.7 649.4 1186.7 646.3 1192.5 646.8 C1198.3 647.2 1203.8 650.7 1209.1 654.4 C1214.3 658.1 1219.0 665.0 1223.9 669.1 C1228.9 673.1 1233.8 676.7 1238.8 678.8 C1243.7 680.8 1248.7 681.1 1253.6 681.4 C1258.6 681.6 1263.9 680.7 1268.5 680.3 C1273.1 680.0 1279.2 679.6 1281.4 679.4"/>
<path d="M1101.3 686.0 C1104.0 685.4 1111.9 684.7 1117.4 682.2 C1123.0 679.7 1128.6 674.7 1134.8 671.2 C1141.0 667.6 1148.0 663.7 1154.6 660.7 C1161.2 657.6 1168.1 655.0 1174.4 652.9 C1180.7 650.8 1186.7 647.6 1192.5 648.0 C1198.3 648.5 1203.8 651.8 1209.1 655.5 C1214.3 659.2 1219.0 666.2 1223.9 670.3 C1228.9 674.4 1233.8 678.0 1238.8 680.1 C1243.7 682.2 1248.7 682.6 1253.6 682.9 C1258.6 683.2 1263.9 682.2 1268.5 681.9 C1273.1 681.6 1279.2 681.2 1281.4 681.1"/>
<path d="M1101.3 686.4 C1104.0 685.8 1111.9 685.2 1117.4 682.7 C1123.0 680.2 1128.6 675.0 1134.8 671.5 C1141.0 668.0 1148.0 664.5 1154.6 661.6 C1161.2 658.7 1168.1 656.3 1174.4 654.2 C1180.7 652.1 1186.7 648.8 1192.5 649.2 C1198.3 649.7 1203.8 653.0 1209.1 656.7 C1214.3 660.4 1219.0 667.4 1223.9 671.5 C1228.9 675.7 1233.8 679.3 1238.8 681.4 C1243.7 683.6 1248.7 684.1 1253.6 684.4 C1258.6 684.7 1263.9 683.7 1268.5 683.4 C1273.1 683.1 1279.2 682.8 1281.4 682.7"/>
<path d="M1012.9 711.2 C1015.9 712.0 1024.5 716.1 1030.8 716.1 C1037.0 716.1 1044.0 713.0 1050.6 711.2 C1057.2 709.3 1064.2 707.2 1070.4 705.0 C1076.6 702.7 1082.6 700.1 1087.7 697.5 C1092.9 694.9 1096.4 692.5 1101.3 689.4 C1106.3 686.3 1111.9 682.3 1117.4 679.0 C1123.0 675.7 1131.9 671.1 1134.8 669.6"/>
<path d="M1012.9 711.4 C1015.9 712.2 1024.5 716.3 1030.8 716.3 C1037.0 716.3 1044.0 713.1 1050.6 711.3 C1057.2 709.4 1064.2 707.3 1070.4 705.1 C1076.6 702.9 1082.5 700.4 1087.7 697.9 C1092.9 695.3 1096.4 692.8 1101.3 689.7 C1106.3 686.6 1111.9 682.6 1117.4 679.2 C1123.0 675.9 1131.9 671.2 1134.8 669.6"/>
<path d="M1012.9 712.1 C1015.9 712.8 1024.5 716.8 1030.8 716.7 C1037.0 716.6 1044.0 713.4 1050.6 711.6 C1057.2 709.7 1064.1 707.6 1070.3 705.5 C1076.5 703.3 1082.5 701.2 1087.6 698.7 C1092.8 696.2 1096.4 693.6 1101.3 690.4 C1106.3 687.3 1111.9 683.3 1117.4 679.9 C1123.0 676.4 1131.9 671.4 1134.8 669.7"/>
<path d="M1012.9 713.0 C1015.9 713.7 1024.5 717.5 1030.8 717.3 C1037.0 717.2 1044.0 713.9 1050.6 712.0 C1057.2 710.1 1064.1 708.0 1070.2 706.0 C1076.4 704.0 1082.4 702.3 1087.6 699.9 C1092.8 697.5 1096.4 694.8 1101.3 691.6 C1106.3 688.4 1111.9 684.4 1117.4 680.8 C1123.0 677.2 1131.9 671.7 1134.8 669.8"/>
<path d="M1012.9 714.3 C1015.9 714.9 1024.5 718.5 1030.8 718.2 C1037.0 717.9 1044.0 714.5 1050.6 712.6 C1057.1 710.7 1064.0 708.6 1070.1 706.7 C1076.3 704.9 1082.3 703.8 1087.5 701.5 C1092.7 699.2 1096.3 696.3 1101.3 693.1 C1106.3 689.8 1111.9 685.9 1117.4 682.1 C1123.0 678.2 1131.9 672.0 1134.8 670.0"/>
<path d="M1012.9 715.8 C1015.9 716.4 1024.5 719.6 1030.8 719.2 C1037.0 718.8 1044.0 715.2 1050.6 713.3 C1057.1 711.4 1063.9 709.2 1070.0 707.6 C1076.1 705.9 1082.1 705.6 1087.3 703.5 C1092.6 701.4 1096.3 698.2 1101.3 694.9 C1106.4 691.6 1111.9 687.7 1117.4 683.6 C1123.0 679.5 1131.9 672.5 1134.8 670.3"/>
<path d="M1012.9 717.6 C1015.9 718.1 1024.5 721.0 1030.8 720.4 C1037.0 719.8 1044.1 716.1 1050.6 714.1 C1057.1 712.1 1063.7 710.0 1069.8 708.6 C1076.0 707.2 1081.9 707.7 1087.2 705.8 C1092.4 703.9 1096.3 700.5 1101.3 697.1 C1106.4 693.7 1111.9 689.9 1117.4 685.4 C1123.0 681.0 1131.9 673.0 1134.8 670.5"/>
<path d="M1012.9 719.7 C1015.9 720.0 1024.5 722.6 1030.8 721.8 C1037.0 721.0 1044.1 717.1 1050.6 715.1 C1057.1 713.1 1063.6 710.8 1069.7 709.7 C1075.7 708.6 1081.7 710.1 1087.0 708.4 C1092.3 706.7 1096.3 703.0 1101.3 699.5 C1106.4 696.0 1111.9 692.3 1117.4 687.5 C1123.0 682.7 1131.9 673.6 1134.8 670.8"/>
<path d="M1012.9 722.0 C1015.9 722.2 1024.5 724.3 1030.8 723.3 C1037.0 722.4 1044.1 718.2 1050.6 716.1 C1057.0 714.1 1063.4 711.8 1069.5 711.0 C1075.5 710.2 1081.5 712.8 1086.8 711.4 C1092.1 709.9 1096.2 705.9 1101.3 702.3 C1106.4 698.7 1111.9 695.0 1117.4 689.8 C1123.0 684.6 1131.9 674.3 1134.8 671.2"/>
<path d="M1012.9 724.6 C1015.9 724.7 1024.5 726.3 1030.8 725.1 C1037.0 723.8 1044.2 719.4 1050.6 717.3 C1057.0 715.2 1063.3 712.9 1069.3 712.5 C1075.3 712.0 1081.3 715.8 1086.6 714.6 C1092.0 713.5 1096.2 709.1 1101.3 705.4 C1106.5 701.6 1111.9 698.0 1117.4 692.4 C1123.0 686.7 1131.9 675.0 1134.8 671.6"/>
<path d="M1012.9 727.4 C1015.9 727.3 1024.5 728.4 1030.8 726.9 C1037.0 725.5 1044.2 720.7 1050.6 718.6 C1057.0 716.4 1063.1 714.1 1069.0 714.0 C1075.0 714.0 1081.0 719.1 1086.4 718.2 C1091.8 717.3 1096.2 712.5 1101.3 708.7 C1106.5 704.9 1111.9 701.3 1117.4 695.2 C1123.0 689.1 1131.9 675.9 1134.8 672.0"/>
<path d="M1012.9 730.4 C1015.9 730.2 1024.5 730.7 1030.8 728.9 C1037.0 727.2 1044.2 722.2 1050.6 720.0 C1056.9 717.8 1062.9 715.4 1068.8 715.7 C1074.7 716.1 1080.7 722.7 1086.1 722.1 C1091.5 721.5 1096.1 716.3 1101.3 712.3 C1106.6 708.3 1111.9 704.9 1117.4 698.2 C1123.0 691.6 1131.9 676.7 1134.8 672.4"/>
<path d="M1012.9 733.7 C1015.9 733.3 1024.5 733.2 1030.8 731.1 C1037.0 729.1 1044.3 723.7 1050.6 721.5 C1056.9 719.2 1062.6 716.7 1068.5 717.5 C1074.4 718.3 1080.4 726.5 1085.8 726.2 C1091.3 726.0 1096.1 720.3 1101.3 716.2 C1106.6 712.1 1111.9 708.7 1117.4 701.5 C1123.0 694.3 1131.9 677.7 1134.8 672.9"/>
<path d="M1012.9 737.2 C1015.9 736.5 1024.5 735.8 1030.8 733.4 C1037.0 731.1 1044.3 725.4 1050.6 723.1 C1056.8 720.8 1062.4 718.2 1068.2 719.5 C1074.1 720.8 1080.0 730.6 1085.6 730.7 C1091.1 730.8 1096.0 724.6 1101.3 720.4 C1106.7 716.1 1111.9 712.8 1117.4 705.0 C1123.0 697.2 1131.9 678.7 1134.8 673.5"/>
<path d="M1012.9 740.9 C1015.9 740.1 1024.5 738.6 1030.8 735.9 C1037.0 733.2 1044.4 727.2 1050.6 724.8 C1056.8 722.4 1062.1 719.8 1067.9 721.6 C1073.7 723.3 1079.7 734.9 1085.2 735.4 C1090.8 736.0 1096.0 729.2 1101.3 724.8 C1106.7 720.3 1111.9 717.1 1117.4 708.7 C1123.0 700.2 1131.9 679.8 1134.8 674.0"/>
<path d="M1005.0 690.6 C1006.7 691.8 1011.8 695.1 1014.9 698.0 C1018.0 700.9 1020.9 704.0 1023.6 707.9 C1026.3 711.9 1028.5 716.8 1031.0 721.6 C1033.5 726.3 1036.0 731.5 1038.4 736.4 C1040.9 741.4 1043.5 746.9 1045.9 751.3 C1048.2 755.6 1050.3 759.4 1052.6 762.4 C1054.8 765.4 1057.1 767.6 1059.5 769.4 C1061.9 771.1 1065.7 772.2 1066.9 772.8"/>
<path d="M1006.7 690.8 C1008.4 692.1 1013.5 695.4 1016.6 698.2 C1019.7 701.1 1022.6 704.2 1025.3 708.2 C1028.0 712.1 1030.2 717.0 1032.7 721.8 C1035.2 726.5 1037.7 731.7 1040.1 736.6 C1042.6 741.6 1045.2 747.2 1047.6 751.5 C1049.9 755.8 1052.0 759.6 1054.3 762.6 C1056.5 765.6 1058.8 767.8 1061.2 769.6 C1063.6 771.3 1067.4 772.5 1068.6 773.0"/>
<path d="M1008.4 691.0 C1010.1 692.3 1015.2 695.6 1018.3 698.5 C1021.4 701.3 1024.3 704.4 1027.0 708.4 C1029.7 712.3 1031.9 717.2 1034.4 722.0 C1036.9 726.7 1039.4 731.9 1041.8 736.8 C1044.3 741.8 1046.9 747.4 1049.3 751.7 C1051.6 756.0 1053.7 759.8 1056.0 762.8 C1058.2 765.9 1060.5 768.0 1062.9 769.8 C1065.3 771.5 1069.1 772.7 1070.3 773.2"/>
<path d="M1010.1 691.2 C1011.8 692.5 1016.9 695.8 1020.0 698.7 C1023.1 701.6 1026.0 704.7 1028.7 708.6 C1031.4 712.5 1033.6 717.5 1036.1 722.2 C1038.6 726.9 1041.1 732.1 1043.5 737.1 C1046.0 742.0 1048.6 747.6 1051.0 751.9 C1053.3 756.2 1055.4 760.0 1057.7 763.1 C1059.9 766.1 1062.2 768.3 1064.6 770.0 C1067.0 771.7 1070.8 772.9 1072.0 773.5"/>
<path d="M1011.8 691.5 C1013.5 692.7 1018.6 696.0 1021.7 698.9 C1024.8 701.8 1027.7 704.9 1030.4 708.8 C1033.1 712.7 1035.3 717.7 1037.8 722.4 C1040.3 727.2 1042.8 732.3 1045.2 737.3 C1047.7 742.2 1050.3 747.8 1052.7 752.1 C1055.0 756.5 1057.1 760.3 1059.4 763.3 C1061.6 766.3 1063.9 768.5 1066.3 770.2 C1068.7 771.9 1072.5 773.1 1073.7 773.7"/>
<path d="M1013.5 691.7 C1015.2 692.9 1020.3 696.2 1023.4 699.1 C1026.5 702.0 1029.4 705.1 1032.1 709.0 C1034.8 712.9 1037.0 717.9 1039.5 722.6 C1042.0 727.4 1044.5 732.5 1046.9 737.5 C1049.4 742.4 1052.0 748.0 1054.4 752.3 C1056.7 756.7 1058.8 760.5 1061.0 763.5 C1063.3 766.5 1065.6 768.7 1068.0 770.4 C1070.4 772.2 1074.2 773.3 1075.4 773.9"/>
<path d="M1015.2 691.9 C1016.8 693.1 1022.0 696.4 1025.1 699.3 C1028.2 702.2 1031.1 705.3 1033.8 709.2 C1036.5 713.1 1038.7 718.1 1041.2 722.8 C1043.7 727.6 1046.2 732.7 1048.6 737.7 C1051.1 742.6 1053.7 748.2 1056.1 752.6 C1058.4 756.9 1060.5 760.7 1062.7 763.7 C1065.0 766.7 1067.3 768.9 1069.7 770.6 C1072.1 772.4 1075.9 773.5 1077.1 774.1"/>
<path d="M1016.9 692.1 C1018.5 693.3 1023.7 696.6 1026.8 699.5 C1029.9 702.4 1032.8 705.5 1035.5 709.4 C1038.2 713.3 1040.4 718.3 1042.9 723.0 C1045.4 727.8 1047.9 733.0 1050.3 737.9 C1052.8 742.9 1055.4 748.4 1057.8 752.8 C1060.1 757.1 1062.2 760.9 1064.4 763.9 C1066.7 766.9 1069.0 769.1 1071.4 770.8 C1073.8 772.6 1077.6 773.7 1078.8 774.3"/>
<path d="M1281.4 661.1 C1284.2 659.6 1292.5 655.1 1298.2 651.7 C1303.9 648.3 1310.6 642.6 1315.6 640.6 C1320.5 638.5 1323.4 641.5 1327.9 639.3 C1332.5 637.2 1337.8 633.2 1342.8 627.5 C1347.8 621.7 1352.8 610.7 1357.7 604.7 C1362.5 598.6 1369.6 593.3 1372.0 591.1"/>
<path d="M1281.4 661.3 C1284.2 659.7 1292.5 655.3 1298.2 652.0 C1303.9 648.6 1310.6 643.2 1315.6 641.1 C1320.5 639.1 1323.4 642.0 1327.9 639.8 C1332.5 637.6 1337.8 633.6 1342.8 627.9 C1347.8 622.2 1352.8 611.5 1357.7 605.6 C1362.5 599.7 1369.6 594.5 1372.0 592.3"/>
<path d="M1281.4 661.5 C1284.2 660.0 1292.5 655.6 1298.2 652.4 C1303.9 649.2 1310.6 644.1 1315.6 642.1 C1320.5 640.1 1323.4 642.8 1327.9 640.5 C1332.5 638.3 1337.8 634.3 1342.8 628.8 C1347.8 623.2 1352.8 613.0 1357.7 607.3 C1362.5 601.6 1369.6 596.7 1372.0 594.5"/>
<path d="M1281.4 661.8 C1284.2 660.3 1292.5 656.0 1298.2 653.0 C1303.9 649.9 1310.6 645.3 1315.6 643.4 C1320.5 641.5 1323.4 643.8 1327.9 641.6 C1332.5 639.3 1337.8 635.2 1342.8 629.9 C1347.8 624.5 1352.8 614.9 1357.7 609.5 C1362.5 604.1 1369.6 599.4 1372.0 597.4"/>
<path d="M1281.4 662.2 C1284.2 660.7 1292.5 656.5 1298.2 653.6 C1303.9 650.7 1310.6 646.7 1315.6 644.9 C1320.5 643.1 1323.4 645.0 1327.9 642.7 C1332.5 640.5 1337.8 636.3 1342.8 631.2 C1347.8 626.0 1352.8 617.1 1357.7 612.0 C1362.5 607.0 1369.6 602.7 1372.0 600.9"/>
<path d="M1281.4 662.6 C1284.2 661.2 1292.5 657.0 1298.2 654.4 C1303.9 651.7 1310.6 648.4 1315.6 646.7 C1320.5 644.9 1323.4 646.4 1327.9 644.1 C1332.5 641.8 1337.8 637.5 1342.8 632.6 C1347.8 627.8 1352.8 619.6 1357.7 615.0 C1362.5 610.3 1369.6 606.5 1372.0 604.8"/>
<path d="M1281.4 663.0 C1284.2 661.7 1292.5 657.6 1298.2 655.2 C1303.9 652.8 1310.6 650.2 1315.6 648.6 C1320.5 647.0 1323.4 648.0 1327.9 645.6 C1332.5 643.2 1337.8 638.8 1342.8 634.3 C1347.8 629.7 1352.8 622.4 1357.7 618.2 C1362.5 614.0 1369.6 610.6 1372.0 609.1"/>
<path d="M1281.4 663.5 C1284.2 662.3 1292.5 658.2 1298.2 656.1 C1303.9 654.0 1310.6 652.1 1315.6 650.6 C1320.5 649.2 1323.4 649.7 1327.9 647.2 C1332.5 644.8 1337.8 640.3 1342.8 636.0 C1347.8 631.8 1352.8 625.4 1357.7 621.7 C1362.5 618.0 1369.6 615.1 1372.0 613.8"/>
<path d="M1281.4 664.0 C1284.2 662.9 1292.5 658.9 1298.2 657.1 C1303.9 655.2 1310.6 654.2 1315.6 652.9 C1320.5 651.5 1323.4 651.5 1327.9 649.0 C1332.5 646.5 1337.8 641.8 1342.8 637.9 C1347.8 634.0 1352.8 628.7 1357.7 625.5 C1362.5 622.4 1369.6 620.0 1372.0 618.9"/>
<path d="M1281.4 664.6 C1284.2 663.5 1292.5 659.7 1298.2 658.1 C1303.9 656.6 1310.6 656.5 1315.6 655.3 C1320.5 654.0 1323.4 653.4 1327.9 650.8 C1332.5 648.3 1337.8 643.5 1342.8 640.0 C1347.8 636.4 1352.8 632.2 1357.7 629.6 C1362.5 626.9 1369.6 625.1 1372.0 624.2"/>
<path d="M1281.4 665.2 C1284.2 664.2 1292.5 660.4 1298.2 659.2 C1303.9 658.0 1310.6 658.8 1315.6 657.8 C1320.5 656.7 1323.4 655.4 1327.9 652.8 C1332.5 650.2 1337.8 645.3 1342.8 642.1 C1347.8 638.9 1352.8 635.9 1357.7 633.8 C1362.5 631.8 1369.6 630.6 1372.0 629.9"/>
<path d="M1281.4 665.8 C1284.2 664.9 1292.5 661.2 1298.2 660.3 C1303.9 659.5 1310.6 661.3 1315.6 660.4 C1320.5 659.5 1323.4 657.5 1327.9 654.9 C1332.5 652.2 1337.8 647.1 1342.8 644.4 C1347.8 641.6 1352.8 639.7 1357.7 638.3 C1362.5 636.9 1369.6 636.3 1372.0 635.9"/>
<path d="M1281.4 666.4 C1284.2 665.6 1292.5 662.1 1298.2 661.5 C1303.9 661.0 1310.6 663.9 1315.6 663.2 C1320.5 662.4 1323.4 659.8 1327.9 657.0 C1332.5 654.3 1337.8 649.1 1342.8 646.7 C1347.8 644.4 1352.8 643.8 1357.7 643.0 C1362.5 642.2 1369.6 642.3 1372.0 642.1"/>
<path d="M1281.4 667.1 C1284.2 666.4 1292.5 663.0 1298.2 662.8 C1303.9 662.6 1310.6 666.6 1315.6 666.1 C1320.5 665.5 1323.4 662.1 1327.9 659.3 C1332.5 656.5 1337.8 651.1 1342.8 649.2 C1347.8 647.3 1352.8 648.0 1357.7 647.9 C1362.5 647.8 1369.6 648.5 1372.0 648.7"/>
<path d="M1281.4 667.8 C1284.2 667.2 1292.5 663.9 1298.2 664.1 C1303.9 664.3 1310.6 669.5 1315.6 669.1 C1320.5 668.6 1323.4 664.5 1327.9 661.6 C1332.5 658.7 1337.8 653.2 1342.8 651.7 C1347.8 650.3 1352.8 652.3 1357.7 653.0 C1362.5 653.6 1369.6 655.0 1372.0 655.4"/>
<path d="M1281.4 669.1 C1285.0 668.7 1296.7 667.1 1303.2 667.1 C1309.7 667.1 1316.4 669.6 1320.5 669.1 C1324.6 668.6 1324.2 663.3 1327.9 664.1 C1331.7 664.9 1337.8 669.9 1342.8 674.0 C1347.8 678.1 1352.8 685.2 1357.7 688.9 C1362.5 692.6 1369.6 695.1 1372.0 696.3"/>
<path d="M1281.4 670.0 C1285.0 669.9 1296.4 668.9 1302.8 669.2 C1309.3 669.4 1315.9 672.0 1320.2 671.7 C1324.4 671.4 1324.5 666.5 1328.3 667.4 C1332.1 668.2 1338.2 672.9 1343.2 676.8 C1348.1 680.8 1353.0 687.4 1357.8 691.0 C1362.6 694.5 1369.7 697.0 1372.0 698.2"/>
<path d="M1281.4 671.0 C1284.9 671.0 1296.1 670.7 1302.5 671.3 C1308.9 671.8 1315.4 674.5 1319.8 674.4 C1324.2 674.3 1324.7 669.8 1328.6 670.7 C1332.6 671.5 1338.6 675.9 1343.5 679.7 C1348.4 683.4 1353.3 689.7 1358.0 693.1 C1362.8 696.5 1369.7 698.9 1372.0 700.0"/>
<path d="M1281.4 672.0 C1284.8 672.2 1295.8 672.5 1302.1 673.3 C1308.5 674.2 1315.0 676.9 1319.5 677.0 C1323.9 677.1 1324.9 673.0 1329.0 673.9 C1333.1 674.8 1339.0 679.0 1343.9 682.5 C1348.7 686.1 1353.5 692.0 1358.2 695.2 C1362.9 698.5 1369.7 700.8 1372.0 701.9"/>
<path d="M1281.4 673.0 C1284.8 673.4 1295.5 674.3 1301.8 675.4 C1308.0 676.5 1314.5 679.4 1319.1 679.7 C1323.7 680.0 1325.2 676.3 1329.4 677.2 C1333.5 678.1 1339.4 682.0 1344.2 685.3 C1349.1 688.7 1353.7 694.3 1358.4 697.4 C1363.0 700.4 1369.7 702.7 1372.0 703.7"/>
<path d="M1281.4 673.9 C1284.7 674.5 1295.2 676.1 1301.4 677.5 C1307.6 678.9 1314.0 681.8 1318.7 682.3 C1323.5 682.8 1325.4 679.5 1329.7 680.5 C1334.0 681.4 1339.8 685.0 1344.6 688.2 C1349.4 691.3 1354.0 696.6 1358.5 699.5 C1363.1 702.4 1369.8 704.6 1372.0 705.6"/>
<path d="M1281.4 674.9 C1284.7 675.7 1294.9 677.9 1301.1 679.6 C1307.2 681.3 1313.6 684.3 1318.4 685.0 C1323.2 685.7 1325.6 682.7 1330.1 683.7 C1334.5 684.7 1340.1 688.0 1344.9 691.0 C1349.7 694.0 1354.2 698.9 1358.7 701.6 C1363.2 704.3 1369.8 706.5 1372.0 707.4"/>
<path d="M1281.4 675.9 C1284.6 676.8 1294.6 679.7 1300.7 681.7 C1306.8 683.6 1313.1 686.7 1318.0 687.6 C1323.0 688.5 1325.9 686.0 1330.4 687.0 C1335.0 688.0 1340.5 691.0 1345.3 693.8 C1350.0 696.6 1354.4 701.1 1358.9 703.7 C1363.4 706.3 1369.8 708.4 1372.0 709.3"/>
<path d="M1281.4 676.8 C1284.5 678.0 1294.3 681.5 1300.3 683.8 C1306.4 686.0 1312.6 689.2 1317.7 690.3 C1322.8 691.4 1326.1 689.2 1330.8 690.3 C1335.4 691.3 1340.9 694.1 1345.6 696.7 C1350.3 699.2 1354.7 703.4 1359.1 705.9 C1363.5 708.3 1369.9 710.3 1372.0 711.2"/>
<path d="M1281.4 677.8 C1284.5 679.2 1294.0 683.3 1300.0 685.9 C1306.0 688.4 1312.1 691.7 1317.3 692.9 C1322.5 694.2 1326.3 692.5 1331.1 693.6 C1335.9 694.6 1341.3 697.1 1346.0 699.5 C1350.7 701.9 1354.9 705.7 1359.3 708.0 C1363.6 710.2 1369.9 712.2 1372.0 713.0"/>
<path d="M1281.4 678.8 C1284.4 680.3 1293.7 685.2 1299.6 688.0 C1305.6 690.8 1311.7 694.1 1317.0 695.6 C1322.3 697.1 1326.6 695.7 1331.5 696.8 C1336.4 698.0 1341.7 700.1 1346.3 702.3 C1351.0 704.5 1355.1 708.0 1359.4 710.1 C1363.7 712.2 1369.9 714.1 1372.0 714.9"/>
<path d="M1281.4 679.8 C1284.4 681.5 1293.4 687.0 1299.3 690.0 C1305.2 693.1 1311.2 696.6 1316.6 698.2 C1322.0 699.9 1326.8 699.0 1331.8 700.1 C1336.8 701.3 1342.1 703.1 1346.7 705.1 C1351.3 707.2 1355.4 710.3 1359.6 712.2 C1363.8 714.2 1370.0 716.0 1372.0 716.7"/>
<path d="M1281.4 680.7 C1284.3 682.6 1293.1 688.8 1298.9 692.1 C1304.7 695.5 1310.7 699.0 1316.3 700.9 C1321.8 702.8 1327.1 702.2 1332.2 703.4 C1337.3 704.6 1342.4 706.1 1347.0 708.0 C1351.6 709.8 1355.6 712.6 1359.8 714.3 C1363.9 716.1 1370.0 717.9 1372.0 718.6"/>
<path d="M1281.4 681.7 C1284.2 683.8 1292.8 690.6 1298.6 694.2 C1304.3 697.9 1310.3 701.5 1315.9 703.6 C1321.6 705.6 1327.3 705.4 1332.5 706.6 C1337.8 707.9 1342.8 709.2 1347.4 710.8 C1352.0 712.4 1355.9 714.9 1360.0 716.5 C1364.1 718.1 1370.0 719.8 1372.0 720.4"/>
<path d="M1281.4 682.7 C1284.2 684.9 1292.5 692.4 1298.2 696.3 C1303.9 700.2 1309.8 703.9 1315.6 706.2 C1321.3 708.5 1327.5 708.7 1332.9 709.9 C1338.3 711.2 1343.2 712.2 1347.8 713.6 C1352.3 715.1 1356.1 717.1 1360.1 718.6 C1364.2 720.0 1370.0 721.7 1372.0 722.3"/>
<path d="M1012.9 743.4 C1015.9 745.0 1024.5 750.6 1030.8 753.3 C1037.0 755.9 1044.0 759.0 1050.6 759.5 C1057.2 759.9 1064.2 756.1 1070.4 755.7 C1076.6 755.3 1082.6 756.1 1087.7 757.0 C1092.9 757.8 1099.1 760.1 1101.3 760.7"/>
<path d="M1012.9 744.0 C1015.9 745.6 1024.5 751.2 1030.8 753.8 C1037.0 756.5 1044.0 759.6 1050.6 760.0 C1057.2 760.4 1064.2 756.8 1070.4 756.4 C1076.6 755.9 1082.6 756.7 1087.7 757.5 C1092.9 758.3 1099.1 760.6 1101.3 761.2"/>
<path d="M1012.9 745.1 C1015.9 746.7 1024.5 752.2 1030.8 754.9 C1037.0 757.5 1044.0 760.6 1050.6 761.1 C1057.2 761.5 1064.2 757.9 1070.4 757.5 C1076.6 757.0 1082.6 757.7 1087.7 758.5 C1092.9 759.3 1099.1 761.6 1101.3 762.2"/>
<path d="M1012.9 746.5 C1015.9 748.2 1024.5 753.6 1030.8 756.2 C1037.0 758.8 1044.0 761.9 1050.6 762.4 C1057.2 762.9 1064.2 759.4 1070.4 758.9 C1076.6 758.5 1082.6 759.1 1087.7 759.8 C1092.9 760.5 1099.1 762.8 1101.3 763.4"/>
<path d="M1012.9 748.3 C1015.9 749.9 1024.5 755.2 1030.8 757.8 C1037.0 760.4 1044.0 763.5 1050.6 764.0 C1057.2 764.5 1064.2 761.1 1070.4 760.7 C1076.6 760.2 1082.6 760.6 1087.7 761.3 C1092.9 762.0 1099.1 764.3 1101.3 764.8"/>
<path d="M1012.9 750.2 C1015.9 751.8 1024.5 757.0 1030.8 759.6 C1037.0 762.2 1044.0 765.3 1050.6 765.8 C1057.2 766.3 1064.2 763.1 1070.4 762.6 C1076.6 762.2 1082.6 762.4 1087.7 763.1 C1092.9 763.7 1099.1 765.9 1101.3 766.5"/>
<path d="M1012.9 752.4 C1015.9 753.9 1024.5 759.0 1030.8 761.6 C1037.0 764.2 1044.0 767.3 1050.6 767.8 C1057.2 768.3 1064.2 765.2 1070.4 764.8 C1076.6 764.3 1082.6 764.4 1087.7 765.0 C1092.9 765.6 1099.1 767.8 1101.3 768.3"/>
<path d="M1012.9 754.7 C1015.9 756.2 1024.5 761.2 1030.8 763.8 C1037.0 766.3 1044.0 769.4 1050.6 770.0 C1057.2 770.5 1064.2 767.6 1070.4 767.1 C1076.6 766.6 1082.6 766.5 1087.7 767.0 C1092.9 767.6 1099.1 769.8 1101.3 770.3"/>
<path d="M1012.9 757.3 C1015.9 758.7 1024.5 763.6 1030.8 766.1 C1037.0 768.6 1044.0 771.7 1050.6 772.3 C1057.2 772.9 1064.2 770.1 1070.4 769.6 C1076.6 769.1 1082.6 768.8 1087.7 769.3 C1092.9 769.7 1099.1 771.9 1101.3 772.5"/>
<path d="M1012.9 759.9 C1015.9 761.4 1024.5 766.1 1030.8 768.6 C1037.0 771.0 1044.0 774.1 1050.6 774.8 C1057.2 775.4 1064.2 772.8 1070.4 772.3 C1076.6 771.8 1082.6 771.3 1087.7 771.7 C1092.9 772.1 1099.1 774.2 1101.3 774.7"/>
<path d="M1012.9 762.8 C1015.9 764.2 1024.5 768.8 1030.8 771.2 C1037.0 773.6 1044.0 776.7 1050.6 777.4 C1057.2 778.1 1064.2 775.7 1070.4 775.2 C1076.6 774.6 1082.6 773.8 1087.7 774.2 C1092.9 774.5 1099.1 776.6 1101.3 777.1"/>
<path d="M1012.9 765.8 C1015.9 767.1 1024.5 771.6 1030.8 774.0 C1037.0 776.4 1044.0 779.4 1050.6 780.1 C1057.2 780.8 1064.2 778.7 1070.4 778.2 C1076.6 777.6 1082.6 776.6 1087.7 776.8 C1092.9 777.1 1099.1 779.2 1101.3 779.7"/>
<path d="M1012.9 768.9 C1015.9 770.2 1024.5 774.5 1030.8 776.8 C1037.0 779.2 1044.0 782.3 1050.6 783.0 C1057.2 783.8 1064.2 781.9 1070.4 781.3 C1076.6 780.7 1082.6 779.4 1087.7 779.6 C1092.9 779.7 1099.1 781.9 1101.3 782.3"/>
<path d="M1012.9 772.2 C1015.9 773.4 1024.5 777.5 1030.8 779.9 C1037.0 782.2 1044.0 785.3 1050.6 786.0 C1057.2 786.8 1064.2 785.1 1070.4 784.5 C1076.6 783.9 1082.6 782.4 1087.7 782.5 C1092.9 782.5 1099.1 784.6 1101.3 785.1"/>
<path d="M1012.9 775.5 C1015.9 776.8 1024.5 780.7 1030.8 783.0 C1037.0 785.2 1044.0 788.3 1050.6 789.2 C1057.2 790.0 1064.2 788.5 1070.4 787.9 C1076.6 787.3 1082.6 785.5 1087.7 785.5 C1092.9 785.5 1099.1 787.5 1101.3 787.9"/>
<path d="M1101.3 760.7 C1103.6 760.9 1110.2 761.1 1115.0 761.9 C1119.7 762.8 1124.9 763.4 1129.8 765.6 C1134.8 767.9 1139.3 772.2 1144.7 775.5 C1150.0 778.8 1156.2 782.4 1162.0 785.5 C1167.8 788.5 1174.3 791.4 1179.4 794.1 C1184.4 796.8 1190.3 800.3 1192.5 801.6"/>
<path d="M1101.3 761.2 C1103.6 761.4 1110.2 761.6 1115.0 762.5 C1119.7 763.4 1124.9 764.1 1129.8 766.4 C1134.8 768.7 1139.3 773.2 1144.7 776.5 C1150.0 779.8 1156.2 783.4 1162.0 786.4 C1167.8 789.5 1174.3 792.2 1179.4 794.8 C1184.4 797.3 1190.3 800.6 1192.5 801.8"/>
<path d="M1101.3 762.2 C1103.6 762.4 1110.2 762.6 1115.0 763.5 C1119.7 764.5 1124.9 765.3 1129.8 767.8 C1134.8 770.2 1139.3 774.8 1144.7 778.2 C1150.0 781.6 1156.2 785.3 1162.0 788.2 C1167.8 791.2 1174.3 793.6 1179.4 795.9 C1184.4 798.3 1190.3 801.2 1192.5 802.2"/>
<path d="M1101.3 763.4 C1103.6 763.6 1110.2 763.8 1115.0 764.9 C1119.7 765.9 1124.9 767.0 1129.8 769.6 C1134.8 772.2 1139.3 777.0 1144.7 780.5 C1150.0 784.0 1156.2 787.7 1162.0 790.6 C1167.8 793.4 1174.3 795.4 1179.4 797.4 C1184.4 799.5 1190.3 801.9 1192.5 802.8"/>
<path d="M1101.3 764.8 C1103.6 765.1 1110.2 765.3 1115.0 766.5 C1119.7 767.6 1124.9 768.9 1129.8 771.7 C1134.8 774.5 1139.3 779.5 1144.7 783.1 C1150.0 786.7 1156.2 790.6 1162.0 793.3 C1167.8 796.0 1174.3 797.5 1179.4 799.2 C1184.4 800.9 1190.3 802.7 1192.5 803.4"/>
<path d="M1101.3 766.5 C1103.6 766.8 1110.2 767.0 1115.0 768.3 C1119.7 769.5 1124.9 771.1 1129.8 774.1 C1134.8 777.1 1139.3 782.4 1144.7 786.1 C1150.0 789.8 1156.2 793.9 1162.0 796.4 C1167.8 799.0 1174.3 800.0 1179.4 801.3 C1184.4 802.5 1190.3 803.7 1192.5 804.2"/>
<path d="M1101.3 768.3 C1103.6 768.7 1110.2 768.9 1115.0 770.3 C1119.7 771.7 1124.9 773.6 1129.8 776.8 C1134.8 780.0 1139.3 785.6 1144.7 789.4 C1150.0 793.3 1156.2 797.6 1162.0 799.9 C1167.8 802.2 1174.3 802.6 1179.4 803.5 C1184.4 804.4 1190.3 804.8 1192.5 805.0"/>
<path d="M1101.3 770.3 C1103.6 770.7 1110.2 770.9 1115.0 772.4 C1119.7 774.0 1124.9 776.2 1129.8 779.7 C1134.8 783.1 1139.3 789.1 1144.7 793.1 C1150.0 797.1 1156.2 801.5 1162.0 803.7 C1167.8 805.8 1174.3 805.6 1179.4 805.9 C1184.4 806.3 1190.3 805.9 1192.5 805.9"/>
<path d="M1101.3 772.5 C1103.6 772.8 1110.2 773.0 1115.0 774.8 C1119.7 776.5 1124.9 779.1 1129.8 782.8 C1134.8 786.5 1139.3 792.8 1144.7 796.9 C1150.0 801.1 1156.2 805.8 1162.0 807.7 C1167.8 809.6 1174.3 808.7 1179.4 808.6 C1184.4 808.4 1190.3 807.2 1192.5 806.9"/>
<path d="M1101.3 774.7 C1103.6 775.1 1110.2 775.4 1115.0 777.2 C1119.7 779.1 1124.9 782.1 1129.8 786.1 C1134.8 790.0 1139.3 796.8 1144.7 801.1 C1150.0 805.4 1156.2 810.3 1162.0 812.0 C1167.8 813.7 1174.3 812.0 1179.4 811.4 C1184.4 810.7 1190.3 808.5 1192.5 807.9"/>
<path d="M1101.3 777.1 C1103.6 777.6 1110.2 777.8 1115.0 779.9 C1119.7 781.9 1124.9 785.3 1129.8 789.6 C1134.8 793.8 1139.3 800.9 1144.7 805.4 C1150.0 809.9 1156.2 815.1 1162.0 816.5 C1167.8 818.0 1174.3 815.6 1179.4 814.3 C1184.4 813.0 1190.3 809.9 1192.5 809.0"/>
<path d="M1101.3 779.7 C1103.6 780.2 1110.2 780.4 1115.0 782.6 C1119.7 784.9 1124.9 788.7 1129.8 793.2 C1134.8 797.8 1139.3 805.4 1144.7 810.0 C1150.0 814.7 1156.2 820.1 1162.0 821.3 C1167.8 822.6 1174.3 819.3 1179.4 817.4 C1184.4 815.5 1190.3 811.4 1192.5 810.2"/>
<path d="M1101.3 782.3 C1103.6 782.8 1110.2 783.0 1115.0 785.5 C1119.7 788.0 1124.9 792.2 1129.8 797.1 C1134.8 802.0 1139.3 810.0 1144.7 814.9 C1150.0 819.7 1156.2 825.4 1162.0 826.3 C1167.8 827.3 1174.3 823.1 1179.4 820.7 C1184.4 818.2 1190.3 812.9 1192.5 811.4"/>
<path d="M1101.3 785.1 C1103.6 785.6 1110.2 785.8 1115.0 788.5 C1119.7 791.2 1124.9 795.9 1129.8 801.1 C1134.8 806.3 1139.3 814.8 1144.7 819.9 C1150.0 824.9 1156.2 830.8 1162.0 831.5 C1167.8 832.2 1174.3 827.2 1179.4 824.0 C1184.4 820.9 1190.3 814.5 1192.5 812.6"/>
<path d="M1101.3 787.9 C1103.6 788.5 1110.2 788.8 1115.0 791.6 C1119.7 794.5 1124.9 799.7 1129.8 805.3 C1134.8 810.8 1139.3 819.8 1144.7 825.1 C1150.0 830.4 1156.2 836.6 1162.0 837.0 C1167.8 837.4 1174.3 831.4 1179.4 827.6 C1184.4 823.7 1190.3 816.2 1192.5 813.9"/>
<path d="M1192.5 801.6 C1194.4 799.3 1199.7 793.9 1204.1 787.9 C1208.5 781.9 1214.0 770.8 1219.0 765.6 C1223.9 760.5 1228.1 758.2 1233.8 757.0 C1239.6 755.7 1247.9 757.6 1253.6 758.2 C1259.4 758.8 1263.9 760.1 1268.5 760.7 C1273.1 761.3 1279.2 761.7 1281.4 761.9"/>
<path d="M1192.5 802.6 C1194.4 800.5 1199.7 795.6 1204.1 789.8 C1208.5 784.1 1214.0 773.2 1219.0 768.1 C1223.9 763.0 1228.1 760.5 1233.8 759.2 C1239.6 757.8 1247.9 759.6 1253.6 760.1 C1259.4 760.7 1263.9 761.8 1268.5 762.4 C1273.1 763.0 1279.2 763.4 1281.4 763.5"/>
<path d="M1192.5 803.6 C1194.4 801.7 1199.7 797.2 1204.1 791.7 C1208.5 786.2 1214.0 775.7 1219.0 770.6 C1223.9 765.5 1228.1 762.8 1233.8 761.4 C1239.6 759.9 1247.9 761.6 1253.6 762.0 C1259.4 762.5 1263.9 763.6 1268.5 764.1 C1273.1 764.6 1279.2 765.0 1281.4 765.2"/>
<path d="M1192.5 804.7 C1194.4 802.9 1199.7 798.9 1204.1 793.6 C1208.5 788.4 1214.0 778.1 1219.0 773.1 C1223.9 768.1 1228.1 765.1 1233.8 763.5 C1239.6 762.0 1247.9 763.5 1253.6 763.9 C1259.4 764.3 1263.9 765.4 1268.5 765.8 C1273.1 766.3 1279.2 766.6 1281.4 766.8"/>
<path d="M1192.5 805.7 C1194.4 804.0 1199.7 800.6 1204.1 795.5 C1208.5 790.5 1214.0 780.5 1219.0 775.5 C1223.9 770.6 1228.1 767.4 1233.8 765.7 C1239.6 764.1 1247.9 765.5 1253.6 765.8 C1259.4 766.1 1263.9 767.1 1268.5 767.5 C1273.1 768.0 1279.2 768.3 1281.4 768.4"/>
<path d="M1192.5 806.8 C1194.4 805.2 1199.7 802.2 1204.1 797.5 C1208.5 792.7 1214.0 782.9 1219.0 778.0 C1223.9 773.1 1228.1 769.6 1233.8 767.9 C1239.6 766.2 1247.9 767.5 1253.6 767.7 C1259.4 768.0 1263.9 768.9 1268.5 769.3 C1273.1 769.6 1279.2 769.9 1281.4 770.0"/>
<path d="M1192.5 807.8 C1194.4 806.4 1199.7 803.9 1204.1 799.4 C1208.5 794.8 1214.0 785.4 1219.0 780.5 C1223.9 775.6 1228.1 771.9 1233.8 770.1 C1239.6 768.3 1247.9 769.5 1253.6 769.6 C1259.4 769.8 1263.9 770.6 1268.5 771.0 C1273.1 771.3 1279.2 771.5 1281.4 771.6"/>
<path d="M1192.5 808.9 C1194.4 807.6 1199.7 805.6 1204.1 801.3 C1208.5 796.9 1214.0 787.8 1219.0 783.0 C1223.9 778.2 1228.1 774.2 1233.8 772.3 C1239.6 770.4 1247.9 771.5 1253.6 771.5 C1259.4 771.6 1263.9 772.4 1268.5 772.7 C1273.1 773.0 1279.2 773.2 1281.4 773.3"/>
<path d="M1192.5 809.9 C1194.4 808.8 1199.7 807.2 1204.1 803.2 C1208.5 799.1 1214.0 790.2 1219.0 785.5 C1223.9 780.7 1228.1 776.5 1233.8 774.5 C1239.6 772.5 1247.9 773.5 1253.6 773.5 C1259.4 773.4 1263.9 774.2 1268.5 774.4 C1273.1 774.6 1279.2 774.8 1281.4 774.9"/>
<path d="M1192.5 811.0 C1194.4 810.0 1199.7 808.9 1204.1 805.1 C1208.5 801.2 1214.0 792.7 1219.0 787.9 C1223.9 783.2 1228.1 778.8 1233.8 776.7 C1239.6 774.6 1247.9 775.5 1253.6 775.4 C1259.4 775.3 1263.9 775.9 1268.5 776.1 C1273.1 776.3 1279.2 776.4 1281.4 776.5"/>
<path d="M1192.5 812.0 C1194.4 811.2 1199.7 810.6 1204.1 807.0 C1208.5 803.4 1214.0 795.1 1219.0 790.4 C1223.9 785.7 1228.1 781.1 1233.8 778.9 C1239.6 776.7 1247.9 777.4 1253.6 777.3 C1259.4 777.1 1263.9 777.7 1268.5 777.8 C1273.1 778.0 1279.2 778.1 1281.4 778.1"/>
<path d="M1192.5 813.1 C1194.4 812.4 1199.7 812.2 1204.1 808.9 C1208.5 805.5 1214.0 797.5 1219.0 792.9 C1223.9 788.2 1228.1 783.4 1233.8 781.1 C1239.6 778.8 1247.9 779.4 1253.6 779.2 C1259.4 778.9 1263.9 779.5 1268.5 779.5 C1273.1 779.6 1279.2 779.7 1281.4 779.7"/>
<path d="M1192.5 814.1 C1194.4 813.6 1199.7 813.9 1204.1 810.8 C1208.5 807.7 1214.0 799.9 1219.0 795.4 C1223.9 790.8 1228.1 785.6 1233.8 783.3 C1239.6 780.9 1247.9 781.4 1253.6 781.1 C1259.4 780.7 1263.9 781.2 1268.5 781.3 C1273.1 781.3 1279.2 781.3 1281.4 781.4"/>
<path d="M1192.5 815.2 C1194.4 814.8 1199.7 815.6 1204.1 812.7 C1208.5 809.8 1214.0 802.4 1219.0 797.8 C1223.9 793.3 1228.1 787.9 1233.8 785.5 C1239.6 783.0 1247.9 783.4 1253.6 783.0 C1259.4 782.6 1263.9 783.0 1268.5 783.0 C1273.1 783.0 1279.2 783.0 1281.4 783.0"/>
<path d="M1281.4 761.9 C1283.8 759.7 1290.9 752.4 1295.7 748.3 C1300.6 744.2 1305.2 740.1 1310.6 737.2 C1316.0 734.3 1321.8 732.8 1327.9 731.0 C1334.1 729.1 1340.4 727.5 1347.8 726.0 C1355.1 724.6 1368.0 722.9 1372.0 722.3"/>
<path d="M1281.4 762.2 C1283.8 760.0 1290.9 752.9 1295.7 748.9 C1300.6 744.8 1305.2 740.8 1310.6 737.9 C1316.0 735.1 1321.8 733.6 1327.9 731.8 C1334.1 730.0 1340.4 728.3 1347.8 726.9 C1355.1 725.4 1368.0 723.8 1372.0 723.1"/>
<path d="M1281.4 762.8 C1283.8 760.6 1290.9 753.8 1295.7 749.9 C1300.6 746.0 1305.2 742.1 1310.6 739.3 C1316.0 736.5 1321.8 735.1 1327.9 733.3 C1334.1 731.5 1340.4 729.9 1347.8 728.4 C1355.1 727.0 1368.0 725.3 1372.0 724.7"/>
<path d="M1281.4 763.5 C1283.8 761.4 1290.9 755.0 1295.7 751.2 C1300.6 747.5 1305.2 743.8 1310.6 741.1 C1316.0 738.4 1321.8 737.1 1327.9 735.3 C1334.1 733.5 1340.4 731.9 1347.8 730.4 C1355.1 729.0 1368.0 727.3 1372.0 726.6"/>
<path d="M1281.4 764.3 C1283.8 762.4 1290.9 756.3 1295.7 752.8 C1300.6 749.3 1305.2 745.8 1310.6 743.2 C1316.0 740.7 1321.8 739.4 1327.9 737.6 C1334.1 735.9 1340.4 734.2 1347.8 732.8 C1355.1 731.4 1368.0 729.6 1372.0 728.9"/>
<path d="M1281.4 765.3 C1283.8 763.5 1290.9 757.9 1295.7 754.6 C1300.6 751.4 1305.2 748.1 1310.6 745.7 C1316.0 743.3 1321.8 741.9 1327.9 740.3 C1334.1 738.6 1340.4 736.9 1347.8 735.5 C1355.1 734.1 1368.0 732.2 1372.0 731.6"/>
<path d="M1281.4 766.3 C1283.8 764.7 1290.9 759.6 1295.7 756.6 C1300.6 753.6 1305.2 750.6 1310.6 748.3 C1316.0 746.1 1321.8 744.8 1327.9 743.2 C1334.1 741.5 1340.4 739.9 1347.8 738.5 C1355.1 737.0 1368.0 735.2 1372.0 734.5"/>
<path d="M1281.4 767.5 C1283.8 766.0 1290.9 761.5 1295.7 758.8 C1300.6 756.1 1305.2 753.3 1310.6 751.2 C1316.0 749.2 1321.8 747.9 1327.9 746.3 C1334.1 744.8 1340.4 743.2 1347.8 741.7 C1355.1 740.3 1368.0 738.4 1372.0 737.7"/>
<path d="M1281.4 768.7 C1283.8 767.5 1290.9 763.5 1295.7 761.1 C1300.6 758.7 1305.2 756.2 1310.6 754.4 C1316.0 752.5 1321.8 751.3 1327.9 749.8 C1334.1 748.2 1340.4 746.6 1347.8 745.2 C1355.1 743.8 1368.0 741.8 1372.0 741.1"/>
<path d="M1281.4 770.0 C1283.8 769.0 1290.9 765.6 1295.7 763.6 C1300.6 761.5 1305.2 759.4 1310.6 757.7 C1316.0 756.0 1321.8 754.8 1327.9 753.4 C1334.1 751.9 1340.4 750.4 1347.8 748.9 C1355.1 747.5 1368.0 745.4 1372.0 744.7"/>
<path d="M1281.4 771.4 C1283.8 770.6 1290.9 767.9 1295.7 766.2 C1300.6 764.5 1305.2 762.7 1310.6 761.2 C1316.0 759.7 1321.8 758.6 1327.9 757.2 C1334.1 755.8 1340.4 754.3 1347.8 752.8 C1355.1 751.4 1368.0 749.3 1372.0 748.6"/>
<path d="M1281.4 772.9 C1283.8 772.2 1290.9 770.3 1295.7 768.9 C1300.6 767.6 1305.2 766.2 1310.6 764.9 C1316.0 763.6 1321.8 762.6 1327.9 761.3 C1334.1 759.9 1340.4 758.4 1347.8 757.0 C1355.1 755.5 1368.0 753.3 1372.0 752.6"/>
<path d="M1281.4 774.4 C1283.8 774.0 1290.9 772.8 1295.7 771.8 C1300.6 770.9 1305.2 769.8 1310.6 768.7 C1316.0 767.7 1321.8 766.7 1327.9 765.5 C1334.1 764.2 1340.4 762.7 1347.8 761.3 C1355.1 759.8 1368.0 757.6 1372.0 756.8"/>
<path d="M1281.4 776.0 C1283.8 775.8 1290.9 775.3 1295.7 774.8 C1300.6 774.3 1305.2 773.6 1310.6 772.8 C1316.0 771.9 1321.8 771.1 1327.9 769.9 C1334.1 768.7 1340.4 767.2 1347.8 765.8 C1355.1 764.3 1368.0 762.0 1372.0 761.2"/>
<path d="M1281.4 777.7 C1283.8 777.7 1290.9 778.0 1295.7 777.9 C1300.6 777.8 1305.2 777.5 1310.6 777.0 C1316.0 776.4 1321.8 775.6 1327.9 774.5 C1334.1 773.4 1340.4 771.9 1347.8 770.4 C1355.1 769.0 1368.0 766.6 1372.0 765.8"/>
<path d="M1281.4 779.4 C1283.8 779.7 1290.9 780.8 1295.7 781.1 C1300.6 781.5 1305.2 781.6 1310.6 781.3 C1316.0 781.0 1321.8 780.2 1327.9 779.2 C1334.1 778.2 1340.4 776.7 1347.8 775.3 C1355.1 773.8 1368.0 771.3 1372.0 770.5"/>
<path d="M1281.4 781.1 C1283.8 781.7 1290.9 783.7 1295.7 784.5 C1300.6 785.3 1305.2 785.8 1310.6 785.8 C1316.0 785.7 1321.8 785.0 1327.9 784.1 C1334.1 783.2 1340.4 781.7 1347.8 780.3 C1355.1 778.8 1368.0 776.2 1372.0 775.4"/>
<path d="M1281.4 783.0 C1283.8 783.8 1290.9 786.7 1295.7 787.9 C1300.6 789.2 1305.2 790.2 1310.6 790.4 C1316.0 790.6 1321.8 790.0 1327.9 789.2 C1334.1 788.3 1340.4 786.9 1347.8 785.5 C1355.1 784.0 1368.0 781.3 1372.0 780.5"/>
<path d="M1011.0 896.2 C1014.9 896.6 1026.3 897.2 1034.7 898.7 C1043.1 900.2 1054.8 902.7 1061.5 905.4 C1068.2 908.0 1070.4 910.5 1074.8 914.8 C1079.3 919.0 1084.9 927.1 1088.2 930.9 C1091.6 934.7 1092.7 936.2 1094.9 937.6 C1097.1 938.9 1100.5 938.6 1101.6 938.8"/>
<path d="M1011.0 907.1 C1014.9 907.5 1026.5 908.2 1034.7 909.5 C1043.0 910.7 1054.0 912.7 1060.5 914.7 C1067.0 916.6 1069.4 918.1 1073.9 921.4 C1078.3 924.6 1083.8 931.0 1087.3 934.1 C1090.7 937.2 1092.3 938.7 1094.7 939.8 C1097.1 941.0 1100.4 940.9 1101.6 941.1"/>
<path d="M1011.0 918.0 C1014.9 918.4 1026.6 919.3 1034.7 920.3 C1042.8 921.3 1053.2 922.7 1059.6 924.0 C1065.9 925.3 1068.5 925.7 1072.9 927.9 C1077.4 930.2 1082.7 935.0 1086.3 937.3 C1089.9 939.7 1092.0 941.1 1094.6 942.1 C1097.1 943.1 1100.4 943.2 1101.6 943.4"/>
<path d="M1011.0 928.9 C1014.9 929.3 1026.8 930.3 1034.7 931.0 C1042.7 931.8 1052.4 932.7 1058.6 933.3 C1064.8 933.9 1067.5 933.3 1072.0 934.5 C1076.4 935.7 1081.6 938.9 1085.4 940.5 C1089.1 942.2 1091.7 943.5 1094.4 944.4 C1097.1 945.2 1100.4 945.5 1101.6 945.7"/>
<path d="M1011.0 939.8 C1014.9 940.1 1026.9 941.4 1034.7 941.8 C1042.5 942.3 1051.6 942.7 1057.7 942.6 C1063.7 942.5 1066.6 940.9 1071.0 941.1 C1075.5 941.3 1080.5 942.8 1084.4 943.7 C1088.3 944.7 1091.3 945.9 1094.2 946.6 C1097.1 947.3 1100.4 947.8 1101.6 948.0"/>
<path d="M1011.0 950.7 C1014.9 951.0 1027.1 952.4 1034.7 952.6 C1042.4 952.8 1050.8 952.7 1056.7 951.9 C1062.6 951.1 1065.6 948.5 1070.1 947.7 C1074.5 946.9 1079.5 946.8 1083.4 947.0 C1087.4 947.2 1091.0 948.3 1094.0 948.9 C1097.0 949.4 1100.3 950.1 1101.6 950.3"/>
<path d="M1011.0 961.6 C1014.9 961.9 1027.3 963.5 1034.7 963.4 C1042.2 963.4 1050.0 962.7 1055.7 961.2 C1061.5 959.7 1064.7 956.1 1069.1 954.3 C1073.6 952.4 1078.4 950.7 1082.5 950.2 C1086.6 949.7 1090.7 950.7 1093.8 951.1 C1097.0 951.5 1100.3 952.4 1101.6 952.6"/>
<path d="M1011.0 972.5 C1014.9 972.8 1027.4 974.5 1034.7 974.2 C1042.0 973.9 1049.2 972.7 1054.8 970.5 C1060.4 968.3 1063.7 963.7 1068.2 960.8 C1072.6 958.0 1077.3 954.6 1081.5 953.4 C1085.8 952.2 1090.3 953.2 1093.7 953.4 C1097.0 953.7 1100.3 954.6 1101.6 954.9"/>
<path d="M1056.0 1015.3 C1056.9 1013.6 1058.8 1009.0 1061.2 1004.9 C1063.7 1000.9 1067.7 995.3 1070.6 991.1 C1073.5 986.8 1075.9 983.2 1078.6 979.2 C1081.2 975.2 1084.1 970.2 1086.7 967.0 C1089.4 963.9 1091.9 962.2 1094.7 960.3 C1097.4 958.5 1101.7 956.6 1103.1 955.9"/>
<path d="M1058.8 1015.3 C1059.7 1013.6 1061.6 1009.0 1064.0 1004.9 C1066.4 1000.9 1070.5 995.3 1073.4 991.1 C1076.3 986.8 1078.7 983.2 1081.3 979.2 C1084.0 975.2 1086.8 970.2 1089.5 967.0 C1092.2 963.9 1094.7 962.2 1097.4 960.3 C1100.2 958.5 1104.4 956.6 1105.9 955.9"/>
<path d="M1061.6 1015.3 C1062.4 1013.6 1064.3 1009.0 1066.8 1004.9 C1069.2 1000.9 1073.3 995.3 1076.2 991.1 C1079.1 986.8 1081.4 983.2 1084.1 979.2 C1086.8 975.2 1089.6 970.2 1092.3 967.0 C1095.0 963.9 1097.5 962.2 1100.2 960.3 C1102.9 958.5 1107.2 956.6 1108.6 955.9"/>
<path d="M1064.3 1015.3 C1065.2 1013.6 1067.1 1009.0 1069.5 1004.9 C1072.0 1000.9 1076.1 995.3 1079.0 991.1 C1081.8 986.8 1084.2 983.2 1086.9 979.2 C1089.6 975.2 1092.4 970.2 1095.1 967.0 C1097.7 963.9 1100.3 962.2 1103.0 960.3 C1105.7 958.5 1110.0 956.6 1111.4 955.9"/>
<path d="M1067.1 1015.3 C1068.0 1013.6 1069.9 1009.0 1072.3 1004.9 C1074.8 1000.9 1078.8 995.3 1081.7 991.1 C1084.6 986.8 1087.0 983.2 1089.7 979.2 C1092.3 975.2 1095.1 970.2 1097.8 967.0 C1100.5 963.9 1103.0 962.2 1105.8 960.3 C1108.5 958.5 1112.8 956.6 1114.2 955.9"/>
<path d="M1069.9 1015.3 C1070.8 1013.6 1072.7 1009.0 1075.1 1004.9 C1077.5 1000.9 1081.6 995.3 1084.5 991.1 C1087.4 986.8 1089.7 983.2 1092.4 979.2 C1095.1 975.2 1097.9 970.2 1100.6 967.0 C1103.3 963.9 1105.8 962.2 1108.5 960.3 C1111.3 958.5 1115.5 956.6 1116.9 955.9"/>
<path d="M1012.9 983.1 C1015.9 983.1 1023.7 984.0 1030.8 983.1 C1037.9 982.3 1048.1 981.1 1055.5 978.2 C1063.0 975.3 1070.0 969.9 1075.3 965.8 C1080.7 961.7 1083.4 955.1 1087.7 953.4 C1092.1 951.8 1099.1 955.5 1101.3 955.9"/>
<path d="M1012.9 986.2 C1015.9 986.3 1023.7 987.1 1030.8 986.5 C1037.9 985.8 1048.1 985.1 1055.5 982.4 C1063.0 979.7 1070.0 974.6 1075.3 970.4 C1080.7 966.2 1083.4 959.3 1087.7 957.3 C1092.1 955.3 1099.1 958.2 1101.3 958.4"/>
<path d="M1012.9 989.4 C1015.9 989.4 1023.7 990.3 1030.8 989.8 C1037.9 989.4 1048.1 989.1 1055.5 986.7 C1063.0 984.2 1070.0 979.2 1075.3 975.0 C1080.7 970.7 1083.4 963.5 1087.7 961.2 C1092.1 958.8 1099.1 960.9 1101.3 960.8"/>
<path d="M1012.9 992.5 C1015.9 992.6 1023.7 993.5 1030.8 993.2 C1037.9 992.9 1048.1 993.2 1055.5 990.9 C1063.0 988.6 1070.0 983.9 1075.3 979.6 C1080.7 975.3 1083.4 967.8 1087.7 965.1 C1092.1 962.4 1099.1 963.6 1101.3 963.3"/>
<path d="M1012.9 995.6 C1015.9 995.7 1023.7 996.6 1030.8 996.6 C1037.9 996.5 1048.1 997.2 1055.5 995.2 C1063.0 993.1 1070.0 988.5 1075.3 984.2 C1080.7 979.8 1083.4 972.0 1087.7 969.0 C1092.1 965.9 1099.1 966.3 1101.3 965.8"/>
<path d="M1012.9 998.7 C1015.9 998.9 1023.7 999.8 1030.8 999.9 C1037.9 1000.0 1048.1 1001.3 1055.5 999.4 C1063.0 997.5 1070.0 993.2 1075.3 988.8 C1080.7 984.4 1083.4 976.3 1087.7 972.9 C1092.1 969.4 1099.1 969.0 1101.3 968.3"/>
<path d="M1012.9 1001.8 C1015.9 1002.1 1023.7 1003.0 1030.8 1003.3 C1037.9 1003.6 1048.1 1005.3 1055.5 1003.6 C1063.0 1002.0 1070.0 997.9 1075.3 993.4 C1080.7 988.9 1083.4 980.5 1087.7 976.8 C1092.1 973.0 1099.1 971.7 1101.3 970.7"/>
<path d="M1012.9 1004.9 C1015.9 1005.2 1023.7 1006.2 1030.8 1006.7 C1037.9 1007.1 1048.1 1009.3 1055.5 1007.9 C1063.0 1006.4 1070.0 1002.5 1075.3 998.0 C1080.7 993.4 1083.4 984.8 1087.7 980.6 C1092.1 976.5 1099.1 974.5 1101.3 973.2"/>
<path d="M1101.6 937.6 C1103.9 938.5 1110.7 940.1 1115.2 943.0 C1119.7 945.9 1124.1 950.9 1128.6 954.9 C1133.0 958.9 1138.4 964.1 1142.0 967.0 C1145.5 970.0 1145.4 971.8 1149.9 972.5 C1154.3 973.1 1161.6 970.9 1168.7 971.0 C1175.8 971.1 1188.7 972.8 1192.7 973.2"/>
<path d="M1101.6 941.5 C1103.9 942.4 1110.7 944.1 1115.2 947.0 C1119.7 949.9 1124.2 954.8 1128.6 958.7 C1133.0 962.6 1137.9 967.4 1141.4 970.2 C1144.9 973.0 1145.3 974.8 1149.9 975.4 C1154.4 976.1 1161.6 974.0 1168.7 974.1 C1175.8 974.2 1188.7 975.7 1192.7 976.0"/>
<path d="M1101.6 945.4 C1103.9 946.3 1110.7 948.2 1115.2 951.0 C1119.7 953.9 1124.3 958.8 1128.6 962.5 C1132.9 966.2 1137.3 970.8 1140.8 973.4 C1144.4 976.1 1145.2 977.8 1149.8 978.4 C1154.5 979.0 1161.6 977.1 1168.7 977.1 C1175.9 977.2 1188.7 978.5 1192.7 978.8"/>
<path d="M1101.6 949.3 C1103.9 950.2 1110.7 952.2 1115.2 955.0 C1119.7 957.9 1124.4 962.7 1128.6 966.3 C1132.8 969.9 1136.7 974.1 1140.3 976.6 C1143.8 979.1 1145.1 980.7 1149.8 981.3 C1154.6 981.9 1161.6 980.2 1168.7 980.2 C1175.9 980.3 1188.7 981.4 1192.7 981.6"/>
<path d="M1101.6 953.2 C1103.9 954.1 1110.7 956.2 1115.2 959.0 C1119.7 961.8 1124.5 966.6 1128.6 970.1 C1132.7 973.5 1136.2 977.5 1139.7 979.8 C1143.3 982.2 1145.0 983.7 1149.8 984.3 C1154.6 984.9 1161.6 983.3 1168.7 983.3 C1175.9 983.3 1188.7 984.2 1192.7 984.4"/>
<path d="M1101.6 957.1 C1103.9 958.1 1110.7 960.2 1115.2 963.0 C1119.7 965.8 1124.6 970.5 1128.6 973.9 C1132.6 977.2 1135.6 980.8 1139.2 983.0 C1142.7 985.2 1144.9 986.7 1149.8 987.2 C1154.7 987.8 1161.5 986.4 1168.7 986.4 C1175.9 986.4 1188.7 987.0 1192.7 987.1"/>
<path d="M1101.6 961.0 C1103.9 962.0 1110.7 964.2 1115.2 967.0 C1119.7 969.8 1124.7 974.5 1128.6 977.7 C1132.5 980.9 1135.1 984.1 1138.6 986.2 C1142.1 988.3 1144.7 989.6 1149.8 990.2 C1154.8 990.7 1161.5 989.5 1168.7 989.4 C1175.9 989.4 1188.7 989.9 1192.7 989.9"/>
<path d="M1101.6 964.9 C1103.9 965.9 1110.7 968.3 1115.2 971.0 C1119.7 973.8 1124.8 978.4 1128.6 981.5 C1132.4 984.5 1134.5 987.5 1138.1 989.4 C1141.6 991.4 1144.6 992.6 1149.7 993.1 C1154.8 993.7 1161.5 992.6 1168.7 992.5 C1175.9 992.4 1188.7 992.7 1192.7 992.7"/>
<path d="M1101.6 968.8 C1103.9 969.8 1110.7 972.3 1115.2 975.0 C1119.7 977.8 1124.9 982.3 1128.6 985.3 C1132.3 988.2 1134.0 990.8 1137.5 992.6 C1141.0 994.4 1144.5 995.6 1149.7 996.1 C1154.9 996.6 1161.5 995.7 1168.7 995.6 C1175.9 995.5 1188.7 995.5 1192.7 995.5"/>
<path d="M1101.6 972.7 C1103.9 973.7 1110.7 976.3 1115.2 979.0 C1119.7 981.8 1125.0 986.3 1128.6 989.1 C1132.2 991.9 1133.4 994.2 1136.9 995.8 C1140.5 997.5 1144.4 998.6 1149.7 999.0 C1155.0 999.5 1161.5 998.8 1168.7 998.7 C1175.9 998.5 1188.7 998.4 1192.7 998.3"/>
<path d="M1101.6 976.6 C1103.9 977.6 1110.7 980.3 1115.2 983.0 C1119.7 985.8 1125.1 990.2 1128.6 992.9 C1132.1 995.5 1132.9 997.5 1136.4 999.0 C1139.9 1000.5 1144.3 1001.5 1149.7 1002.0 C1155.1 1002.4 1161.5 1001.9 1168.7 1001.7 C1175.9 1001.6 1188.7 1001.2 1192.7 1001.1"/>
<path d="M1101.6 980.5 C1103.9 981.6 1110.7 984.3 1115.2 987.0 C1119.7 989.7 1125.1 994.1 1128.6 996.7 C1132.0 999.2 1132.3 1000.8 1135.8 1002.2 C1139.3 1003.6 1144.2 1004.5 1149.7 1004.9 C1155.1 1005.4 1161.5 1005.0 1168.7 1004.8 C1175.9 1004.6 1188.7 1004.0 1192.7 1003.9"/>
<path d="M1101.6 984.4 C1103.9 985.5 1110.7 988.4 1115.2 991.1 C1119.7 993.7 1125.2 998.1 1128.6 1000.5 C1131.9 1002.9 1131.8 1004.2 1135.3 1005.4 C1138.8 1006.7 1144.1 1007.5 1149.6 1007.9 C1155.2 1008.3 1161.5 1008.1 1168.7 1007.9 C1175.9 1007.7 1188.7 1006.9 1192.7 1006.7"/>
<path d="M1192.5 973.2 C1196.5 970.7 1208.4 962.9 1216.5 958.4 C1224.6 953.8 1233.0 948.7 1241.3 946.0 C1249.5 943.3 1259.3 942.7 1266.0 942.3 C1272.7 941.9 1278.8 943.3 1281.4 943.5"/>
<path d="M1192.5 975.9 C1196.5 973.5 1208.4 966.1 1216.5 961.5 C1224.6 957.0 1233.0 951.5 1241.3 948.7 C1249.5 945.8 1259.3 944.9 1266.0 944.4 C1272.7 943.9 1278.8 945.3 1281.4 945.5"/>
<path d="M1192.5 978.6 C1196.5 976.3 1208.4 969.2 1216.5 964.7 C1224.6 960.1 1233.0 954.4 1241.3 951.4 C1249.5 948.4 1259.3 947.2 1266.0 946.5 C1272.7 945.9 1278.8 947.4 1281.4 947.6"/>
<path d="M1192.5 981.3 C1196.5 979.1 1208.4 972.4 1216.5 967.8 C1224.6 963.3 1233.0 957.3 1241.3 954.1 C1249.5 950.9 1259.3 949.4 1266.0 948.7 C1272.7 947.9 1278.8 949.4 1281.4 949.6"/>
<path d="M1192.5 984.0 C1196.5 981.8 1208.4 975.5 1216.5 971.0 C1224.6 966.4 1233.0 960.1 1241.3 956.8 C1249.5 953.4 1259.3 951.7 1266.0 950.8 C1272.7 950.0 1278.8 951.5 1281.4 951.6"/>
<path d="M1192.5 986.7 C1196.5 984.6 1208.4 978.7 1216.5 974.1 C1224.6 969.6 1233.0 963.0 1241.3 959.5 C1249.5 956.0 1259.3 953.9 1266.0 953.0 C1272.7 952.0 1278.8 953.5 1281.4 953.6"/>
<path d="M1192.5 989.4 C1196.5 987.4 1208.4 981.8 1216.5 977.3 C1224.6 972.7 1233.0 965.9 1241.3 962.2 C1249.5 958.5 1259.3 956.2 1266.0 955.1 C1272.7 954.0 1278.8 955.6 1281.4 955.7"/>
<path d="M1192.5 992.1 C1196.5 990.2 1208.4 985.0 1216.5 980.4 C1224.6 975.9 1233.0 968.8 1241.3 964.9 C1249.5 961.0 1259.3 958.4 1266.0 957.2 C1272.7 956.0 1278.8 957.6 1281.4 957.7"/>
<path d="M1192.5 994.8 C1196.5 993.0 1208.4 988.1 1216.5 983.6 C1224.6 979.0 1233.0 971.6 1241.3 967.6 C1249.5 963.6 1259.3 960.7 1266.0 959.4 C1272.7 958.1 1278.8 959.7 1281.4 959.7"/>
<path d="M1192.5 997.5 C1196.5 995.7 1208.4 991.3 1216.5 986.7 C1224.6 982.2 1233.0 974.5 1241.3 970.3 C1249.5 966.1 1259.3 962.9 1266.0 961.5 C1272.7 960.1 1278.8 961.7 1281.4 961.7"/>
<path d="M1192.5 1000.2 C1196.5 998.5 1208.4 994.4 1216.5 989.9 C1224.6 985.3 1233.0 977.4 1241.3 973.0 C1249.5 968.6 1259.3 965.2 1266.0 963.7 C1272.7 962.1 1278.8 963.7 1281.4 963.8"/>
<path d="M1192.5 1002.9 C1196.5 1001.3 1208.4 997.6 1216.5 993.0 C1224.6 988.5 1233.0 980.2 1241.3 975.7 C1249.5 971.2 1259.3 967.4 1266.0 965.8 C1272.7 964.1 1278.8 965.8 1281.4 965.8"/>
<path d="M1281.4 943.0 C1283.4 939.8 1289.2 929.8 1293.3 923.7 C1297.3 917.6 1301.5 910.6 1305.7 906.4 C1309.8 902.1 1313.1 900.1 1318.0 898.4 C1323.0 896.8 1329.6 896.8 1335.4 896.4 C1341.1 896.1 1346.6 896.3 1352.7 896.2 C1358.8 896.1 1368.8 896.0 1372.0 896.0"/>
<path d="M1281.4 945.5 C1283.4 942.8 1289.2 934.4 1293.3 929.2 C1297.3 924.0 1301.5 917.9 1305.7 914.3 C1309.8 910.7 1313.1 909.0 1318.0 907.6 C1323.0 906.2 1329.6 906.2 1335.4 905.9 C1341.1 905.6 1346.6 905.8 1352.7 905.7 C1358.8 905.6 1368.8 905.5 1372.0 905.5"/>
<path d="M1281.4 948.1 C1283.4 945.8 1289.2 939.0 1293.3 934.7 C1297.3 930.4 1301.5 925.3 1305.7 922.3 C1309.8 919.3 1313.1 917.8 1318.0 916.7 C1323.0 915.6 1329.6 915.7 1335.4 915.4 C1341.1 915.2 1346.6 915.3 1352.7 915.2 C1358.8 915.2 1368.8 915.0 1372.0 915.0"/>
<path d="M1281.4 950.6 C1283.4 948.9 1289.2 943.6 1293.3 940.2 C1297.3 936.8 1301.5 932.7 1305.7 930.3 C1309.8 927.9 1313.1 926.7 1318.0 925.8 C1323.0 924.9 1329.6 925.1 1335.4 924.9 C1341.1 924.7 1346.6 924.8 1352.7 924.8 C1358.8 924.7 1368.8 924.6 1372.0 924.5"/>
<path d="M1281.4 953.1 C1283.4 951.9 1289.2 948.2 1293.3 945.7 C1297.3 943.2 1301.5 940.1 1305.7 938.3 C1309.8 936.5 1313.1 935.6 1318.0 935.0 C1323.0 934.3 1329.6 934.5 1335.4 934.4 C1341.1 934.3 1346.6 934.3 1352.7 934.3 C1358.8 934.2 1368.8 934.1 1372.0 934.0"/>
<path d="M1281.4 955.7 C1283.4 954.9 1289.2 952.8 1293.3 951.2 C1297.3 949.6 1301.5 947.4 1305.7 946.3 C1309.8 945.1 1313.1 944.5 1318.0 944.1 C1323.0 943.7 1329.6 944.0 1335.4 943.9 C1341.1 943.9 1346.6 943.9 1352.7 943.8 C1358.8 943.7 1368.8 943.6 1372.0 943.6"/>
<path d="M1281.4 958.2 C1283.4 957.9 1289.2 957.4 1293.3 956.7 C1297.3 956.0 1301.5 954.8 1305.7 954.2 C1309.8 953.7 1313.1 953.4 1318.0 953.2 C1323.0 953.1 1329.6 953.4 1335.4 953.4 C1341.1 953.4 1346.6 953.4 1352.7 953.3 C1358.8 953.3 1368.8 953.1 1372.0 953.1"/>
<path d="M1281.4 960.7 C1283.4 961.0 1289.2 962.0 1293.3 962.2 C1297.3 962.5 1301.5 962.2 1305.7 962.2 C1309.8 962.2 1313.1 962.3 1318.0 962.4 C1323.0 962.5 1329.6 962.8 1335.4 962.9 C1341.1 963.0 1346.6 962.9 1352.7 962.8 C1358.8 962.8 1368.8 962.6 1372.0 962.6"/>
<path d="M1281.4 963.3 C1283.4 964.0 1289.2 966.6 1293.3 967.7 C1297.3 968.9 1301.5 969.6 1305.7 970.2 C1309.8 970.8 1313.1 971.1 1318.0 971.5 C1323.0 971.9 1329.6 972.3 1335.4 972.4 C1341.1 972.5 1346.6 972.4 1352.7 972.4 C1358.8 972.3 1368.8 972.2 1372.0 972.1"/>
<path d="M1281.4 965.8 C1283.4 967.0 1289.2 971.2 1293.3 973.2 C1297.3 975.3 1301.5 976.9 1305.7 978.2 C1309.8 979.4 1313.1 980.0 1318.0 980.6 C1323.0 981.3 1329.6 981.7 1335.4 981.9 C1341.1 982.1 1346.6 981.9 1352.7 981.9 C1358.8 981.8 1368.8 981.7 1372.0 981.6"/>
<path d="M1281.4 967.0 C1283.4 969.3 1288.8 976.7 1293.3 980.6 C1297.7 984.6 1302.4 988.1 1308.1 990.6 C1313.9 993.0 1320.5 994.9 1327.9 995.5 C1335.4 996.1 1345.4 995.1 1352.7 994.3 C1360.1 993.4 1368.8 991.2 1372.0 990.6"/>
<path d="M1281.4 967.4 C1283.3 969.8 1288.7 977.6 1292.9 981.7 C1297.1 985.9 1301.4 989.6 1306.7 992.3 C1312.0 995.0 1318.0 997.1 1324.8 998.0 C1331.5 998.9 1340.2 998.2 1347.0 997.6 C1353.9 997.0 1362.6 995.0 1365.7 994.4"/>
<path d="M1281.4 967.7 C1283.2 970.2 1288.6 978.4 1292.6 982.8 C1296.5 987.2 1300.5 991.1 1305.3 994.1 C1310.1 997.0 1315.6 999.3 1321.6 1000.5 C1327.6 1001.6 1335.1 1001.3 1341.4 1001.0 C1347.7 1000.6 1356.4 998.8 1359.4 998.3"/>
<path d="M1281.4 968.1 C1283.2 970.7 1288.5 979.2 1292.2 983.8 C1296.0 988.5 1299.5 992.7 1303.9 995.9 C1308.2 999.0 1313.1 1001.5 1318.4 1002.9 C1323.7 1004.4 1329.9 1004.5 1335.7 1004.4 C1341.5 1004.2 1350.2 1002.6 1353.1 1002.2"/>
<path d="M1281.4 968.4 C1283.1 971.2 1288.3 980.0 1291.9 984.9 C1295.4 989.8 1298.6 994.2 1302.5 997.6 C1306.4 1001.1 1310.6 1003.7 1315.2 1005.4 C1319.8 1007.1 1324.8 1007.6 1330.1 1007.7 C1335.3 1007.8 1344.0 1006.4 1346.8 1006.1"/>
<path d="M1281.4 968.8 C1283.1 971.7 1288.2 980.9 1291.5 986.0 C1294.8 991.1 1297.6 995.7 1301.1 999.4 C1304.5 1003.1 1308.1 1005.9 1312.0 1007.9 C1315.9 1009.8 1319.7 1010.7 1324.4 1011.1 C1329.2 1011.4 1337.8 1010.2 1340.5 1010.0"/>
<path d="M1281.4 969.2 C1283.0 972.1 1288.1 981.7 1291.1 987.0 C1294.2 992.4 1296.7 997.3 1299.6 1001.2 C1302.6 1005.1 1305.7 1008.2 1308.8 1010.4 C1312.0 1012.6 1314.5 1013.8 1318.7 1014.4 C1323.0 1015.0 1331.7 1014.0 1334.2 1013.9"/>
<path d="M1281.4 969.5 C1283.0 972.6 1288.0 982.5 1290.8 988.1 C1293.6 993.7 1295.7 998.8 1298.2 1002.9 C1300.7 1007.1 1303.2 1010.4 1305.7 1012.8 C1308.1 1015.3 1309.4 1017.0 1313.1 1017.8 C1316.8 1018.6 1325.5 1017.8 1327.9 1017.8"/>
</g>
<rect x="1012.6" y="574.4" width="360.6" height="429.0" fill="none" stroke="#000" stroke-width="2.3"/>
<text transform="translate(1013.20,1041.90) scale(1.0000,1)" font-size="31.0" text-anchor="middle" font-weight="normal" fill="#000">&#915;</text>
<text transform="translate(1101.85,1041.90) scale(1.0000,1)" font-size="31.0" text-anchor="middle" font-weight="normal" fill="#000">Y</text>
<text transform="translate(1192.83,1041.90) scale(1.0000,1)" font-size="31.0" text-anchor="middle" font-weight="normal" fill="#000">S</text>
<text transform="translate(1282.15,1041.90) scale(1.0000,1)" font-size="31.0" text-anchor="middle" font-weight="normal" fill="#000">X</text>
<text transform="translate(1373.80,1041.90) scale(1.0000,1)" font-size="31.0" text-anchor="middle" font-weight="normal" fill="#000">&#915;</text>
<text transform="translate(1194.80,1099.15) scale(0.9300,1)" font-size="44.0" text-anchor="middle" font-weight="normal" fill="#000">15L</text>
<text transform="translate(111.60,583.05) scale(0.9300,1)" font-size="30.0" text-anchor="end" font-weight="normal" fill="#000">3.0</text>
<text transform="translate(1388.10,583.05) scale(0.9300,1)" font-size="30.0" text-anchor="start" font-weight="normal" fill="#000">3.0</text>
<text transform="translate(111.60,636.67) scale(0.9300,1)" font-size="30.0" text-anchor="end" font-weight="normal" fill="#000">2.5</text>
<text transform="translate(1388.10,636.67) scale(0.9300,1)" font-size="30.0" text-anchor="start" font-weight="normal" fill="#000">2.5</text>
<text transform="translate(111.60,690.30) scale(0.9300,1)" font-size="30.0" text-anchor="end" font-weight="normal" fill="#000">2.0</text>
<text transform="translate(1388.10,690.30) scale(0.9300,1)" font-size="30.0" text-anchor="start" font-weight="normal" fill="#000">2.0</text>
<text transform="translate(111.60,743.92) scale(0.9300,1)" font-size="30.0" text-anchor="end" font-weight="normal" fill="#000">1.5</text>
<text transform="translate(1388.10,743.92) scale(0.9300,1)" font-size="30.0" text-anchor="start" font-weight="normal" fill="#000">1.5</text>
<text transform="translate(111.60,797.55) scale(0.9300,1)" font-size="30.0" text-anchor="end" font-weight="normal" fill="#000">1.0</text>
<text transform="translate(1388.10,797.55) scale(0.9300,1)" font-size="30.0" text-anchor="start" font-weight="normal" fill="#000">1.0</text>
<text transform="translate(111.60,851.17) scale(0.9300,1)" font-size="30.0" text-anchor="end" font-weight="normal" fill="#000">0.5</text>
<text transform="translate(1388.10,851.17) scale(0.9300,1)" font-size="30.0" text-anchor="start" font-weight="normal" fill="#000">0.5</text>
<text transform="translate(111.60,904.80) scale(0.9300,1)" font-size="30.0" text-anchor="end" font-weight="normal" fill="#000">0.0</text>
<text transform="translate(1388.10,904.80) scale(0.9300,1)" font-size="30.0" text-anchor="start" font-weight="normal" fill="#000">0.0</text>
<text transform="translate(111.60,958.42) scale(0.9300,1)" font-size="30.0" text-anchor="end" font-weight="normal" fill="#000">-0.5</text>
<text transform="translate(1388.10,958.42) scale(0.9300,1)" font-size="30.0" text-anchor="start" font-weight="normal" fill="#000">-0.5</text>
<text transform="translate(111.60,1012.05) scale(0.9300,1)" font-size="30.0" text-anchor="end" font-weight="normal" fill="#000">-1.0</text>
<text transform="translate(1388.10,1012.05) scale(0.9300,1)" font-size="30.0" text-anchor="start" font-weight="normal" fill="#000">-1.0</text>
<text transform="translate(34.15,867.30) rotate(-90) scale(1.0340,1)" font-size="35.2" text-anchor="start" font-weight="normal" fill="#000">Energy (eV)</text>
<text transform="translate(1485.00,876.00) rotate(-90) scale(1.0280,1)" font-size="35.45" text-anchor="start" font-weight="normal" fill="#000">Energy (eV)</text>
<text transform="translate(-0.10,587.65) scale(0.9800,1)" font-size="36.4" text-anchor="start" font-weight="bold" fill="#000">c</text>
<line x1="153.1" y1="877.6" x2="254.5" y2="820.9" stroke="#f04242" stroke-width="4.3"/>
<path d="M271.0 811.8 L251.4 831.1 L244.3 818.3 Z M136.6 886.7 L163.3 880.2 L156.2 867.4 Z" fill="#f04242" stroke="#f04242" stroke-width="2.6" stroke-linejoin="round"/>
<line x1="607.3" y1="885.3" x2="684.9" y2="846.7" stroke="#f04242" stroke-width="4.3"/>
<path d="M701.7 838.3 L681.2 856.7 L674.7 843.6 Z M590.5 893.7 L617.5 888.4 L611.0 875.3 Z" fill="#f04242" stroke="#f04242" stroke-width="2.6" stroke-linejoin="round"/>
<line x1="1051.3" y1="880.5" x2="1127.3" y2="851.6" stroke="#f04242" stroke-width="4.3"/>
<path d="M1144.9 844.9 L1122.7 861.2 L1117.5 847.5 Z M1033.7 887.2 L1061.1 884.6 L1055.9 870.9 Z" fill="#f04242" stroke="#f04242" stroke-width="2.6" stroke-linejoin="round"/>
</svg></body></html>
